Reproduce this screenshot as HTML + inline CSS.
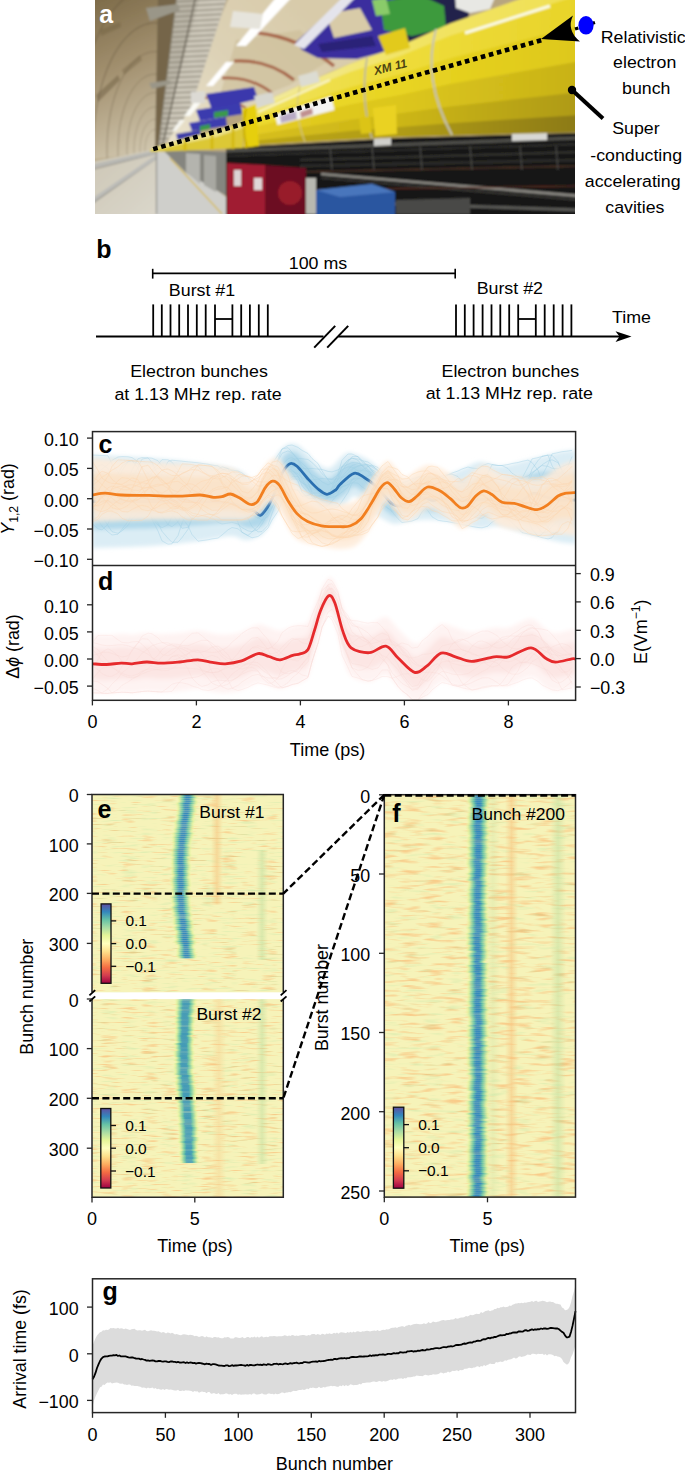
<!DOCTYPE html>
<html><head><meta charset="utf-8"><title>Figure</title>
<style>
html,body{margin:0;padding:0;background:#fff;width:685px;height:1471px;overflow:hidden;}
svg{display:block;}
text{font-family:"Liberation Sans",sans-serif;}
</style></head><body>
<svg width="685" height="1471" viewBox="0 0 685 1471">
<rect width="685" height="1471" fill="#fff"/>
<defs><clipPath id="clipa"><rect x="95" y="0" width="480" height="214"/></clipPath><filter id="blur1" x="-5%" y="-5%" width="110%" height="110%"><feGaussianBlur stdDeviation="0.8"/></filter><filter id="blur3" x="-10%" y="-10%" width="120%" height="120%"><feGaussianBlur stdDeviation="3"/></filter><linearGradient id="wallG" x1="95" y1="0" x2="160" y2="150" gradientUnits="userSpaceOnUse"><stop offset="0" stop-color="#7e6c4a"/><stop offset="0.45" stop-color="#a39170"/><stop offset="1" stop-color="#d2c8b0"/></linearGradient><linearGradient id="ceilG" x1="300" y1="0" x2="170" y2="140" gradientUnits="userSpaceOnUse"><stop offset="0" stop-color="#d8cbaa"/><stop offset="0.5" stop-color="#ddd2b6"/><stop offset="1" stop-color="#e9e2cc"/></linearGradient><linearGradient id="lowWallG" x1="95" y1="150" x2="153" y2="214" gradientUnits="userSpaceOnUse"><stop offset="0" stop-color="#cdc7b6"/><stop offset="1" stop-color="#dad6ca"/></linearGradient><linearGradient id="darkG" x1="0" y1="135" x2="0" y2="214" gradientUnits="userSpaceOnUse"><stop offset="0" stop-color="#4a4a46"/><stop offset="0.25" stop-color="#1d1d1d"/><stop offset="1" stop-color="#2a2a2a"/></linearGradient><linearGradient id="yb0" x1="256" y1="0" x2="580" y2="0" gradientUnits="userSpaceOnUse"><stop offset="0" stop-color="#f2eaa0"/><stop offset="0.45" stop-color="#f2e466"/><stop offset="1" stop-color="#f0e054"/></linearGradient><linearGradient id="yb1" x1="256" y1="0" x2="580" y2="0" gradientUnits="userSpaceOnUse"><stop offset="0" stop-color="#f0e25a"/><stop offset="0.45" stop-color="#eedc3a"/><stop offset="1" stop-color="#e8d42a"/></linearGradient><linearGradient id="yb2" x1="256" y1="0" x2="580" y2="0" gradientUnits="userSpaceOnUse"><stop offset="0" stop-color="#ecda30"/><stop offset="0.45" stop-color="#e8d422"/><stop offset="1" stop-color="#dec81a"/></linearGradient><linearGradient id="yb3" x1="256" y1="0" x2="580" y2="0" gradientUnits="userSpaceOnUse"><stop offset="0" stop-color="#e4cc22"/><stop offset="0.45" stop-color="#dcc61c"/><stop offset="1" stop-color="#c8b218"/></linearGradient><linearGradient id="yb4" x1="256" y1="0" x2="580" y2="0" gradientUnits="userSpaceOnUse"><stop offset="0" stop-color="#d6be1c"/><stop offset="0.45" stop-color="#ccb618"/><stop offset="1" stop-color="#ae9a18"/></linearGradient><linearGradient id="yb5" x1="256" y1="0" x2="580" y2="0" gradientUnits="userSpaceOnUse"><stop offset="0" stop-color="#bca618"/><stop offset="0.45" stop-color="#b09c18"/><stop offset="1" stop-color="#8c7a16"/></linearGradient></defs>
<g clip-path="url(#clipa)">
<g filter="url(#blur1)">
<rect x="90" y="-5" width="490" height="225" fill="#b7a580"/>
<polygon points="90,-5 182,-5 162,150 90,160" fill="url(#wallG)"/>
<path d="M145.6,157.0 145.4,156.0 145.3,155.0 145.2,153.9 145.1,152.9 145.0,151.8 145.0,150.7 145.0,149.6 145.0,148.6 145.1,147.5 145.2,146.4 145.3,145.4 145.4,144.3 145.5,143.3 145.7,142.3 145.9,141.3 146.2,140.4 146.4,139.4 146.7,138.5 147.0,137.7 147.3,136.8 147.7,136.0 148.1,135.3 148.4,134.5 148.8,133.8 149.3,133.2 149.7,132.6 150.2,132.1 150.6,131.6 151.1,131.1 151.6,130.7 152.1,130.4 152.6,130.1 153.1,129.9 153.6,129.7 154.1,129.6 154.7,129.5 155.2,129.5 155.7,129.5" fill="none" stroke="#5e503a" stroke-width="0.8" opacity="0.3"/>
<path d="M140.9,160.5 140.7,159.0 140.4,157.4 140.3,155.9 140.1,154.3 140.1,152.7 140.0,151.1 140.0,149.5 140.0,147.9 140.1,146.3 140.2,144.7 140.4,143.1 140.6,141.5 140.8,140.0 141.1,138.5 141.4,137.0 141.8,135.6 142.1,134.2 142.6,132.8 143.0,131.5 143.5,130.2 144.0,129.0 144.6,127.9 145.2,126.8 145.8,125.8 146.4,124.8 147.1,123.9 147.7,123.1 148.4,122.4 149.1,121.7 149.9,121.1 150.6,120.6 151.4,120.2 152.1,119.8 152.9,119.5 153.7,119.4 154.5,119.3 155.3,119.3 156.0,119.3" fill="none" stroke="#5e503a" stroke-width="0.8" opacity="0.3"/>
<path d="M135.3,164.7 134.9,162.6 134.6,160.4 134.4,158.2 134.2,156.0 134.1,153.8 134.0,151.5 134.0,149.2 134.1,147.0 134.2,144.8 134.3,142.5 134.5,140.3 134.8,138.1 135.1,136.0 135.5,133.9 136.0,131.8 136.5,129.8 137.0,127.8 137.6,125.9 138.2,124.1 138.9,122.3 139.6,120.6 140.4,119.0 141.2,117.5 142.1,116.1 143.0,114.7 143.9,113.5 144.8,112.3 145.8,111.3 146.8,110.4 147.8,109.5 148.9,108.8 149.9,108.2 151.0,107.7 152.1,107.4 153.2,107.1 154.3,107.0 155.4,107.0 156.5,107.1" fill="none" stroke="#5e503a" stroke-width="0.8" opacity="0.35"/>
<path d="M128.7,169.6 128.2,166.8 127.8,163.9 127.5,161.0 127.3,158.0 127.1,155.0 127.0,152.0 127.0,149.0 127.1,146.0 127.2,143.0 127.4,140.0 127.7,137.1 128.1,134.2 128.5,131.3 129.0,128.5 129.6,125.7 130.3,123.1 131.0,120.4 131.8,117.9 132.6,115.5 133.6,113.1 134.5,110.9 135.5,108.7 136.6,106.7 137.8,104.8 138.9,103.0 140.2,101.3 141.4,99.8 142.7,98.4 144.1,97.2 145.4,96.1 146.8,95.1 148.2,94.3 149.7,93.7 151.1,93.2 152.6,92.8 154.0,92.6 155.5,92.6 157.0,92.7" fill="none" stroke="#5e503a" stroke-width="0.9" opacity="0.35"/>
<path d="M120.2,175.9 119.6,172.2 119.1,168.3 118.7,164.5 118.4,160.6 118.1,156.6 118.0,152.6 118.0,148.7 118.1,144.7 118.3,140.8 118.6,136.8 118.9,132.9 119.4,129.1 120.0,125.3 120.7,121.6 121.5,117.9 122.3,114.4 123.3,110.9 124.3,107.6 125.5,104.4 126.7,101.2 127.9,98.3 129.3,95.4 130.7,92.8 132.2,90.2 133.8,87.9 135.4,85.7 137.1,83.7 138.8,81.8 140.5,80.2 142.3,78.7 144.2,77.5 146.0,76.4 147.9,75.5 149.9,74.9 151.8,74.4 153.7,74.2 155.6,74.2 157.6,74.3" fill="none" stroke="#5e503a" stroke-width="0.9" opacity="0.4"/>
<path d="M109.9,183.7 109.1,178.8 108.4,173.8 107.9,168.8 107.5,163.7 107.2,158.6 107.0,153.4 107.0,148.3 107.1,143.1 107.4,138.0 107.7,132.9 108.2,127.9 108.9,122.9 109.6,118.0 110.5,113.1 111.5,108.4 112.6,103.8 113.9,99.3 115.2,95.0 116.7,90.8 118.2,86.7 119.9,82.9 121.7,79.2 123.5,75.7 125.4,72.5 127.5,69.4 129.6,66.6 131.7,63.9 134.0,61.6 136.2,59.4 138.6,57.5 141.0,55.9 143.4,54.5 145.8,53.4 148.3,52.6 150.8,52.0 153.3,51.7 155.8,51.6 158.3,51.8" fill="none" stroke="#5e503a" stroke-width="1" opacity="0.4"/>
<path d="M96.7,193.5 95.7,187.2 94.8,180.7 94.1,174.3 93.6,167.7 93.2,161.1 93.0,154.4 93.0,147.8 93.2,141.1 93.5,134.5 93.9,127.9 94.6,121.4 95.4,115.0 96.4,108.6 97.5,102.4 98.8,96.3 100.3,90.3 101.9,84.5 103.6,78.9 105.5,73.5 107.5,68.3 109.7,63.3 111.9,58.6 114.3,54.1 116.8,49.8 119.4,45.9 122.1,42.2 124.9,38.8 127.8,35.8 130.8,33.0 133.8,30.6 136.9,28.5 140.0,26.7 143.2,25.2 146.4,24.1 149.6,23.4 152.8,23.0 156.1,22.9 159.3,23.2" fill="none" stroke="#5e503a" stroke-width="1.1" opacity="0.45"/>
<path d="M79.8,206.1 78.5,197.9 77.4,189.7 76.5,181.3 75.8,172.8 75.3,164.3 75.0,155.7 75.0,147.1 75.2,138.6 75.6,130.0 76.2,121.5 77.1,113.1 78.1,104.8 79.4,96.6 80.8,88.6 82.5,80.7 84.4,73.0 86.4,65.5 88.7,58.3 91.1,51.3 93.7,44.6 96.5,38.2 99.4,32.0 102.5,26.2 105.7,20.8 109.1,15.7 112.6,10.9 116.2,6.6 119.9,2.6 123.7,-1.0 127.6,-4.1 131.6,-6.8 135.6,-9.1 139.7,-11.0 143.9,-12.4 148.0,-13.4 152.2,-13.9 156.4,-14.0 160.6,-13.6" fill="none" stroke="#5e503a" stroke-width="1.2" opacity="0.45"/>
<path d="M58.2,222.2 56.5,211.7 55.1,201.1 53.9,190.3 53.0,179.4 52.4,168.4 52.1,157.4 52.0,146.3 52.3,135.3 52.8,124.3 53.6,113.3 54.6,102.5 56.0,91.8 57.6,81.3 59.5,70.9 61.7,60.8 64.1,50.9 66.7,41.2 69.6,31.9 72.7,22.9 76.1,14.3 79.7,6.0 83.5,-1.9 87.4,-9.4 91.6,-16.4 95.9,-23.0 100.4,-29.1 105.1,-34.7 109.8,-39.8 114.8,-44.4 119.8,-48.4 124.9,-51.9 130.1,-54.9 135.3,-57.3 140.7,-59.1 146.0,-60.3 151.4,-61.0 156.8,-61.1 162.2,-60.6" fill="none" stroke="#5e503a" stroke-width="1.3" opacity="0.45"/>
<path d="M31.0,242.6 28.8,229.1 26.9,215.5 25.4,201.6 24.3,187.7 23.5,173.6 23.1,159.4 23.0,145.3 23.3,131.1 24.0,117.0 25.0,103.0 26.4,89.1 28.1,75.4 30.2,61.9 32.6,48.6 35.4,35.6 38.5,23.0 41.9,10.6 45.6,-1.3 49.6,-12.9 53.9,-23.9 58.5,-34.5 63.3,-44.7 68.4,-54.2 73.7,-63.2 79.3,-71.7 85.1,-79.5 91.0,-86.7 97.1,-93.2 103.4,-99.1 109.9,-104.3 116.4,-108.8 123.1,-112.6 129.8,-115.6 136.6,-118.0 143.5,-119.6 150.4,-120.4 157.3,-120.6 164.2,-119.9" fill="none" stroke="#5e503a" stroke-width="1.4" opacity="0.45"/>
<polygon points="96,95 118,75 120,80 98,102" fill="#6e5e42" opacity="0.5"/>
<polygon points="122,70 140,55 142,60 124,75" fill="#6e5e42" opacity="0.4"/>
<polygon points="100,30 120,22 121,27 101,36" fill="#6e5e42" opacity="0.4"/>
<polygon points="158,-5 178,-5 160,149 155,150" fill="#74654a"/>
<polygon points="230,-5 425,-5 425,46 400,46 380,52.8 357,61 333,70.4 310,81 287,91 256,105 242,110 200,128 166,146" fill="url(#ceilG)"/>
<polygon points="236,40 300,30 330,60 290,85 250,100 220,95" fill="#cbbb96" opacity="0.55"/>
<path d="M258,33 Q298,37 334,66" stroke="#a0553a" stroke-width="3.4" fill="none" opacity="0.85"/>
<path d="M234,61 Q268,59 294,80" stroke="#a0553a" stroke-width="3.2" fill="none" opacity="0.85"/>
<path d="M222,78 Q250,76 272,93" stroke="#a0553a" stroke-width="2.8" fill="none" opacity="0.85"/>
<path d="M205,98 Q228,96 246,108" stroke="#a0553a" stroke-width="2.2" fill="none" opacity="0.85"/>
<polygon points="177,-5 228,-5 190,110 161,149 158,149" fill="#b9b4a6"/>
<polygon points="200,-5 228,-5 190,110 161,149" fill="#cdc8ba"/>
<line x1="177" y1="-3.5" x2="228" y2="-6.5" stroke="#7e786a" stroke-width="1.0"/>
<line x1="176.4" y1="1.6" x2="226.3" y2="-1.3" stroke="#7e786a" stroke-width="1.0"/>
<line x1="175.7" y1="6.7" x2="224.6" y2="3.9" stroke="#7e786a" stroke-width="1.0"/>
<line x1="175.1" y1="11.8" x2="222.9" y2="9.1" stroke="#7e786a" stroke-width="1.0"/>
<line x1="174.5" y1="16.8" x2="221.2" y2="14.2" stroke="#7e786a" stroke-width="1.0"/>
<line x1="173.8" y1="21.9" x2="219.5" y2="19.4" stroke="#7e786a" stroke-width="1.0"/>
<line x1="173.2" y1="27" x2="217.8" y2="24.6" stroke="#7e786a" stroke-width="1.0"/>
<line x1="172.6" y1="32.1" x2="216.1" y2="29.8" stroke="#7e786a" stroke-width="1.0"/>
<line x1="171.9" y1="37.2" x2="214.4" y2="35" stroke="#7e786a" stroke-width="1.0"/>
<line x1="171.3" y1="42.2" x2="212.7" y2="40.1" stroke="#7e786a" stroke-width="1.0"/>
<line x1="170.7" y1="47.3" x2="211" y2="45.3" stroke="#7e786a" stroke-width="1.0"/>
<line x1="170" y1="52.4" x2="209.3" y2="50.5" stroke="#7e786a" stroke-width="1.0"/>
<line x1="169.4" y1="57.5" x2="207.6" y2="55.7" stroke="#7e786a" stroke-width="1.0"/>
<line x1="168.8" y1="62.6" x2="205.9" y2="60.9" stroke="#7e786a" stroke-width="1.0"/>
<line x1="168.1" y1="67.7" x2="204.3" y2="66.1" stroke="#7e786a" stroke-width="1.0"/>
<line x1="167.5" y1="72.8" x2="202.6" y2="71.2" stroke="#7e786a" stroke-width="1.0"/>
<line x1="166.9" y1="77.8" x2="200.9" y2="76.4" stroke="#7e786a" stroke-width="1.0"/>
<line x1="166.2" y1="82.9" x2="199.2" y2="81.6" stroke="#7e786a" stroke-width="1.0"/>
<line x1="165.6" y1="88" x2="197.5" y2="86.8" stroke="#7e786a" stroke-width="1.0"/>
<line x1="165" y1="93.1" x2="195.8" y2="92" stroke="#7e786a" stroke-width="1.0"/>
<line x1="164.3" y1="98.2" x2="194.1" y2="97.2" stroke="#7e786a" stroke-width="1.0"/>
<line x1="163.7" y1="103.2" x2="192.4" y2="102.3" stroke="#7e786a" stroke-width="1.0"/>
<line x1="163.1" y1="108.3" x2="190.7" y2="107.5" stroke="#7e786a" stroke-width="1.0"/>
<line x1="162.4" y1="113.4" x2="187.7" y2="112.7" stroke="#7e786a" stroke-width="1.0"/>
<line x1="161.8" y1="118.5" x2="183.9" y2="117.9" stroke="#7e786a" stroke-width="1.0"/>
<line x1="161.2" y1="123.6" x2="180.1" y2="123.1" stroke="#7e786a" stroke-width="1.0"/>
<line x1="160.5" y1="128.7" x2="176.3" y2="128.3" stroke="#7e786a" stroke-width="1.0"/>
<line x1="159.9" y1="133.8" x2="172.5" y2="133.4" stroke="#7e786a" stroke-width="1.0"/>
<line x1="159.3" y1="138.8" x2="168.6" y2="138.6" stroke="#7e786a" stroke-width="1.0"/>
<line x1="158.6" y1="143.9" x2="164.8" y2="143.8" stroke="#7e786a" stroke-width="1.0"/>
<line x1="196" y1="-5" x2="162" y2="149" stroke="#5e584c" stroke-width="1.2"/>
<line x1="177" y1="-5" x2="158" y2="149" stroke="#8a8474" stroke-width="1.0"/>
<polygon points="146,8 178,4 180,10 150,21" fill="#9a9688"/>
<polygon points="149,83 170,80 171,84 152,89" fill="#9a9688"/>
<polygon points="278,-5 294,-5 246,46 236,46" fill="#ffffff"/>
<polygon points="226,62 234,62 213,86 206,86" fill="#ffffff"/>
<polygon points="196,100 203,100 190,116 184,116" fill="#fbfbf6"/>
<polygon points="180,120 185,120 176,131 172,131" fill="#f6f6f0"/>
<polygon points="233,11 263,14 260,29 230,27" fill="#e6e4dc"/>
<polygon points="191,92 205,91 205,103 191,103" fill="#dcdad4"/>
<polygon points="296,42 348,-5 400,-5 400,46 380,53 357,59 318,58 302,50" fill="#3a2f9e"/>
<polygon points="326,14 360,8 372,30 334,38" fill="#d8cba8"/>
<polygon points="318,44 372,36 376,46 322,52" fill="#2c2478"/>
<polygon points="294,45 345,-5 358,-5 304,49" fill="#e4e4ec"/>
<polygon points="395,-5 472,-5 468,20 440,30 404,44 396,40" fill="#24244c"/>
<polygon points="380,2 420,-5 444,6 446,28 412,36 384,30" fill="#3e9a3e"/>
<polygon points="372,0 386,-2 390,14 376,16" fill="#8acb6a"/>
<polygon points="455,-5 496,-5 490,9 470,13 456,8" fill="#e8e8e4"/>
<polygon points="206,94 254,87 258,99 212,110" fill="#3b39ac"/>
<polygon points="196,110 240,103 243,114 200,121" fill="#3a3aae"/>
<polygon points="189,123 226,117 227,126 192,131" fill="#3d3cae"/>
<polygon points="176,134 200,130 201,137 178,141" fill="#3c3ca8"/>
<polygon points="214,112 228,110 228,116 214,118" fill="#3a9a4c"/>
<polygon points="200,126 210,124 210,129 200,131" fill="#3a9a4c"/>
<polygon points="90,162 157,149 157,220 90,220" fill="url(#lowWallG)"/>
<line x1="90" y1="170" x2="156" y2="153.5" stroke="#8c8a84" stroke-width="1.2"/>
<line x1="90" y1="167" x2="156" y2="152" stroke="#b8b8b4" stroke-width="3.4"/>
<line x1="90" y1="205" x2="156" y2="158.5" stroke="#8c8a84" stroke-width="1.2"/>
<line x1="90" y1="202" x2="156" y2="157" stroke="#bcbcb8" stroke-width="3.4"/>
<polygon points="156,150 156,220 243,220 230,200 166,152" fill="#cfcfcb"/>
<line x1="170" y1="158" x2="222" y2="214" stroke="#d8bc50" stroke-width="1.2"/>
<line x1="156.5" y1="150" x2="156.5" y2="214" stroke="#8a8a86" stroke-width="1.2"/>
<polygon points="162,149 230,152 230,198 185,172 166,153" fill="#85857f"/>
<polygon points="186,153 200,154 200,184 186,172" fill="#b4b4ae"/>
<polygon points="204,155 216,156 216,192 204,185" fill="#a8a8a2"/>
<polygon points="226,149 256,146 400,138 580,133 580,220 226,220" fill="#161616"/>
<line x1="226" y1="151" x2="580" y2="138" stroke="#4e4d48" stroke-width="3.5"/>
<line x1="226" y1="156" x2="580" y2="144" stroke="#3a3a36" stroke-width="1.2"/>
<line x1="300" y1="160" x2="580" y2="152" stroke="#3c3c38" stroke-width="1.5"/>
<line x1="300" y1="166" x2="580" y2="160" stroke="#2e2e2c" stroke-width="2.5"/>
<line x1="300" y1="172" x2="580" y2="166" stroke="#5a3a2c" stroke-width="1"/>
<line x1="321" y1="174" x2="580" y2="196" stroke="#8c8a84" stroke-width="2.6"/>
<line x1="321" y1="178" x2="580" y2="200" stroke="#4a4844" stroke-width="1.2"/>
<line x1="300" y1="190" x2="580" y2="186" stroke="#6a3626" stroke-width="0.9"/>
<line x1="395" y1="204" x2="580" y2="210" stroke="#5a5a56" stroke-width="3"/>
<line x1="330" y1="146" x2="332" y2="170" stroke="#4a4a46" stroke-width="1.2"/>
<line x1="372" y1="146" x2="374" y2="170" stroke="#4a4a46" stroke-width="1.2"/>
<line x1="420" y1="146" x2="422" y2="170" stroke="#4a4a46" stroke-width="1.2"/>
<line x1="470" y1="146" x2="472" y2="170" stroke="#4a4a46" stroke-width="1.2"/>
<line x1="520" y1="146" x2="522" y2="170" stroke="#4a4a46" stroke-width="1.2"/>
<line x1="556" y1="146" x2="558" y2="170" stroke="#4a4a46" stroke-width="1.2"/>
<polygon points="512,128 547,127 547,140 512,141" fill="#d8d8d4"/>
<polygon points="374,139 391,138 391,145 374,146" fill="#d0d0cc"/>
<polygon points="396,200 470,198 470,214 396,214" fill="#4a4a46"/>
<polygon points="227,163 265,165 265,220 227,220" fill="#a01a30"/>
<polygon points="265,165 306,168 306,220 265,220" fill="#6c1020"/>
<circle cx="290" cy="193" r="12" fill="#981a2a"/>
<polygon points="234,170 241,170 241,186 234,186" fill="#dcd4d4"/>
<polygon points="254,178 262,178 262,190 254,190" fill="#e0d8d8"/>
<polygon points="316,190 372,184 395,192 395,220 316,220" fill="#2a56a0"/>
<polygon points="316,190 372,184 395,192 340,197" fill="#4a76bc"/>
<polygon points="306,178 316,178 316,214 306,214" fill="#b8b8b0"/>
<polygon points="151,149 160,146 186,138 216,131 238,124 243,121 243,148 200,150 150,152" fill="#dcc834"/>
<polygon points="151,149 160,146 186,138 216,131 238,124 243,121 243,128 216,137 186,143 160,149 151,150" fill="#ece286"/>
<line x1="185" y1="139" x2="185" y2="151" stroke="#d2b800" stroke-width="2.4"/>
<line x1="212" y1="132" x2="212" y2="150" stroke="#d2b800" stroke-width="2.4"/>
<line x1="233" y1="125" x2="233" y2="149" stroke="#d2b800" stroke-width="2.4"/>
<polygon points="256,105 300,85.3 350,63.7 400,46 450,23.5 500,6 540,-8.1 585,-24 585,-5.3 540,8.9 500,21.4 450,37 400,56.9 350,72.8 300,92.2 256,109.8" fill="url(#yb0)"/>
<polygon points="256,109.4 300,91.6 350,72.1 400,56 450,35.8 500,20.1 540,7.5 585,-6.8 585,25.9 540,37.1 500,47 450,59.4 400,75.1 350,87.9 300,103.6 256,117.8" fill="url(#yb1)"/>
<polygon points="256,117.4 300,103 350,87.2 400,74.2 450,58.3 500,45.7 540,35.7 585,24.4 585,61.8 540,69.6 500,76.5 450,85.2 400,96.1 350,105.3 300,116.6 256,127" fill="url(#yb2)"/>
<polygon points="256,126.6 300,116.1 350,104.6 400,95.1 450,84 500,75.2 540,68.2 585,60.2 585,93 540,97.9 500,102.2 450,107.6 400,114.2 350,120.5 300,128 256,135" fill="url(#yb3)"/>
<polygon points="256,134.6 300,127.4 350,119.7 400,113.3 450,106.5 500,100.9 540,96.5 585,91.4 585,116.4 540,119.1 500,121.4 450,124.4 400,127.9 350,131.8 300,136.5 256,141" fill="url(#yb4)"/>
<polygon points="256,140.6 300,136 350,131.1 400,127 450,123.3 500,120.1 540,117.6 585,114.8 585,132 540,133.2 500,134.2 450,135.6 400,137 350,139.4 300,142.2 256,145" fill="url(#yb5)"/>
<polygon points="242,109 256,104 259,146 244,148" fill="#e6cf10"/>
<path d="M246,109 Q241,128 247,148" stroke="#c8ae00" stroke-width="2" fill="none"/>
<path d="M367,58 Q360,98 372,139" stroke="#b6b4a4" stroke-width="1.6" fill="none"/>
<path d="M436,29 Q422,80 452,135" stroke="#c4c2b0" stroke-width="2" fill="none"/>
<path d="M300,86 Q293,112 305,142" stroke="#d2c480" stroke-width="1.2" fill="none"/>
<polygon points="254,96 272,92 275,103 257,108" fill="#d8d8d0"/>
<polygon points="298,76 317,71 320,82 301,87" fill="#dcdcd2"/>
<polygon points="378,36 405,28 410,48 386,55" fill="#e2ca1c"/>
<polygon points="373,108 396,105 397,134 375,136" fill="#ead222"/>
<polygon points="359,118 370,116 372,133 361,134" fill="#dcc414"/>
<polygon points="275,114.7 331,96 334.6,110 277.4,125" fill="#f4f4f2"/>
<polygon points="280,116 296,111 297,119 281,123" fill="#b8aac4"/>
<polygon points="300,112 312,108 313,114 301,118" fill="#c09090"/>
<line x1="465" y1="33" x2="550" y2="6" stroke="#fbfbe8" stroke-width="3"/>
<line x1="258" y1="112" x2="330" y2="80" stroke="#fbf8e0" stroke-width="2" opacity="0.8"/>
</g>
<text transform="translate(375,75) rotate(-14)" font-size="12" font-weight="bold" font-style="italic" fill="#4c4412">XM 11</text>
<line x1="153.2" y1="149.1" x2="543" y2="39.8" stroke="#000" stroke-width="4.6" stroke-dasharray="4.6,3.7"/>
</g>
<path d="M541,39 L573,15.5 Q566,30 580,41.5 Z" fill="#000"/>
<line x1="575" y1="29" x2="598" y2="21.5" stroke="#000" stroke-width="3.2" stroke-dasharray="3.5,14"/>
<ellipse cx="586" cy="25.3" rx="7.6" ry="9.3" fill="#0000ff"/>
<circle cx="572" cy="90" r="4.2" fill="#000"/>
<line x1="572" y1="90" x2="603" y2="118.5" stroke="#000" stroke-width="4"/>
<text x="99.2" y="22.9" font-size="25" font-weight="bold" fill="#fff">a</text>
<text transform="translate(643.20,42.80) scale(1.045,1)" font-size="17" text-anchor="middle">Relativistic</text>
<text transform="translate(644.70,68.20) scale(1.045,1)" font-size="17" text-anchor="middle">electron</text>
<text transform="translate(646.20,94.20) scale(1.045,1)" font-size="17" text-anchor="middle">bunch</text>
<text transform="translate(635.90,134.20) scale(1.045,1)" font-size="17" text-anchor="middle">Super</text>
<text transform="translate(636.10,161.40) scale(1.045,1)" font-size="17" text-anchor="middle">-conducting</text>
<text transform="translate(632.70,187.20) scale(1.045,1)" font-size="17" text-anchor="middle">accelerating</text>
<text transform="translate(634.90,213.40) scale(1.045,1)" font-size="17" text-anchor="middle">cavities</text>
<text x="96.3" y="258.3" font-size="25" font-weight="bold">b</text>
<line x1="152.7" y1="273.4" x2="455.2" y2="273.4" stroke="#000" stroke-width="1.8"/>
<line x1="152.7" y1="268.8" x2="152.7" y2="278.6" stroke="#000" stroke-width="1.6"/>
<line x1="455.2" y1="268.8" x2="455.2" y2="278.6" stroke="#000" stroke-width="1.6"/>
<text transform="translate(318.00,269.20) scale(1.03,1)" font-size="17.3" text-anchor="middle">100 ms</text>
<text transform="translate(202.00,295.60) scale(1.03,1)" font-size="17.3" text-anchor="middle">Burst #1</text>
<text transform="translate(509.80,294.00) scale(1.03,1)" font-size="17.3" text-anchor="middle">Burst #2</text>
<line x1="153.2" y1="304.4" x2="153.2" y2="336.6" stroke="#000" stroke-width="1.8"/>
<line x1="161.8" y1="304.4" x2="161.8" y2="336.6" stroke="#000" stroke-width="1.8"/>
<line x1="170.5" y1="304.4" x2="170.5" y2="336.6" stroke="#000" stroke-width="1.8"/>
<line x1="179.2" y1="304.4" x2="179.2" y2="336.6" stroke="#000" stroke-width="1.8"/>
<line x1="188" y1="304.4" x2="188" y2="336.6" stroke="#000" stroke-width="1.8"/>
<line x1="196.8" y1="304.4" x2="196.8" y2="336.6" stroke="#000" stroke-width="1.8"/>
<line x1="205.7" y1="304.4" x2="205.7" y2="336.6" stroke="#000" stroke-width="1.8"/>
<line x1="215" y1="304.4" x2="215" y2="336.6" stroke="#000" stroke-width="1.8"/>
<line x1="232.4" y1="304.4" x2="232.4" y2="336.6" stroke="#000" stroke-width="1.8"/>
<line x1="241.2" y1="304.4" x2="241.2" y2="336.6" stroke="#000" stroke-width="1.8"/>
<line x1="249.9" y1="304.4" x2="249.9" y2="336.6" stroke="#000" stroke-width="1.8"/>
<line x1="258.8" y1="304.4" x2="258.8" y2="336.6" stroke="#000" stroke-width="1.8"/>
<line x1="267.8" y1="304.4" x2="267.8" y2="336.6" stroke="#000" stroke-width="1.8"/>
<line x1="215" y1="319" x2="232.4" y2="319" stroke="#000" stroke-width="1.8"/>
<line x1="456" y1="304.4" x2="456" y2="336.6" stroke="#000" stroke-width="1.8"/>
<line x1="464.8" y1="304.4" x2="464.8" y2="336.6" stroke="#000" stroke-width="1.8"/>
<line x1="473.6" y1="304.4" x2="473.6" y2="336.6" stroke="#000" stroke-width="1.8"/>
<line x1="482.6" y1="304.4" x2="482.6" y2="336.6" stroke="#000" stroke-width="1.8"/>
<line x1="491.5" y1="304.4" x2="491.5" y2="336.6" stroke="#000" stroke-width="1.8"/>
<line x1="500.3" y1="304.4" x2="500.3" y2="336.6" stroke="#000" stroke-width="1.8"/>
<line x1="509.2" y1="304.4" x2="509.2" y2="336.6" stroke="#000" stroke-width="1.8"/>
<line x1="518.2" y1="304.4" x2="518.2" y2="336.6" stroke="#000" stroke-width="1.8"/>
<line x1="535.8" y1="304.4" x2="535.8" y2="336.6" stroke="#000" stroke-width="1.8"/>
<line x1="544.7" y1="304.4" x2="544.7" y2="336.6" stroke="#000" stroke-width="1.8"/>
<line x1="553.7" y1="304.4" x2="553.7" y2="336.6" stroke="#000" stroke-width="1.8"/>
<line x1="562.6" y1="304.4" x2="562.6" y2="336.6" stroke="#000" stroke-width="1.8"/>
<line x1="571.4" y1="304.4" x2="571.4" y2="336.6" stroke="#000" stroke-width="1.8"/>
<line x1="518.2" y1="319" x2="535.8" y2="319" stroke="#000" stroke-width="1.8"/>
<line x1="96" y1="336.6" x2="323.5" y2="336.6" stroke="#000" stroke-width="2.0"/>
<line x1="338.2" y1="336.6" x2="620" y2="336.6" stroke="#000" stroke-width="2.0"/>
<path d="M631.5,336.6 L615.5,331.2 L619.5,336.6 L615.5,342 Z" fill="#000"/>
<line x1="314.2" y1="347.6" x2="335.2" y2="325.9" stroke="#000" stroke-width="2.0"/>
<line x1="327.2" y1="347.6" x2="348.2" y2="325.9" stroke="#000" stroke-width="2.0"/>
<text transform="translate(612.00,322.80) scale(1.03,1)" font-size="17.3">Time</text>
<text transform="translate(199.00,377.00) scale(1.03,1)" font-size="17.3" text-anchor="middle">Electron bunches</text>
<text transform="translate(198.00,399.60) scale(1.03,1)" font-size="17.3" text-anchor="middle">at 1.13 MHz rep. rate</text>
<text transform="translate(510.30,377.00) scale(1.03,1)" font-size="17.3" text-anchor="middle">Electron bunches</text>
<text transform="translate(509.30,399.20) scale(1.03,1)" font-size="17.3" text-anchor="middle">at 1.13 MHz rep. rate</text>
<defs><clipPath id="clipc"><rect x="92.5" y="431.6" width="483.1" height="134"/></clipPath><clipPath id="clipd"><rect x="92.5" y="565.6" width="483.1" height="134.7"/></clipPath></defs>
<defs><filter id="bblur" x="-5%" y="-20%" width="110%" height="140%"><feGaussianBlur stdDeviation="2.2"/></filter></defs>
<g clip-path="url(#clipc)">
<g filter="url(#bblur)">
<path d="M92,455C101.7,455.5 132,456.7 150,458C168,459.3 186.7,461.3 200,463C213.3,464.7 222.5,466.2 230,468C237.5,469.8 240.8,470.7 245,474C249.2,477.3 251.7,486.7 255,488C258.3,489.3 261.7,487 265,482C268.3,477 271.7,464 275,458C278.3,452 281.7,448.3 285,446C288.3,443.7 291.7,443.2 295,444C298.3,444.8 301.2,447.7 305,451C308.8,454.3 313.8,461.2 318,464C322.2,466.8 325.5,469.7 330,468C334.5,466.3 340.8,456.3 345,454C349.2,451.7 350.8,452.8 355,454C359.2,455.2 365,457.7 370,461C375,464.3 380.8,470.7 385,474C389.2,477.3 391.7,479.7 395,481C398.3,482.3 400.8,482.8 405,482C409.2,481.2 415,476.7 420,476C425,475.3 430,478.3 435,478C440,477.7 445,475.7 450,474C455,472.3 460,470 465,468C470,466 474.2,462.3 480,462C485.8,461.7 493.3,466 500,466C506.7,466 513.3,463.5 520,462C526.7,460.5 533.3,458.7 540,457C546.7,455.3 554.1,453.2 560,452C565.9,450.8 573,450.3 575.6,450L575.6,544C573,543.7 565.9,543.2 560,542C554.1,540.8 546.7,538.7 540,537C533.3,535.3 526.7,533.8 520,532C513.3,530.2 506.7,526.7 500,526C493.3,525.3 485.8,528.2 480,528C474.2,527.8 470,526 465,525C460,524 455,522.8 450,522C445,521.2 440,520.3 435,520C430,519.7 425,519.7 420,520C415,520.3 409.2,521.3 405,522C400.8,522.7 398.3,524.3 395,524C391.7,523.7 389.2,522.3 385,520C380.8,517.7 375,514 370,510C365,506 359.2,497 355,496C350.8,495 349.2,501.7 345,504C340.8,506.3 334.5,509.3 330,510C325.5,510.7 322.2,509.7 318,508C313.8,506.3 308.8,503.5 305,500C301.2,496.5 298.3,487.5 295,487C291.7,486.5 288.3,492.2 285,497C281.7,501.8 278.3,510.2 275,516C271.7,521.8 268.3,528.3 265,532C261.7,535.7 258.3,536.7 255,538C251.7,539.3 249.2,540.3 245,540C240.8,539.7 237.5,535.8 230,536C222.5,536.2 213.3,539.3 200,541C186.7,542.7 168,544.8 150,546C132,547.2 101.7,547.7 92,548Z" fill="#dbedf5"/>
<path d="M92,473.7C101.7,474 132,474.6 150,475.4C168,476.2 186.7,477.3 200,478.4C213.3,479.5 222.5,480.5 230,482C237.5,483.5 240.8,485 245,487.6C249.2,490.2 251.7,496.5 255,497.5C258.3,498.5 261.7,497.8 265,493.5C268.3,489.2 271.7,478.1 275,471.7C278.3,465.3 281.7,458.2 285,455C288.3,451.8 291.7,451.3 295,452.3C298.3,453.3 301.2,457.2 305,460.8C308.8,464.4 313.8,471.1 318,474C322.2,476.9 325.5,479.9 330,478.3C334.5,476.6 340.8,467 345,464.3C349.2,461.5 350.8,460.8 355,461.7C359.2,462.5 365,465.6 370,469.1C375,472.7 380.8,479.3 385,482.9C389.2,486.5 391.7,489.4 395,490.7C398.3,492.1 400.8,492.1 405,491.2C409.2,490.2 415,485.7 420,484.9C425,484.2 430,487 435,486.9C440,486.7 445,485 450,484C455,483 460,481.9 465,480.8C470,479.6 474.2,477.2 480,477C485.8,476.8 493.3,479.2 500,479.3C506.7,479.4 513.3,478.9 520,477.7C526.7,476.5 533.3,473.2 540,472.1C546.7,471 554.1,471.5 560,471.2C565.9,470.9 573,470.2 575.6,470L575.6,526.4C573,526.2 565.9,526.3 560,525.2C554.1,524.1 546.7,521 540,520.1C533.3,519.2 526.7,520.5 520,519.7C513.3,518.9 506.7,515.8 500,515.3C493.3,514.8 485.8,516.7 480,516.6C474.2,516.5 470,515.6 465,515C460,514.3 455,513.3 450,512.8C445,512.3 440,512.3 435,512.1C430,511.8 425,510.8 420,511.3C415,511.9 409.2,514.3 405,515.2C400.8,516 398.3,517.3 395,516.5C391.7,515.8 389.2,513.5 385,510.5C380.8,507.5 375,502.5 370,498.5C365,494.6 359.2,487.6 355,486.9C350.8,486.1 349.2,491.5 345,494.3C340.8,497 334.5,502.4 330,503.5C325.5,504.5 322.2,502.6 318,500.4C313.8,498.2 308.8,493.9 305,490.2C301.2,486.5 298.3,478.9 295,478.1C291.7,477.3 288.3,480.9 285,485.6C281.7,490.3 278.3,500.2 275,506.5C271.7,512.8 268.3,520 265,523.5C261.7,527 258.3,526.9 255,527.5C251.7,528.1 249.2,528 245,527.2C240.8,526.4 237.5,523.1 230,522.8C222.5,522.5 213.3,524.3 200,525.2C186.7,526.1 168,527.5 150,528.2C132,528.9 101.7,529.3 92,529.5Z" fill="#b0d8ea"/>
</g>
<path d="M92,515.5 98,520.0 102,526.2 108,531.9 112,535.0 118,534.2 122,529.3 128,521.5 132,512.9 138,505.3 142,500.3 148,498.2 152,498.4 158,500.0 162,502.0 168,504.4 172,507.3 178,511.6 182,517.8 188,525.7 192,534.5 198,541.2 202,540.6 208,539.8 212,538.9 218,538.1 222,535.0 228,529.8 232,527.5 238,528.8 242,532.2 248,535.7 252,537.8 258,536.5 262,533.5 268,528.0 272,520.0 278,511.2 282,501.8 288,494.5 292,489.5 298,490.2 302,496.4 308,495.4 312,493.4 318,492.8 322,493.3 328,493.7 332,492.3 338,489.5 342,486.8 348,484.8 352,482.7 358,483.2 362,486.9 368,490.8 372,495.1 378,499.7 382,504.6 388,508.3 392,510.6 398,510.3 402,507.8 408,504.8 412,502.5 418,501.9 422,504.9 428,510.8 432,516.8 438,520.3 442,521.0 448,521.7 452,522.5 458,523.5 462,524.5 468,525.5 472,526.5 478,527.5 482,527.8 488,526.1 492,522.1 498,518.7 502,517.5 508,518.9 512,522.7 518,528.3 522,532.6 528,533.9 532,535.1 538,536.4 542,534.4 548,527.2 552,519.9 558,513.7 562,508.7 568,504.9 572,501.7" fill="none" stroke="#9fcfe4" stroke-width="0.7" stroke-opacity="0.6"/>
<path d="M92,493.0 98,504.8 102,516.3 108,525.7 112,531.7 118,533.3 122,530.9 128,525.4 132,518.8 138,513.1 142,510.1 148,511.0 152,515.7 158,523.0 162,531.3 168,538.3 172,542.3 178,542.2 182,537.6 188,529.3 192,518.9 198,507.9 202,498.0 208,490.6 212,485.8 218,483.7 222,483.7 228,485.3 232,488.3 238,492.3 242,496.6 248,501.2 252,505.4 258,509.8 262,509.6 268,502.3 272,491.4 278,478.0 282,465.2 288,458.7 292,457.5 298,462.0 302,471.1 308,482.8 312,493.6 318,502.8 322,508.3 328,509.6 332,509.0 338,507.0 342,501.4 348,492.4 352,483.1 358,478.6 362,479.2 368,482.2 372,487.7 378,494.9 382,502.4 388,508.2 392,511.8 398,512.0 402,509.0 408,504.2 412,497.3 418,490.6 422,486.0 428,484.2 432,483.8 438,483.0 442,482.7 448,483.9 452,486.3 458,490.1 462,495.4 468,501.3 472,505.9 478,509.6 482,511.4 488,511.1 492,509.3 498,506.7 502,504.5 508,503.5 512,504.5 518,508.3 522,513.6 528,520.1 532,529.0 538,536.4 542,537.6 548,538.9 552,537.8 558,529.2 562,517.9 568,505.8 572,494.3" fill="none" stroke="#9fcfe4" stroke-width="0.7" stroke-opacity="0.6"/>
<path d="M92,491.1 98,490.4 102,489.4 108,486.5 112,481.0 118,473.7 122,466.5 128,461.5 132,460.4 138,463.8 142,470.4 148,478.3 152,485.3 158,489.5 162,490.6 168,489.5 172,488.1 178,487.8 182,489.7 188,493.3 192,497.4 198,500.4 202,500.9 208,498.6 212,494.6 218,490.5 222,488.1 228,488.7 232,492.8 238,499.5 242,506.9 248,512.4 252,515.3 258,517.7 262,515.8 268,507.8 272,497.9 278,486.0 282,474.0 288,468.1 292,465.8 298,466.7 302,468.4 308,468.7 312,468.4 318,469.1 322,469.4 328,471.4 332,471.9 338,469.9 342,466.9 348,464.3 352,462.6 358,462.8 362,465.5 368,469.5 372,475.7 378,483.7 382,492.6 388,500.5 392,505.6 398,506.5 402,503.5 408,498.9 412,494.8 418,492.1 422,492.2 428,494.8 432,498.6 438,498.6 442,497.8 448,496.8 452,495.4 458,494.7 462,495.9 468,499.1 472,502.7 478,505.6 482,506.7 488,504.9 492,500.9 498,495.0 502,488.6 508,483.1 512,479.8 518,478.8 522,478.1 528,475.9 532,472.5 538,468.9 542,464.8 548,461.0 552,459.8 558,462.7 562,470.1 568,480.0 572,489.6" fill="none" stroke="#9fcfe4" stroke-width="0.7" stroke-opacity="0.6"/>
<path d="M92,478.4 98,485.6 102,491.8 108,494.5 112,493.6 118,491.2 122,490.3 128,492.6 132,497.4 138,502.0 142,503.6 148,501.2 152,496.1 158,491.4 162,489.7 168,491.7 172,496.0 178,499.8 182,501.2 188,500.0 192,498.4 198,499.0 202,503.1 208,510.1 212,517.4 218,522.4 222,524.0 228,523.0 232,522.3 238,524.0 242,527.6 248,530.9 252,531.6 258,529.5 262,524.1 268,513.3 272,499.9 278,484.4 282,469.8 288,462.3 292,459.0 298,458.4 302,458.7 308,459.5 312,462.6 318,468.4 322,473.8 328,478.9 332,479.1 338,475.0 342,469.6 348,466.8 352,467.2 358,470.9 362,477.9 368,485.1 372,490.1 378,493.4 382,497.0 388,501.8 392,507.2 398,510.6 402,511.3 408,509.7 412,506.2 418,501.4 422,498.1 428,498.7 432,502.2 438,503.7 442,505.3 448,506.0 452,505.3 458,504.6 462,505.3 468,507.9 472,511.7 478,515.0 482,515.6 488,513.0 492,508.7 498,504.9 502,502.9 508,502.7 512,502.9 518,501.9 522,495.3 528,484.0 532,473.8 538,467.7 542,465.5 548,466.4 552,468.3 558,468.8 562,466.8 568,464.1 572,463.8" fill="none" stroke="#9fcfe4" stroke-width="0.7" stroke-opacity="0.6"/>
<path d="M92,519.8 98,511.0 102,501.9 108,495.9 112,493.6 118,492.5 122,489.2 128,481.4 132,470.0 138,458.8 142,457.6 148,457.9 152,462.5 158,475.1 162,485.7 168,490.7 172,489.1 178,483.7 182,478.7 188,477.2 192,480.1 198,485.4 202,490.0 208,491.6 212,490.6 218,489.4 222,491.3 228,498.2 232,509.5 238,522.4 242,532.4 248,535.5 252,531.9 258,526.3 262,520.1 268,510.8 272,501.5 278,491.3 282,480.2 288,472.3 292,466.8 298,466.4 302,469.9 308,476.3 312,484.5 318,491.9 322,496.2 328,496.0 332,487.8 338,473.6 342,460.3 348,454.0 352,454.0 358,456.8 362,461.9 368,466.1 372,469.6 378,473.4 382,478.3 388,485.1 392,494.0 398,501.5 402,504.6 408,502.8 412,497.3 418,490.3 422,486.3 428,487.3 432,492.9 438,498.7 442,504.7 448,509.6 452,511.7 458,511.9 462,511.6 468,512.7 472,515.3 478,518.1 482,518.3 488,514.1 492,506.7 498,498.4 502,490.9 508,488.4 512,492.1 518,500.0 522,504.8 528,503.8 532,497.1 538,489.3 542,482.2 548,476.5 552,474.0 558,473.6 562,472.0 568,466.3 572,456.6" fill="none" stroke="#9fcfe4" stroke-width="0.7" stroke-opacity="0.6"/>
<path d="M92,511.3 98,516.1 102,518.0 108,517.4 112,515.0 118,511.4 122,507.4 128,503.3 132,499.5 138,496.0 142,492.8 148,490.0 152,487.6 158,485.8 162,484.8 168,484.7 172,485.6 178,487.3 182,489.2 188,490.7 192,491.3 198,490.3 202,487.6 208,483.5 212,478.5 218,473.6 222,470.0 228,468.5 232,470.5 238,476.2 242,484.8 248,496.3 252,507.2 258,517.1 262,520.4 268,516.4 272,507.9 278,495.0 282,478.3 288,465.5 292,460.0 298,459.8 302,463.2 308,468.8 312,476.3 318,484.6 322,492.4 328,496.2 332,495.7 338,491.8 342,485.2 348,477.1 352,469.9 358,466.2 362,465.2 368,464.8 372,466.2 378,469.7 382,474.3 388,479.5 392,485.1 398,489.5 402,492.1 408,493.2 412,493.4 418,493.1 422,494.0 428,496.4 432,499.6 438,499.4 442,498.9 448,498.6 452,497.5 458,495.7 462,493.7 468,492.0 472,491.4 478,492.5 482,495.7 488,500.1 492,504.1 498,507.6 502,509.9 508,510.5 512,508.5 518,504.0 522,494.2 528,480.7 532,469.1 538,460.6 542,456.4 548,455.1 552,455.2 558,461.7 562,471.2 568,481.1 572,489.3" fill="none" stroke="#9fcfe4" stroke-width="0.7" stroke-opacity="0.6"/>
<path d="M92,455.0 98,455.3 102,455.5 108,455.8 112,464.0 118,472.0 122,478.4 128,483.2 132,487.4 138,492.5 142,499.7 148,508.8 152,518.1 158,525.1 162,527.7 168,524.7 172,516.7 178,505.7 182,494.7 188,486.3 192,481.5 198,480.4 202,481.6 208,483.2 212,483.7 218,482.7 222,480.8 228,479.3 232,480.1 238,483.8 242,489.6 248,496.7 252,502.7 258,506.3 262,502.9 268,491.2 272,475.0 278,461.3 282,453.3 288,450.9 292,453.0 298,459.7 302,469.2 308,478.7 312,485.7 318,491.1 322,495.2 328,497.6 332,497.2 338,495.2 342,492.1 348,487.2 352,479.9 358,473.4 362,470.2 368,466.7 372,465.1 378,467.5 382,471.8 388,475.8 392,481.9 398,486.3 402,488.0 408,487.7 412,486.3 418,485.5 422,487.3 428,491.7 432,497.5 438,499.9 442,500.9 448,500.5 452,497.9 458,493.5 462,489.1 468,486.5 472,487.0 478,490.4 482,495.7 488,500.2 492,502.2 498,502.4 502,501.1 508,499.3 512,497.7 518,497.7 522,497.1 528,493.7 532,488.7 538,483.5 542,475.7 548,464.3 552,453.9 558,452.6 562,451.7 568,451.0 572,450.4" fill="none" stroke="#9fcfe4" stroke-width="0.7" stroke-opacity="0.6"/>
<path d="M92,502.0 98,500.1 102,501.7 108,506.2 112,511.6 118,515.4 122,515.9 128,513.0 132,508.3 138,504.6 142,504.6 148,509.8 152,519.4 158,531.0 162,540.9 168,544.2 172,543.8 178,535.6 182,523.1 188,509.7 192,498.9 198,492.7 202,490.9 208,492.4 212,495.0 218,497.0 222,497.7 228,497.8 232,498.8 238,502.7 242,509.7 248,518.4 252,526.5 258,531.9 262,531.6 268,525.3 272,513.6 278,497.7 282,479.1 288,467.4 292,464.5 298,469.6 302,479.2 308,488.5 312,494.8 318,498.4 322,499.0 328,497.8 332,493.3 338,486.5 342,480.1 348,476.4 352,474.3 358,474.8 362,477.2 368,478.8 372,480.9 378,484.8 382,491.8 388,501.6 392,511.7 398,518.8 402,522.5 408,521.7 412,521.0 418,518.6 422,511.9 428,505.7 432,502.1 438,498.2 442,496.7 448,497.5 452,498.6 458,499.0 462,498.0 468,495.9 472,494.0 478,494.3 482,498.0 488,503.4 492,509.3 498,514.0 502,516.5 508,516.2 512,512.9 518,508.3 522,503.0 528,497.9 532,498.1 538,506.3 542,517.8 548,527.5 552,532.9 558,532.8 562,527.4 568,518.8 572,509.8" fill="none" stroke="#9fcfe4" stroke-width="0.7" stroke-opacity="0.6"/>
<path d="M92,472.4 98,466.3 102,464.4 108,468.6 112,477.4 118,486.4 122,491.6 128,491.8 132,489.0 138,486.7 142,486.7 148,488.2 152,488.0 158,483.1 162,473.3 168,461.5 172,460.2 178,460.8 182,461.2 188,461.8 192,462.2 198,462.8 202,463.4 208,464.2 212,465.1 218,465.9 222,469.0 228,471.6 232,470.2 238,471.0 242,473.0 248,477.5 252,484.5 258,486.5 262,483.5 268,476.0 272,464.0 278,455.0 282,449.0 288,447.7 292,452.2 298,459.1 302,466.4 308,471.4 312,474.8 318,478.3 322,481.9 328,484.8 332,483.1 338,476.3 342,467.0 348,460.1 352,458.0 358,460.2 362,465.9 368,471.9 372,477.1 378,481.0 382,484.3 388,487.3 392,491.1 398,493.6 402,493.0 408,488.7 412,481.0 418,477.0 422,476.3 428,477.0 432,477.7 438,477.3 442,476.0 448,474.7 452,473.0 458,471.0 462,469.0 468,467.0 472,468.1 478,468.7 482,465.7 488,463.5 492,464.5 498,465.5 502,465.5 508,464.5 512,463.5 518,462.5 522,461.4 528,460.1 532,462.5 538,470.3 542,481.2 548,490.7 552,494.8 558,493.2 562,488.4 568,484.6 572,483.8" fill="none" stroke="#9fcfe4" stroke-width="0.7" stroke-opacity="0.6"/>
<path d="M92,483.1 98,484.7 102,482.1 108,478.4 112,476.7 118,478.6 122,482.5 128,485.7 132,486.0 138,483.7 142,481.5 148,483.0 152,490.4 158,502.5 162,515.6 168,524.6 172,526.7 178,521.8 182,513.0 188,504.1 192,497.5 198,493.2 202,489.1 208,483.6 212,476.5 218,469.8 222,466.8 228,468.5 232,476.3 238,487.1 242,496.9 248,502.9 252,504.9 258,505.5 262,501.7 268,494.3 272,486.6 278,479.2 282,469.5 288,463.5 292,461.4 298,464.5 302,471.8 308,482.0 312,491.3 318,498.2 322,500.5 328,498.8 332,491.8 338,478.5 342,466.7 348,460.2 352,458.4 358,458.9 362,460.6 368,462.0 372,465.0 378,471.0 382,480.0 388,491.1 392,502.0 398,507.4 402,506.9 408,502.9 412,497.3 418,493.0 422,492.6 428,495.8 432,500.6 438,501.2 442,500.8 448,500.2 452,500.0 458,501.2 462,503.6 468,505.3 472,503.9 478,497.4 482,484.9 488,472.8 492,464.7 498,465.5 502,465.5 508,468.5 512,473.2 518,476.8 522,478.8 528,480.2 532,483.6 538,491.5 542,502.6 548,509.8 552,510.6 558,505.6 562,497.2 568,489.5 572,487.5" fill="none" stroke="#9fcfe4" stroke-width="0.7" stroke-opacity="0.6"/>
<path d="M92,485.5 98,485.1 102,488.0 108,493.2 112,498.2 118,500.3 122,497.5 128,489.7 132,478.7 138,467.5 142,459.1 148,457.9 152,458.2 158,460.8 162,465.9 168,469.7 172,471.3 178,471.5 182,471.8 188,473.8 192,478.2 198,484.4 202,490.5 208,494.5 212,494.9 218,491.7 222,486.5 228,481.5 232,479.6 238,482.1 242,488.6 248,498.1 252,507.1 258,515.0 262,516.4 268,510.2 272,500.8 278,489.0 282,477.1 288,472.0 292,471.1 298,473.9 302,478.0 308,479.9 312,479.8 318,479.2 322,478.4 328,479.1 332,479.4 338,478.7 342,477.3 348,475.1 352,472.0 358,470.3 362,470.6 368,471.0 372,473.0 378,476.8 382,481.6 388,485.8 392,488.0 398,486.7 402,482.9 408,481.0 412,479.0 418,477.0 422,477.4 428,483.2 432,489.6 438,492.7 442,493.5 448,492.8 452,490.5 458,487.7 462,485.9 468,486.0 472,487.6 478,489.3 482,490.2 488,489.5 492,487.7 498,486.4 502,486.8 508,490.2 512,497.3 518,505.8 522,512.1 528,514.9 532,513.9 538,509.6 542,503.5 548,497.0 552,491.6 558,488.9 562,488.4 568,488.7 572,487.8" fill="none" stroke="#9fcfe4" stroke-width="0.7" stroke-opacity="0.6"/>
<path d="M92,469.5 98,474.2 102,482.0 108,488.5 112,488.8 118,481.7 122,470.6 128,461.8 132,460.6 138,468.1 142,480.9 148,493.3 152,500.9 158,503.3 162,503.7 168,506.5 172,513.4 178,522.2 182,528.3 188,527.3 192,518.6 198,505.8 202,494.8 208,490.0 212,491.9 218,497.3 222,502.0 228,503.1 232,501.2 238,499.8 242,501.6 248,507.2 252,513.7 258,518.9 262,516.5 268,502.8 272,480.4 278,459.6 282,449.0 288,445.5 292,445.0 298,447.4 302,450.4 308,453.5 312,458.5 318,463.5 322,470.7 328,480.1 332,484.1 338,480.6 342,471.5 348,462.0 352,456.7 358,456.5 362,460.4 368,465.6 372,471.1 378,475.7 382,479.6 388,484.3 392,492.2 398,502.0 402,509.2 408,512.7 412,513.2 418,509.6 422,504.2 428,500.8 432,501.2 438,500.9 442,501.6 448,501.3 452,498.4 458,493.6 462,490.0 468,491.2 472,498.1 478,505.9 482,511.2 488,511.1 492,506.2 498,499.1 502,491.7 508,487.5 512,486.1 518,484.6 522,478.3 528,467.1 532,458.9 538,457.6 542,456.4 548,455.1 552,465.6 558,475.6 562,478.7 568,474.4 572,467.0" fill="none" stroke="#9fcfe4" stroke-width="0.7" stroke-opacity="0.6"/>
<path d="M92,476.8 98,473.2 102,469.0 108,464.5 112,460.3 118,457.0 122,456.6 128,456.8 132,457.6 138,461.7 142,467.1 148,472.9 152,478.6 158,483.2 162,486.4 168,488.0 172,488.2 178,487.6 182,486.9 188,486.4 192,486.7 198,487.9 202,489.8 208,492.1 212,494.3 218,496.1 222,497.3 228,498.0 232,498.7 238,500.0 242,502.0 248,504.9 252,508.6 258,514.6 262,516.7 268,512.9 272,507.0 278,499.0 282,489.7 288,483.3 292,478.9 298,479.1 302,482.9 308,485.9 312,488.3 318,490.9 322,493.2 328,493.7 332,490.1 338,483.9 342,476.4 348,470.0 352,465.4 358,463.6 362,464.1 368,464.8 372,467.1 378,471.1 382,476.2 388,481.9 392,487.8 398,492.1 402,494.1 408,494.0 412,492.2 418,489.5 422,487.4 428,486.8 432,486.7 438,485.1 442,483.6 448,482.9 452,482.6 458,482.6 462,482.8 468,482.8 472,482.5 478,481.6 482,481.2 488,481.8 492,483.2 498,485.7 502,489.1 508,493.7 512,499.7 518,505.8 522,510.4 528,513.3 532,516.0 538,518.6 542,520.2 548,519.9 552,518.5 558,516.6 562,514.3 568,512.1 572,510.3" fill="none" stroke="#9fcfe4" stroke-width="0.7" stroke-opacity="0.6"/>
<path d="M92,499.0 98,504.3 102,509.6 108,511.2 112,507.2 118,498.2 122,487.4 128,478.4 132,473.6 138,472.9 142,473.8 148,473.4 152,470.1 158,464.6 162,459.7 168,459.8 172,462.1 178,470.1 182,479.5 188,486.9 192,490.2 198,489.7 202,487.7 208,486.9 212,488.9 218,493.3 222,497.9 228,500.3 232,499.6 238,496.8 242,493.8 248,494.0 252,499.1 258,506.2 262,511.1 268,508.6 272,501.4 278,489.8 282,476.4 288,469.8 292,469.9 298,476.1 302,485.7 308,492.7 312,495.4 318,495.9 322,495.0 328,493.1 332,488.2 338,483.1 342,478.0 348,473.2 352,468.5 358,465.7 362,465.4 368,466.5 372,470.6 378,477.8 382,486.4 388,494.1 392,498.9 398,498.8 402,495.3 408,491.5 412,488.6 418,487.2 422,487.5 428,488.2 432,487.6 438,483.4 442,478.4 448,475.0 452,474.2 458,476.6 462,481.5 468,486.7 472,489.7 478,490.2 482,490.1 488,491.8 492,496.4 498,502.3 502,507.9 508,512.0 512,512.7 518,510.2 522,504.5 528,496.5 532,491.7 538,493.2 542,498.6 548,502.3 552,502.5 558,499.6 562,494.9 568,492.6 572,495.3" fill="none" stroke="#9fcfe4" stroke-width="0.7" stroke-opacity="0.6"/>
<path d="M92,523.4 98,528.8 102,529.9 108,524.0 112,512.8 118,501.1 122,493.6 128,492.0 132,493.8 138,494.1 142,489.8 148,481.2 152,472.2 158,467.7 162,469.9 168,477.1 172,484.8 178,488.9 182,488.1 188,485.1 192,483.9 198,487.4 202,495.2 208,503.5 212,508.2 218,507.4 222,503.0 228,498.9 232,498.6 238,503.3 242,510.2 248,514.9 252,515.6 258,515.6 262,511.9 268,503.9 272,498.1 278,491.3 282,484.9 288,480.8 292,476.7 298,476.7 302,481.7 308,488.9 312,496.7 318,503.6 322,506.2 328,505.7 332,501.1 338,493.8 342,486.5 348,481.9 352,479.2 358,478.5 362,478.0 368,475.9 372,474.5 378,476.2 382,481.4 388,488.8 392,495.9 398,498.7 402,496.6 408,492.4 412,489.2 418,488.7 422,491.8 428,496.7 432,500.6 438,498.5 442,494.7 448,491.7 452,491.0 458,493.4 462,497.6 468,500.2 472,498.7 478,493.1 482,487.6 488,486.7 492,491.2 498,498.8 502,504.5 508,507.7 512,507.9 518,507.3 522,507.2 528,509.8 532,517.5 538,527.4 542,532.8 548,531.6 552,526.2 558,521.2 562,519.7 568,522.0 572,525.1" fill="none" stroke="#9fcfe4" stroke-width="0.7" stroke-opacity="0.6"/>
<path d="M92,518.9 98,520.5 102,517.3 108,508.1 112,495.2 118,483.3 122,477.2 128,479.2 132,487.7 138,497.9 142,504.6 148,504.4 152,497.7 158,488.3 162,480.5 168,477.3 172,478.5 178,481.5 182,482.8 188,480.2 192,474.7 198,469.5 202,468.4 208,473.7 212,484.1 218,496.0 222,505.2 228,508.6 232,506.6 238,502.1 242,498.3 248,498.7 252,503.9 258,511.5 262,515.1 268,510.1 272,500.6 278,487.3 282,473.7 288,469.6 292,472.9 298,481.4 302,492.4 308,498.3 312,498.7 318,497.1 322,495.2 328,494.0 332,491.4 338,489.2 342,487.0 348,484.5 352,480.0 358,476.9 362,476.7 368,478.8 372,483.7 378,491.5 382,499.0 388,503.1 392,503.5 398,497.9 402,490.1 408,484.3 412,481.7 418,482.7 422,486.5 428,490.9 432,493.7 438,491.7 442,488.4 448,486.4 452,486.5 458,489.2 462,492.9 468,494.5 472,491.7 478,484.5 482,477.0 488,474.2 492,477.6 498,486.8 502,498.4 508,507.4 512,513.0 518,514.3 522,511.1 528,505.2 532,501.7 538,504.8 542,511.4 548,516.2 552,516.4 558,511.8 562,504.9 568,500.0 572,500.9" fill="none" stroke="#9fcfe4" stroke-width="0.7" stroke-opacity="0.6"/>
<path d="M92,501.7C101.7,501.7 132,501.5 150,501.5C168,501.5 186.7,501.2 200,501.5C213.3,501.8 222.5,501.9 230,503C237.5,504.1 241,506.7 245,508C249,509.3 251.4,509.8 254,511C256.6,512.2 258.1,515.9 260.3,515.3C262.5,514.7 265.1,510.6 267.3,507.4C269.5,504.2 271.3,500.5 273.4,496C275.4,491.5 278,484.4 279.6,480.3C281.2,476.2 281.3,474.3 283,471.5C284.7,468.7 287.7,464.6 290,463.7C292.3,462.8 294.1,463.8 297,466.3C299.9,468.8 304.1,474.7 307.6,478.5C311.1,482.3 314.8,486.4 318,489C321.2,491.6 324,494.1 326.9,494.3C329.8,494.5 333.4,491.6 335.6,490C337.8,488.4 336.9,487.3 340,484.5C343.1,481.7 349.9,474.4 354,473.3C358.1,472.2 361,475.7 364.5,477.7C368,479.7 371.6,482.4 375,485.5C378.4,488.6 381.8,492.9 384.7,496C387.6,499.1 390.1,502.3 392.6,504C395.1,505.7 396.7,506.4 399.6,506.2C402.5,506 406.9,504.2 410,503C413.1,501.8 415.5,499.9 418,499C420.5,498.1 422.5,497.6 425,497.8C427.5,498 430.4,500.2 432.9,500.4C435.4,500.5 437,498.9 439.9,498.7C442.8,498.5 445,498.8 450,499C455,499.2 463.3,500 470,500C476.7,500 483.3,499 490,499C496.7,499 504.8,499.7 510,500C515.2,500.3 517.1,502.1 521,501C524.9,499.9 529.5,494.1 533.6,493.4C537.7,492.7 541.4,495.9 545.8,497C550.2,498.1 555,499.5 560,500C565,500.5 573,500 575.6,500" fill="none" stroke="#2a6fb0" stroke-width="2.8"/>
<g filter="url(#bblur)">
<path d="M92,458C101.7,458.7 132,460.8 150,462C168,463.2 186.7,464 200,465C213.3,466 222.5,466.2 230,468C237.5,469.8 240.8,474.3 245,476C249.2,477.7 252.2,479 255,478C257.8,477 259.8,472.7 262,470C264.2,467.3 265.8,464 268,462C270.2,460 272.7,458 275,458C277.3,458 279.5,459.3 282,462C284.5,464.7 287,469.5 290,474C293,478.5 295,484.8 300,489C305,493.2 313.3,496.5 320,499C326.7,501.5 334.2,503.7 340,504C345.8,504.3 350.8,503.3 355,501C359.2,498.7 361.7,494.5 365,490C368.3,485.5 371.3,478.8 375,474C378.7,469.2 383.7,462.2 387,461C390.3,459.8 392,464.3 395,467C398,469.7 401.3,476.5 405,477C408.7,477.5 413.2,472 417,470C420.8,468 424.2,465.3 428,465C431.8,464.7 436,466.3 440,468C444,469.7 448.3,473 452,475C455.7,477 458.2,480.8 462,480C465.8,479.2 471.2,472.5 475,470C478.8,467.5 480.8,464.3 485,465C489.2,465.7 494.2,472 500,474C505.8,476 513.3,476.3 520,477C526.7,477.7 533.3,479.8 540,478C546.7,476.2 554.1,469 560,466C565.9,463 573,461 575.6,460L575.6,536C573,535.7 565.9,534 560,534C554.1,534 546.7,536.5 540,536C533.3,535.5 526.7,532.7 520,531C513.3,529.3 505.8,528.5 500,526C494.2,523.5 489.2,516.8 485,516C480.8,515.2 478.8,518.8 475,521C471.2,523.2 465.8,529 462,529C458.2,529 455.7,523.7 452,521C448.3,518.3 444,515 440,513C436,511 431.8,508.5 428,509C424.2,509.5 420.8,514 417,516C413.2,518 408.7,521.8 405,521C401.3,520.2 398,514.2 395,511C392,507.8 390.3,500.3 387,502C383.7,503.7 378.7,515.3 375,521C371.3,526.7 368.3,531.8 365,536C361.7,540.2 359.2,543.8 355,546C350.8,548.2 345.8,549 340,549C334.2,549 326.7,547.3 320,546C313.3,544.7 305,543.5 300,541C295,538.5 293,535.3 290,531C287,526.7 284.5,519.3 282,515C279.5,510.7 277.3,507 275,505C272.7,503 270.2,502.2 268,503C265.8,503.8 264.2,507.8 262,510C259.8,512.2 257.8,514.3 255,516C252.2,517.7 249.2,519.3 245,520C240.8,520.7 237.5,520 230,520C222.5,520 213.3,520 200,520C186.7,520 168,519.7 150,520C132,520.3 101.7,521.7 92,522Z" fill="#feecd9" fill-opacity="0.88"/>
<path d="M92,472.8C101.7,473.2 132,474.7 150,475.4C168,476.1 186.7,476.5 200,477C213.3,477.5 222.5,476.9 230,478.4C237.5,479.9 240.8,484.6 245,486.2C249.2,487.9 252.2,489.4 255,488.3C257.8,487.1 259.8,482.4 262,479.5C264.2,476.6 265.8,472.9 268,470.9C270.2,468.9 272.7,467.1 275,467.4C277.3,467.8 279.5,469.8 282,472.9C284.5,476 287,481.5 290,486C293,490.5 295,496 300,500C305,503.9 313.3,507.4 320,509.6C326.7,511.8 334.2,513 340,513.1C345.8,513.2 350.8,512.4 355,510.1C359.2,507.8 361.7,503.9 365,499.4C368.3,494.9 371.3,488.1 375,483.2C378.7,478.2 383.7,470.8 387,469.6C390.3,468.5 392,473.3 395,476.1C398,478.9 401.3,485.7 405,486.4C408.7,487.1 413.2,482.5 417,480.4C420.8,478.3 424.2,474.3 428,473.8C431.8,473.2 436,475.3 440,477.1C444,479 448.3,482.7 452,485.1C455.7,487.4 458.2,491.9 462,491.2C465.8,490.5 471.2,483.4 475,480.7C478.8,478.1 480.8,474.7 485,475.3C489.2,476 494.2,482.7 500,484.8C505.8,487 513.3,487.3 520,488.2C526.7,489.1 533.3,492.2 540,490.4C546.7,488.6 554.1,480.5 560,477.6C565.9,474.7 573,473.8 575.6,473L575.6,518.6C573,518.6 565.9,517.3 560,518.4C554.1,519.5 546.7,524.8 540,525.2C533.3,525.6 526.7,522.1 520,520.6C513.3,519.1 505.8,518.5 500,516C494.2,513.6 489.2,506.7 485,505.9C480.8,505.2 478.8,508.9 475,511.3C471.2,513.8 465.8,520.4 462,520.6C458.2,520.8 455.7,515.4 452,512.7C448.3,509.9 444,506.2 440,504.1C436,502.1 431.8,499.5 428,500.2C424.2,500.8 420.8,505.9 417,508C413.2,510.1 408.7,513.7 405,512.8C401.3,511.9 398,505.6 395,502.5C392,499.4 390.3,492.8 387,494.2C383.7,495.7 378.7,505.9 375,511.4C371.3,516.8 368.3,522.7 365,527C361.7,531.3 359.2,534.9 355,537.1C350.8,539.3 345.8,540 340,540.1C334.2,540.2 326.7,539.3 320,537.8C313.3,536.3 305,534.1 300,531.2C295,528.2 293,524.6 290,520.2C287,515.8 284.5,508.8 282,504.7C279.5,500.6 277.3,497.2 275,495.6C272.7,494.1 270.2,494.2 268,495.5C265.8,496.8 264.2,500.9 262,503.5C259.8,506.1 257.8,509.5 255,511.1C252.2,512.6 249.2,512.9 245,512.6C240.8,512.4 237.5,510 230,509.6C222.5,509.2 213.3,509.9 200,510C186.7,510.1 168,510 150,510.2C132,510.4 101.7,511 92,511.2Z" fill="#fde2c6" fill-opacity="0.82"/>
</g>
<path d="M92,508.2 98,501.6 102,493.9 108,487.8 112,486.1 118,487.6 122,489.6 128,489.8 132,487.7 138,484.5 142,482.7 148,483.8 152,487.6 158,491.7 162,493.2 168,489.8 172,481.7 178,471.6 182,463.9 188,464.2 192,464.6 198,466.1 202,471.4 208,475.1 212,475.9 218,474.6 222,473.4 228,473.7 232,476.7 238,481.3 242,484.4 248,484.4 252,481.0 258,475.1 262,469.3 268,462.8 272,465.0 278,473.1 282,485.8 288,499.2 292,506.9 298,510.4 302,512.2 308,514.3 312,518.0 318,521.8 322,524.1 328,524.1 332,522.7 338,521.7 342,522.8 348,526.5 352,530.2 358,532.2 362,529.7 368,521.5 372,508.8 378,493.8 382,482.3 388,477.0 392,481.6 398,489.3 402,496.1 408,498.4 412,494.7 418,488.7 422,484.0 428,482.1 432,484.5 438,487.6 442,488.6 448,487.1 452,483.1 458,478.5 462,479.6 468,475.8 472,472.6 478,474.3 482,475.2 488,476.4 492,478.0 498,479.1 502,480.0 508,481.4 512,483.6 518,485.3 522,484.7 528,481.4 532,477.6 538,477.9 542,476.5 548,479.7 552,485.9 558,490.6 562,493.1 568,492.4 572,488.8" fill="none" stroke="#fcd6b0" stroke-width="0.7" stroke-opacity="0.6"/>
<path d="M92,460.5 98,470.4 102,478.1 108,482.2 112,483.4 118,483.7 122,484.9 128,487.4 132,490.0 138,490.6 142,489.1 148,487.2 152,487.7 158,492.4 162,499.4 168,505.6 172,509.1 178,508.2 182,503.3 188,496.3 192,488.6 198,483.6 202,481.2 208,479.8 212,477.5 218,474.6 222,473.1 228,474.3 232,479.1 238,486.0 242,491.4 248,493.1 252,489.7 258,481.8 262,472.5 268,466.5 272,467.0 278,473.3 282,484.5 288,498.1 292,508.9 298,517.9 302,525.2 308,530.5 312,533.1 318,532.4 322,528.6 328,522.7 332,518.0 338,517.2 342,519.3 348,522.2 352,522.8 358,519.2 362,511.2 368,500.3 372,489.5 378,480.2 382,472.9 388,466.7 392,467.3 398,469.5 402,474.5 408,477.0 412,482.0 418,487.5 422,489.7 428,488.9 432,488.9 438,489.1 442,490.4 448,494.4 452,499.9 458,505.9 462,508.1 468,504.9 472,498.3 478,494.5 482,494.9 488,499.4 492,503.8 498,504.5 502,500.3 508,491.3 512,483.8 518,480.4 522,480.6 528,482.6 532,484.5 538,485.4 542,484.5 548,483.7 552,484.7 558,485.9 562,486.8 568,485.4 572,480.7" fill="none" stroke="#fcd6b0" stroke-width="0.7" stroke-opacity="0.6"/>
<path d="M92,507.4 98,510.6 102,511.6 108,509.4 112,505.1 118,500.8 122,497.9 128,496.5 132,495.8 138,493.6 142,488.7 148,482.4 152,477.4 158,476.0 162,479.3 168,485.9 172,493.0 178,497.5 182,499.2 188,500.0 192,501.5 198,504.8 202,509.5 208,513.6 212,515.0 218,513.5 222,509.7 228,505.3 232,503.6 238,506.1 242,509.7 248,512.1 252,511.7 258,508.1 262,501.0 268,495.0 272,496.9 278,505.0 282,515.9 288,526.0 292,531.1 298,531.8 302,531.1 308,530.6 312,530.9 318,530.9 322,529.2 328,525.4 332,520.0 338,516.4 342,515.4 348,516.8 352,519.2 358,519.6 362,516.4 368,509.1 372,500.9 378,493.1 382,488.8 388,488.3 392,495.0 398,500.8 402,503.9 408,503.5 412,500.0 418,495.5 422,492.6 428,492.1 432,495.0 438,498.0 442,500.9 448,505.6 452,512.4 458,521.1 462,528.7 468,525.6 472,522.5 478,519.8 482,515.2 488,512.1 492,513.5 498,516.1 502,517.1 508,514.6 512,509.6 518,504.9 522,502.5 528,503.4 532,507.9 538,511.9 542,512.8 548,510.1 552,504.5 558,498.5 562,496.5 568,498.5 572,501.5" fill="none" stroke="#fcd6b0" stroke-width="0.7" stroke-opacity="0.6"/>
<path d="M92,484.4 98,474.9 102,471.1 108,473.5 112,479.4 118,484.1 122,484.3 128,480.9 132,477.8 138,479.6 142,487.8 148,498.7 152,507.2 158,512.2 162,513.0 168,511.5 172,510.8 178,512.8 182,516.8 188,520.0 192,519.8 198,514.2 202,505.3 208,497.3 212,491.4 218,489.1 222,488.8 228,486.4 232,482.7 238,478.9 242,476.0 248,476.5 252,480.9 258,486.1 262,485.9 268,482.4 272,479.6 278,480.9 282,488.5 288,502.9 292,518.0 298,530.4 302,536.9 308,537.1 312,534.4 318,531.6 322,530.9 328,532.8 332,535.7 338,537.1 342,534.8 348,529.5 352,522.9 358,517.3 362,513.9 368,510.7 372,506.1 378,497.8 382,487.3 388,479.7 392,480.6 398,486.3 402,494.7 408,500.5 412,499.3 418,491.2 422,481.1 428,473.8 432,473.8 438,478.7 442,486.6 448,494.9 452,500.8 458,504.8 462,506.0 468,506.4 472,505.9 478,509.6 482,514.3 488,517.7 492,519.0 498,517.9 502,516.7 508,516.7 512,518.6 518,520.4 522,518.8 528,512.7 532,503.0 538,492.1 542,484.5 548,481.3 552,480.9 558,479.3 562,475.7 568,470.5 572,466.2" fill="none" stroke="#fcd6b0" stroke-width="0.7" stroke-opacity="0.6"/>
<path d="M92,494.6 98,491.4 102,484.9 108,476.3 112,466.4 118,459.8 122,460.1 128,460.4 132,460.8 138,461.1 142,468.0 148,480.2 152,491.2 158,498.2 162,500.9 168,500.3 172,497.3 178,492.0 182,486.8 188,483.8 192,484.0 198,487.1 202,492.3 208,497.9 212,501.2 218,501.2 222,497.3 228,488.7 232,480.6 238,474.6 242,474.7 248,476.5 252,477.5 258,475.1 262,469.3 268,468.9 272,471.9 278,478.6 282,488.8 288,499.9 292,506.9 298,511.1 302,513.4 308,515.1 312,517.5 318,520.8 322,524.1 328,526.8 332,528.2 338,528.2 342,526.6 348,523.0 352,517.0 358,508.8 362,498.5 368,487.5 372,478.0 378,471.3 382,465.9 388,461.4 392,467.3 398,475.6 402,485.2 408,491.8 412,494.5 418,494.2 422,491.5 428,489.0 432,489.3 438,490.4 442,491.5 448,493.4 452,496.0 458,499.7 462,501.9 468,500.3 472,495.1 478,489.6 482,484.8 488,481.9 492,480.0 498,477.2 502,474.4 508,475.1 512,475.9 518,476.6 522,477.1 528,484.3 532,495.6 538,506.3 542,511.9 548,513.2 552,510.0 558,502.4 562,493.4 568,486.8 572,481.9" fill="none" stroke="#fcd6b0" stroke-width="0.7" stroke-opacity="0.6"/>
<path d="M92,500.6 98,497.0 102,493.7 108,494.0 112,498.3 118,503.0 122,504.2 128,499.8 132,489.3 138,475.8 142,466.7 148,465.2 152,470.3 158,477.7 162,482.8 168,483.7 172,482.0 178,481.3 182,483.8 188,488.9 192,493.3 198,493.5 202,489.0 208,482.1 212,476.6 218,476.9 222,483.7 228,492.6 232,501.3 238,507.5 242,509.4 248,509.5 252,509.0 258,506.4 262,500.9 268,494.8 272,491.2 278,488.2 282,488.4 288,493.8 292,503.8 298,516.9 302,527.7 308,533.5 312,534.0 318,530.8 322,526.1 328,521.6 332,520.2 338,520.4 342,519.2 348,515.1 352,508.7 358,501.6 362,496.3 368,494.4 372,493.9 378,491.4 382,486.4 388,480.6 392,479.4 398,480.0 402,483.7 408,487.8 412,489.8 418,488.8 422,484.8 428,481.0 432,482.3 438,488.6 442,498.6 448,509.5 452,516.9 458,519.9 462,517.7 468,509.3 472,499.1 478,493.5 482,493.7 488,498.4 492,503.3 498,505.9 502,506.6 508,506.7 512,509.1 518,514.0 522,517.6 528,516.4 532,510.3 538,498.1 542,485.9 548,478.7 552,478.1 558,480.8 562,483.7 568,484.1 572,481.5" fill="none" stroke="#fcd6b0" stroke-width="0.7" stroke-opacity="0.6"/>
<path d="M92,486.1 98,491.7 102,497.5 108,503.2 112,507.6 118,509.4 122,508.5 128,505.5 132,501.3 138,497.0 142,492.7 148,489.3 152,487.2 158,486.0 162,484.8 168,483.0 172,480.2 178,476.7 182,473.3 188,470.7 192,469.6 198,470.2 202,472.4 208,475.5 212,478.1 218,479.0 222,477.7 228,474.4 232,471.9 238,472.0 242,474.7 248,476.5 252,478.0 258,481.7 262,482.1 268,481.7 272,484.1 278,490.7 282,499.1 288,507.2 292,511.3 298,513.0 302,513.4 308,514.5 312,517.7 318,522.7 322,527.9 328,532.4 332,535.8 338,537.6 342,536.9 348,533.9 352,528.9 358,521.8 362,512.6 368,502.1 372,492.0 378,482.8 382,475.8 388,471.0 392,473.4 398,476.3 402,479.1 408,478.4 412,474.5 418,472.0 422,471.1 428,470.8 432,473.7 438,476.8 442,479.3 448,481.1 452,481.7 458,481.4 462,480.7 468,476.6 472,475.4 478,477.1 482,481.4 488,489.9 492,500.6 498,509.7 502,514.5 508,514.5 512,511.5 518,507.7 522,504.5 528,502.4 532,503.0 538,505.6 542,508.2 548,510.2 552,511.4 558,511.1 562,509.1 568,504.4 572,497.0" fill="none" stroke="#fcd6b0" stroke-width="0.7" stroke-opacity="0.6"/>
<path d="M92,522.0 98,519.3 102,514.2 108,511.1 112,511.1 118,513.9 122,518.3 128,520.8 132,520.6 138,520.4 142,520.3 148,516.2 152,509.2 158,502.8 162,498.6 168,497.3 172,498.9 178,502.4 182,506.6 188,510.3 192,513.0 198,514.6 202,515.6 208,516.9 212,519.0 218,520.0 222,520.0 228,520.0 232,520.0 238,520.0 242,520.0 248,519.0 252,514.8 258,509.6 262,502.5 268,496.9 272,499.7 278,508.6 282,516.0 288,526.0 292,533.5 298,538.5 302,537.1 308,533.3 312,530.7 318,529.7 322,530.3 328,532.0 332,534.2 338,536.3 342,537.4 348,537.3 352,536.5 358,534.6 362,532.2 368,529.7 372,524.8 378,517.0 382,509.1 388,502.6 392,508.2 398,513.5 402,518.2 408,515.6 412,511.3 418,508.0 422,506.4 428,507.0 432,510.5 438,512.2 442,514.7 448,518.0 452,520.8 458,520.9 462,520.2 468,515.3 472,509.4 478,504.9 482,502.4 488,503.0 492,505.4 498,507.8 502,509.6 508,510.6 512,513.5 518,519.7 522,528.1 528,532.9 532,534.1 538,535.4 542,535.8 548,535.2 552,534.8 558,531.8 562,524.4 568,521.5 572,523.4" fill="none" stroke="#fcd6b0" stroke-width="0.7" stroke-opacity="0.6"/>
<path d="M92,508.2 98,501.9 102,496.4 108,493.6 112,494.0 118,496.5 122,499.3 128,501.4 132,501.8 138,500.0 142,496.0 148,488.9 152,481.1 158,474.3 162,470.0 168,468.9 172,470.8 178,475.1 182,480.4 188,485.5 192,489.6 198,492.6 202,494.9 208,497.2 212,499.2 218,500.6 222,501.8 228,502.5 232,504.5 238,507.3 242,509.3 248,510.3 252,509.5 258,505.7 262,497.3 268,489.1 272,485.8 278,487.5 282,493.4 288,501.0 292,505.1 298,506.4 302,505.2 308,502.6 312,501.1 318,502.0 322,505.1 328,510.0 332,516.0 338,521.9 342,526.5 348,528.8 352,528.0 358,524.1 362,517.2 368,507.7 372,498.9 378,491.5 382,488.0 388,489.1 392,498.8 398,508.4 402,515.5 408,516.6 412,511.8 418,503.8 422,492.9 428,483.1 432,479.0 438,478.3 442,480.4 448,485.4 452,491.6 458,498.2 462,501.6 468,498.5 472,490.6 478,483.0 482,477.5 488,476.7 492,480.4 498,486.7 502,493.9 508,500.2 512,505.6 518,511.0 522,515.7 528,518.9 532,521.2 538,522.2 542,521.4 548,519.4 552,516.5 558,512.8 562,509.1 568,504.8 572,499.3" fill="none" stroke="#fcd6b0" stroke-width="0.7" stroke-opacity="0.6"/>
<path d="M92,503.9 98,501.5 102,497.6 108,493.3 112,489.2 118,486.7 122,486.2 128,488.0 132,491.4 138,495.3 142,497.7 148,499.1 152,499.3 158,498.9 162,498.4 168,498.8 172,500.6 178,504.1 182,508.8 188,514.1 192,518.9 198,520.0 202,520.0 208,520.0 212,516.3 218,511.1 222,505.2 228,498.7 232,494.7 238,494.7 242,496.0 248,497.8 252,497.2 258,492.0 262,481.9 268,472.7 272,468.6 278,470.7 282,480.1 288,496.5 292,513.0 298,527.1 302,537.7 308,542.9 312,544.1 318,545.4 322,546.4 328,545.2 332,542.9 338,540.8 342,538.7 348,536.6 352,533.7 358,528.6 362,520.5 368,509.0 372,496.0 378,483.7 382,474.9 388,470.4 392,475.9 398,485.0 402,495.8 408,503.5 412,505.4 418,504.1 422,500.8 428,497.0 432,496.6 438,497.7 442,500.3 448,505.0 452,510.9 458,517.6 462,522.3 468,520.3 472,515.7 478,509.6 482,503.1 488,500.0 492,500.3 498,503.0 502,506.1 508,508.1 512,509.8 518,511.5 522,512.1 528,510.9 532,508.3 538,503.0 542,496.4 548,490.5 552,486.9 558,486.1 562,488.9 568,494.9 572,503.9" fill="none" stroke="#fcd6b0" stroke-width="0.7" stroke-opacity="0.6"/>
<path d="M92,493.1 98,493.9 102,495.2 108,496.2 112,495.6 118,492.6 122,488.1 128,485.0 132,484.7 138,486.2 142,487.7 148,487.6 152,485.9 158,484.2 162,484.7 168,488.3 172,494.1 178,498.8 182,501.5 188,502.3 192,502.2 198,502.7 202,504.7 208,508.0 212,510.3 218,510.1 222,507.2 228,501.6 232,497.0 238,496.3 242,497.6 248,499.4 252,497.9 258,490.8 262,478.9 268,468.8 272,464.8 278,467.0 282,475.0 288,487.0 292,496.9 298,505.0 302,511.6 308,518.7 312,526.0 318,532.1 322,536.5 328,538.7 332,538.8 338,538.2 342,537.6 348,537.2 352,536.2 358,532.3 362,524.3 368,512.5 372,499.2 378,487.1 382,479.1 388,475.4 392,479.2 398,483.6 402,486.8 408,486.8 412,484.5 418,483.5 422,483.6 428,484.0 432,486.5 438,489.4 442,492.2 448,496.8 452,502.9 458,510.2 462,514.8 468,512.7 472,505.9 478,497.9 482,492.1 488,492.1 492,496.0 498,501.1 502,503.9 508,502.8 512,500.1 518,499.4 522,501.6 528,505.9 532,510.7 538,512.9 542,511.1 548,506.5 552,500.8 558,496.6 562,496.5 568,498.2 572,498.1" fill="none" stroke="#fcd6b0" stroke-width="0.7" stroke-opacity="0.6"/>
<path d="M92,507.7 98,504.7 102,501.2 108,500.5 112,503.5 118,508.2 122,511.5 128,511.9 132,509.5 138,506.5 142,505.2 148,506.7 152,509.8 158,512.2 162,512.2 168,509.8 172,507.1 178,506.2 182,508.2 188,512.0 192,515.5 198,516.7 202,515.6 208,514.2 212,514.6 218,517.2 222,520.0 228,520.0 232,520.0 238,520.0 242,519.7 248,517.4 252,515.8 258,513.4 262,509.2 268,501.6 272,497.1 278,494.7 282,497.8 288,506.5 292,515.3 298,522.0 302,524.8 308,524.5 312,523.6 318,523.8 322,526.8 328,531.1 332,535.1 338,537.3 342,537.1 348,535.7 352,535.1 358,535.1 362,534.6 368,532.0 372,524.8 378,516.6 382,506.2 388,499.0 392,505.3 398,513.0 402,518.5 408,520.0 412,516.0 418,510.3 422,504.5 428,501.7 432,505.0 438,508.9 442,511.4 448,512.7 452,513.6 458,516.7 462,520.7 468,520.4 472,518.8 478,515.4 482,509.6 488,506.0 492,506.5 498,510.3 502,514.8 508,517.1 512,516.6 518,513.9 522,510.8 528,509.7 532,511.9 538,515.5 542,517.6 548,516.7 552,512.3 558,506.8 562,505.6 568,510.9 572,520.6" fill="none" stroke="#fcd6b0" stroke-width="0.7" stroke-opacity="0.6"/>
<path d="M92,504.8 98,505.9 102,504.2 108,500.4 112,496.5 118,493.8 122,493.3 128,496.3 132,500.8 138,505.8 142,509.5 148,510.7 152,509.5 158,506.8 162,504.1 168,502.9 172,503.5 178,505.7 182,507.8 188,508.4 192,506.3 198,501.1 202,494.1 208,486.1 212,479.7 218,476.2 222,475.9 228,477.0 232,479.4 238,482.1 242,483.2 248,482.6 252,480.9 258,477.9 262,474.1 268,472.2 272,475.4 278,484.2 282,497.5 288,510.7 292,519.1 298,524.1 302,527.3 308,530.4 312,534.4 318,538.9 322,542.8 328,544.7 332,544.2 338,541.0 342,535.7 348,530.4 352,525.6 358,521.7 362,517.9 368,512.6 372,506.2 378,497.5 382,488.1 388,481.8 392,482.8 398,486.9 402,493.0 408,498.4 412,500.6 418,498.8 422,494.7 428,489.3 432,485.6 438,483.0 442,481.7 448,483.1 452,487.1 458,493.2 462,497.9 468,496.4 472,489.7 478,482.0 482,475.9 488,474.7 492,478.9 498,487.0 502,497.1 508,505.8 512,512.6 518,517.7 522,520.5 528,521.6 532,522.5 538,524.2 542,526.7 548,530.2 552,534.3 558,534.2 562,534.3 568,528.4 572,517.4" fill="none" stroke="#fcd6b0" stroke-width="0.7" stroke-opacity="0.6"/>
<path d="M92,485.7 98,481.2 102,477.1 108,473.6 112,470.2 118,466.7 122,463.0 128,460.4 132,460.8 138,461.1 142,461.5 148,461.8 152,462.1 158,465.8 162,470.1 168,473.5 172,475.5 178,475.6 182,473.9 188,471.0 192,467.7 198,465.0 202,465.2 208,465.8 212,466.5 218,470.5 222,475.4 228,479.7 232,484.6 238,490.4 242,495.7 248,500.4 252,502.2 258,499.0 262,489.7 268,480.9 272,475.9 278,475.1 282,477.4 288,481.3 292,483.2 298,485.2 302,490.2 308,492.8 312,495.2 318,497.8 322,499.6 328,500.9 332,502.1 338,503.4 342,508.6 348,512.7 352,515.1 358,514.2 362,509.9 368,502.4 372,493.3 378,484.0 382,476.8 388,472.5 392,476.2 398,481.3 402,486.4 408,487.8 412,484.7 418,480.3 422,476.1 428,472.9 432,473.5 438,475.6 442,478.9 448,483.3 452,487.6 458,491.2 462,491.8 468,485.4 472,476.4 478,468.8 482,466.2 488,466.5 492,469.5 498,472.5 502,474.4 508,475.1 512,475.9 518,479.9 522,486.9 528,493.6 532,499.8 538,504.1 542,505.0 548,503.5 552,500.0 558,495.7 562,492.6 568,490.0 572,486.7" fill="none" stroke="#fcd6b0" stroke-width="0.7" stroke-opacity="0.6"/>
<path d="M92,476.7 98,480.7 102,484.9 108,489.5 112,494.3 118,497.8 122,499.9 128,500.8 132,500.5 138,499.4 142,497.8 148,496.3 152,495.6 158,496.1 162,497.9 168,501.0 172,504.6 178,507.9 182,510.0 188,510.1 192,508.0 198,503.9 202,498.8 208,494.0 212,489.6 218,486.9 222,486.7 228,487.9 232,491.6 238,497.3 242,501.7 248,504.5 252,503.5 258,495.3 262,481.5 268,469.2 272,462.2 278,460.7 282,464.9 288,475.9 292,488.1 298,499.7 302,507.5 308,511.5 312,513.0 318,512.6 322,511.1 328,509.5 332,509.0 338,509.9 342,511.3 348,513.2 352,515.3 358,515.7 362,514.0 368,509.4 372,503.2 378,495.7 382,489.2 388,485.6 392,489.5 398,494.9 402,499.8 408,502.2 412,500.8 418,497.5 422,494.6 428,493.8 432,497.2 438,501.4 442,505.0 448,507.8 452,509.4 458,510.6 462,509.0 468,502.0 472,492.4 478,486.3 482,484.2 488,487.5 492,494.0 498,500.9 502,504.9 508,504.2 512,500.1 518,494.9 522,489.0 528,483.4 532,479.8 538,479.1 542,480.1 548,481.7 552,483.7 558,484.5 562,484.6 568,483.5 572,480.4" fill="none" stroke="#fcd6b0" stroke-width="0.7" stroke-opacity="0.6"/>
<path d="M92,520.2 98,516.8 102,508.6 108,498.2 112,488.3 118,480.7 122,477.6 128,478.4 132,480.8 138,482.4 142,482.1 148,480.1 152,478.0 158,477.7 162,480.2 168,484.8 172,489.7 178,492.0 182,489.8 188,482.9 192,473.5 198,464.9 202,465.2 208,465.8 212,466.2 218,472.9 222,482.3 228,488.4 232,492.3 238,495.7 242,498.2 248,501.2 252,503.6 258,502.2 262,495.3 268,488.8 272,485.3 278,484.4 282,487.0 288,493.0 292,501.1 298,512.6 302,524.3 308,534.7 312,542.6 318,545.4 322,546.4 328,545.3 332,540.8 338,536.4 342,533.2 348,531.7 352,530.3 358,527.4 362,521.5 368,511.9 372,500.8 378,490.1 382,483.5 388,482.9 392,491.2 398,500.9 402,507.7 408,508.2 412,501.8 418,488.6 422,475.6 428,466.9 432,466.1 438,467.4 442,472.7 448,479.7 452,485.9 458,490.4 462,492.0 468,488.5 472,484.5 478,482.8 482,483.2 488,486.6 492,490.3 498,491.6 502,488.5 508,482.6 512,478.6 518,478.9 522,484.3 528,494.5 532,507.5 538,516.9 542,521.7 548,521.9 552,518.2 558,512.3 562,508.3 568,507.8 572,509.9" fill="none" stroke="#fcd6b0" stroke-width="0.7" stroke-opacity="0.6"/>
<path d="M92,495C94.2,494.7 100.5,493.1 105.3,493.1C110,493.1 113.2,494.6 120.5,495C127.8,495.4 139.5,495.2 149,495.4C158.5,495.6 168.9,496.3 177.4,496.2C185.9,496.1 194.2,494.8 200.2,495C206.2,495.2 209.9,497 213.5,497.3C217.1,497.6 219.2,497.2 222,496.6C224.8,496.1 227.6,493.8 230.5,494C233.4,494.2 235.9,496.1 239.3,497.8C242.7,499.6 247.6,503.9 250.7,504.5C253.8,505.1 255.2,504.2 257.7,501.3C260.2,498.4 263,490.7 265.5,487.3C268,483.9 270.2,481.5 272.6,481.2C275,480.9 277,482.1 279.6,485.5C282.2,488.9 285.4,496.6 288.3,501.3C291.2,506 293.8,510.2 297,513.6C300.2,517 303.5,519.5 307.6,521.5C311.7,523.5 316.2,524.9 321.6,525.8C327,526.7 335.2,526.7 340,526.7C344.8,526.7 347,527.1 350.5,525.8C354,524.5 357.5,522.6 361,518.8C364.5,515 368.3,508.1 371.5,503C374.7,497.9 377.7,491.6 380.3,488.2C382.9,484.8 385,482.5 387.3,482.6C389.6,482.7 392,486.5 394.3,489C396.6,491.5 398.8,495.7 401.3,497.8C403.8,499.9 406.6,502 409.2,501.7C411.8,501.4 414,498.4 417.1,496C420.2,493.6 423.8,487.9 427.6,487C431.4,486.1 436.1,488.9 439.9,490.8C443.7,492.8 447,495.9 450.4,498.7C453.8,501.5 457.2,506.1 460,507.4C462.8,508.7 464.4,508.5 467,506.6C469.6,504.7 473,498.6 475.8,496C478.6,493.4 481.1,491.1 483.7,490.8C486.3,490.5 488.4,492.4 491.5,494.3C494.6,496.2 498.2,500.7 502,502.2C505.8,503.7 510.5,502.7 514.3,503.4C518.1,504.1 521,505.6 524.8,506.6C528.6,507.7 533.3,510 537.1,509.7C540.9,509.4 544.1,507.1 547.6,504.8C551.1,502.5 555.1,497.9 558,496C560.9,494.1 562.1,494 565,493.4C567.9,492.8 573.8,492.7 575.6,492.6" fill="none" stroke="#f27f1f" stroke-width="2.8"/>
</g>
<g clip-path="url(#clipd)">
<g filter="url(#bblur)">
<path d="M92.5,634.8C94.8,634.9 101.8,635.6 106.6,635.5C111.4,635.4 117,634.2 121.2,634.1C125.5,634 127.8,635 132.1,634.8C136.3,634.6 141.8,633.1 146.7,633C151.6,632.9 155.8,634.1 161.3,634.1C166.8,634.1 173.5,633.5 179.6,633C185.7,632.5 192.3,630.7 197.8,630.8C203.3,630.9 207.8,632.7 212.4,633.4C217,634.1 220.3,635 225.2,634.8C230.1,634.5 236.1,633.6 241.6,631.9C247.1,630.2 253.4,625.3 258,624.6C262.6,623.9 265.3,626.5 269,627.5C272.7,628.5 276.1,631 280,630.8C283.9,630.6 289.4,627.4 292.7,626.4C296,625.5 297.4,625.8 300,625.1C302.6,624.4 305.6,625.2 308,621.9C310.4,618.6 312.5,610.7 314.6,605.4C316.7,600.1 318.1,594.8 320.4,590.2C322.7,585.6 326.2,579.1 328.6,577.8C331,576.5 332.4,577.8 334.8,582.5C337.2,587.2 340.2,599.8 342.9,605.9C345.6,612.1 346.7,616.6 351.1,619.5C355.5,622.5 363.7,624.1 369.5,623.7C375.3,623.3 381.1,616.2 385.9,617.1C390.7,618 393.3,624.6 398.1,629C402.9,633.4 409.7,641.9 414.5,643.3C419.3,644.7 422.3,640.4 426.7,637.2C431.1,634 436.2,625.7 441,624.1C445.8,622.5 450.3,626.4 455.4,627.8C460.5,629.2 465.2,632.3 471.7,632.3C478.2,632.3 488.1,628.5 494.2,627.8C500.3,627 502.4,629.3 508.5,627.8C514.6,626.3 524.9,618.6 531,618.8C537.1,619 541.2,626.6 545.3,629C549.4,631.4 551.1,633 555.5,633.1C559.9,633.2 568.5,630.3 571.9,629.8C575.2,629.3 575,630 575.6,630L575.6,688C575,688 575.2,687.3 571.9,687.8C568.5,688.3 559.9,691.2 555.5,691.1C551.1,691 549.4,689.4 545.3,687C541.2,684.6 537.1,677 531,676.8C524.9,676.6 514.6,684.3 508.5,685.8C502.4,687.3 500.3,685 494.2,685.8C488.1,686.5 478.2,690.3 471.7,690.3C465.2,690.3 460.5,687.2 455.4,685.8C450.3,684.4 445.8,680.5 441,682.1C436.2,683.7 431.1,692 426.7,695.2C422.3,698.4 419.3,702.7 414.5,701.3C409.7,699.9 402.9,691.4 398.1,687C393.3,682.6 390.7,676 385.9,675.1C381.1,674.2 375.3,681.5 369.5,681.7C363.7,681.9 355.5,680.2 351.1,676.1C346.7,671.9 345.6,665.7 342.9,656.9C340.2,648 337.2,630.3 334.8,623.1C332.4,615.9 331,612.4 328.6,613.8C326.2,615.3 322.7,625 320.4,631.8C318.1,638.6 316.7,647.1 314.6,654.6C312.5,662.1 310.4,672.4 308,677.1C305.6,681.8 302.6,681.5 300,682.7C297.4,683.9 296,683.4 292.7,684.4C289.4,685.4 283.9,688.6 280,688.8C276.1,689 272.7,686.5 269,685.5C265.3,684.5 262.6,681.9 258,682.6C253.4,683.3 247.1,688.2 241.6,689.9C236.1,691.6 230.1,692.5 225.2,692.8C220.3,693 217,692.1 212.4,691.4C207.8,690.7 203.3,688.9 197.8,688.8C192.3,688.7 185.7,690.5 179.6,691C173.5,691.5 166.8,692.1 161.3,692.1C155.8,692.1 151.6,690.9 146.7,691C141.8,691.1 136.3,692.6 132.1,692.8C127.8,693 125.5,692 121.2,692.1C117,692.2 111.4,693.4 106.6,693.5C101.8,693.6 94.8,692.9 92.5,692.8Z" fill="#fef3f2"/>
<path d="M92.5,647.8C94.8,648 101.8,648.7 106.6,648.5C111.4,648.4 117,647.3 121.2,647.1C125.5,647 127.8,648 132.1,647.8C136.3,647.7 141.8,646.2 146.7,646C151.6,645.9 155.8,647.1 161.3,647.1C166.8,647.1 173.5,646.6 179.6,646C185.7,645.5 192.3,643.8 197.8,643.8C203.3,643.9 207.8,645.8 212.4,646.4C217,647.1 220.3,648.1 225.2,647.8C230.1,647.6 236.1,646.6 241.6,644.9C247.1,643.3 253.4,638.4 258,637.7C262.6,636.9 265.3,639.5 269,640.6C272.7,641.6 276.1,644 280,643.9C283.9,643.7 289.4,640.4 292.7,639.5C296,638.5 297.4,638.9 300,638.1C302.6,637.2 305.6,637.9 308,634.3C310.4,630.7 312.5,622.3 314.6,616.5C316.7,610.7 318.1,604.7 320.4,599.6C322.7,594.5 326.2,587.2 328.6,585.9C331,584.6 332.4,586.4 334.8,591.6C337.2,596.9 340.2,610.6 342.9,617.4C345.6,624.2 346.7,629 351.1,632.2C355.5,635.5 363.7,637.1 369.5,636.8C375.3,636.4 381.1,629.3 385.9,630.2C390.7,631 393.3,637.7 398.1,642.1C402.9,646.4 409.7,655 414.5,656.3C419.3,657.7 422.3,653.5 426.7,650.2C431.1,647 436.2,638.7 441,637.1C445.8,635.6 450.3,639.5 455.4,640.8C460.5,642.2 465.2,645.3 471.7,645.3C478.2,645.3 488.1,641.6 494.2,640.8C500.3,640.1 502.4,642.3 508.5,640.8C514.6,639.3 524.9,631.6 531,631.8C537.1,632 541.2,639.7 545.3,642C549.4,644.4 551.1,646 555.5,646.1C559.9,646.3 568.5,643.4 571.9,642.8C575.2,642.3 575,643 575.6,643L575.6,675C575,674.9 575.2,674.2 571.9,674.8C568.5,675.3 559.9,678.2 555.5,678.1C551.1,677.9 549.4,676.3 545.3,674C541.2,671.6 537.1,664 531,663.8C524.9,663.5 514.6,671.2 508.5,672.8C502.4,674.2 500.3,672 494.2,672.8C488.1,673.5 478.2,677.2 471.7,677.2C465.2,677.2 460.5,674.1 455.4,672.8C450.3,671.4 445.8,667.5 441,669.1C436.2,670.6 431.1,679 426.7,682.2C422.3,685.4 419.3,689.6 414.5,688.2C409.7,686.9 402.9,678.3 398.1,673.9C393.3,669.6 390.7,662.9 385.9,662C381.1,661.2 375.3,668.4 369.5,668.6C363.7,668.9 355.5,667.2 351.1,663.4C346.7,659.5 345.6,653.6 342.9,645.4C340.2,637.2 337.2,620.6 334.8,614C332.4,607.4 331,604.3 328.6,605.7C326.2,607.1 322.7,616.1 320.4,622.4C318.1,628.7 316.7,636.5 314.6,643.5C312.5,650.6 310.4,660.3 308,664.7C305.6,669 302.6,668.6 300,669.7C297.4,670.9 296,670.3 292.7,671.3C289.4,672.3 283.9,675.6 280,675.7C276.1,675.9 272.7,673.5 269,672.4C265.3,671.4 262.6,668.8 258,669.5C253.4,670.3 247.1,675.1 241.6,676.9C236.1,678.6 230.1,679.5 225.2,679.8C220.3,680 217,679 212.4,678.4C207.8,677.7 203.3,675.8 197.8,675.8C192.3,675.7 185.7,677.4 179.6,678C173.5,678.5 166.8,679.1 161.3,679.1C155.8,679.1 151.6,677.8 146.7,678C141.8,678.1 136.3,679.6 132.1,679.8C127.8,679.9 125.5,678.9 121.2,679.1C117,679.2 111.4,680.3 106.6,680.5C101.8,680.6 94.8,679.9 92.5,679.8Z" fill="#fce6e4"/>
</g>
<path d="M92,646.1 98,649.7 102,655.2 108,661.4 112,667.0 118,671.6 122,675.0 128,677.3 132,677.8 138,676.3 142,673.9 148,671.6 152,670.2 158,669.4 162,668.8 168,668.3 172,668.0 178,667.9 182,668.0 188,668.1 192,668.5 198,669.1 202,670.7 208,672.2 212,672.7 218,672.0 222,669.7 228,665.5 232,659.8 238,653.4 242,647.3 248,641.7 252,638.1 258,637.5 262,642.0 268,649.6 272,658.4 278,666.9 282,672.3 288,673.9 292,672.8 298,669.9 302,664.3 308,656.5 312,638.6 318,618.8 322,604.1 328,595.7 332,599.4 338,616.9 342,640.7 348,657.2 352,667.9 358,670.3 362,670.0 368,667.0 372,660.8 378,651.7 382,643.2 388,638.8 392,640.5 398,644.5 402,649.4 408,655.9 412,662.4 418,666.0 422,666.2 428,665.2 432,662.6 438,659.6 442,658.7 448,660.8 452,663.3 458,664.7 462,665.7 468,665.9 472,665.0 478,663.0 482,661.2 488,660.3 492,660.9 498,663.6 502,667.9 508,672.1 512,674.1 518,674.1 522,671.9 528,667.2 532,661.7 538,658.0 542,654.7 548,650.6 552,647.0 558,644.6 562,643.5 568,645.2 572,649.2" fill="none" stroke="#f8d6d3" stroke-width="0.6" stroke-opacity="0.5"/>
<path d="M92,688.0 98,690.6 102,693.3 108,693.4 112,692.9 118,692.5 122,692.2 128,692.5 132,692.8 138,692.1 142,691.5 148,691.1 152,691.4 158,691.8 162,692.0 168,691.7 172,691.4 178,683.9 182,679.6 188,678.0 192,677.7 198,676.7 202,674.7 208,671.4 212,668.6 218,668.5 222,672.4 228,679.6 232,688.2 238,690.6 242,689.5 248,687.3 252,685.0 258,682.8 262,683.8 268,685.1 272,686.5 278,688.0 282,687.9 288,686.2 292,684.5 298,683.3 302,680.9 308,677.4 312,661.7 318,643.2 322,627.2 328,616.2 332,616.4 338,626.7 342,644.0 348,656.8 352,668.1 358,674.9 362,679.6 368,681.1 372,680.5 378,675.4 382,670.1 388,669.9 392,677.7 398,686.4 402,690.8 408,695.2 412,699.6 418,699.8 422,697.3 428,694.5 432,689.9 438,685.3 442,682.5 448,683.8 452,685.1 458,686.4 462,687.8 468,689.1 472,690.1 478,689.1 482,688.1 488,687.1 492,686.1 498,685.8 502,682.4 508,673.9 512,667.0 518,663.2 522,662.3 528,662.7 532,663.6 538,666.0 542,668.1 548,670.3 552,674.7 558,681.6 562,689.7 568,688.7 572,687.8" fill="none" stroke="#f8d6d3" stroke-width="0.6" stroke-opacity="0.5"/>
<path d="M92,692.8 98,693.0 102,693.3 108,693.4 112,692.9 118,689.5 122,685.2 128,682.0 132,679.2 138,675.8 142,672.2 148,668.5 152,664.9 158,660.9 162,656.5 168,652.2 172,649.0 178,647.7 182,648.7 188,651.8 192,656.8 198,663.4 202,671.0 208,678.0 212,683.2 218,685.8 222,686.2 228,684.2 232,680.7 238,677.1 242,674.1 248,671.5 252,670.5 258,671.2 262,675.6 268,680.5 272,684.5 278,687.2 282,686.5 288,682.7 292,677.8 298,673.2 302,667.9 308,661.9 312,645.7 318,626.8 322,611.0 328,600.2 332,600.0 338,610.9 342,625.9 348,633.5 352,636.1 358,635.8 362,637.1 368,640.7 372,645.3 378,650.0 382,656.4 388,665.5 392,678.2 398,686.4 402,690.8 408,695.2 412,699.6 418,699.8 422,694.1 428,687.8 432,680.7 438,674.5 442,671.4 448,672.6 452,674.1 458,674.8 462,674.7 468,673.5 472,671.0 478,667.0 482,663.1 488,660.1 492,658.4 498,658.7 502,660.4 508,661.8 512,661.0 518,658.2 522,654.0 528,649.3 532,645.9 538,646.4 542,649.1 548,652.6 552,657.7 558,663.4 562,669.6 568,676.5 572,683.7" fill="none" stroke="#f8d6d3" stroke-width="0.6" stroke-opacity="0.5"/>
<path d="M92,655.4 98,654.0 102,652.5 108,652.2 112,653.5 118,655.7 122,657.0 128,655.9 132,651.0 138,643.1 142,636.1 148,633.1 152,633.8 158,637.9 162,642.4 168,645.0 172,645.9 178,646.1 182,646.9 188,648.9 192,651.3 198,652.6 202,652.2 208,649.9 212,647.0 218,646.1 222,649.0 228,654.7 232,661.1 238,665.5 242,666.2 248,662.8 252,657.4 258,653.2 262,652.4 268,653.6 272,653.7 278,652.0 282,647.2 288,641.4 292,638.3 298,639.7 302,642.8 308,644.0 312,632.0 318,613.6 322,596.7 328,584.7 332,583.7 338,593.1 342,608.8 348,619.2 352,625.7 358,626.9 362,628.8 368,632.8 372,637.4 378,640.8 382,642.3 388,643.0 392,644.7 398,645.6 402,646.9 408,651.6 412,659.0 418,664.7 422,666.4 428,665.0 432,660.4 438,655.4 442,653.9 448,656.6 452,659.8 458,660.2 462,657.4 468,652.0 472,646.1 478,641.5 482,640.9 488,643.2 492,646.3 498,648.2 502,647.7 508,644.7 512,639.6 518,635.2 522,632.2 528,629.8 532,628.1 538,628.7 542,629.1 548,630.5 552,634.7 558,641.4 562,648.0 568,653.2 572,655.1" fill="none" stroke="#f8d6d3" stroke-width="0.6" stroke-opacity="0.5"/>
<path d="M92,679.5 98,672.5 102,668.2 108,666.8 112,667.8 118,670.3 122,673.3 128,675.6 132,676.0 138,673.9 142,671.1 148,669.0 152,668.7 158,669.7 162,670.7 168,670.5 172,668.6 178,664.6 182,659.2 188,653.8 192,650.3 198,650.2 202,654.7 208,662.7 212,672.1 218,680.6 222,686.8 228,689.3 232,688.2 238,685.4 242,681.9 248,678.2 252,675.6 258,674.4 262,676.2 268,677.9 272,678.2 278,677.5 282,674.9 288,671.6 292,670.4 298,672.3 302,675.0 308,676.4 312,661.7 318,643.2 322,627.2 328,612.2 332,609.3 338,617.3 342,631.3 348,640.6 352,646.0 358,649.4 362,652.0 368,653.1 372,652.2 378,648.6 382,645.8 388,647.1 392,654.8 398,664.7 402,673.9 408,681.7 412,686.6 418,685.1 422,678.1 428,669.3 432,659.9 438,653.2 442,652.4 448,658.4 452,667.3 458,675.9 462,683.0 468,687.7 472,689.9 478,688.6 482,687.1 488,686.0 492,685.6 498,685.8 502,685.8 508,684.2 512,678.7 518,670.8 522,662.2 528,655.1 532,652.6 538,656.9 542,665.0 548,673.3 552,680.1 558,683.3 562,681.8 568,677.2 572,670.9" fill="none" stroke="#f8d6d3" stroke-width="0.6" stroke-opacity="0.5"/>
<path d="M92,643.1 98,635.5 102,635.3 108,635.4 112,635.4 118,639.8 122,642.4 128,642.9 132,641.9 138,641.5 142,644.2 148,650.3 152,657.7 158,662.8 162,663.5 168,660.5 172,656.5 178,654.7 182,656.1 188,659.3 192,662.0 198,662.0 202,659.7 208,656.7 212,655.3 218,657.3 222,662.3 228,667.1 232,669.0 238,666.5 242,660.6 248,653.1 252,647.6 258,645.6 262,647.3 268,648.8 272,646.7 278,641.0 282,632.7 288,628.2 292,626.5 298,625.6 302,625.8 308,626.5 312,615.1 318,601.1 322,590.5 328,585.5 332,592.1 338,612.0 342,638.5 348,655.2 352,663.6 358,664.6 362,665.4 368,667.6 372,669.4 378,668.0 382,662.6 388,654.9 392,649.1 398,645.0 402,642.9 408,644.6 412,648.1 418,647.1 422,640.9 428,636.5 432,631.9 438,627.3 442,624.5 448,629.7 452,639.1 458,646.1 462,649.9 468,651.5 472,652.9 478,655.7 482,660.5 488,665.1 492,667.1 498,665.5 502,661.1 508,655.8 512,651.2 518,649.1 522,649.2 528,649.5 532,648.7 538,648.3 542,647.8 548,647.8 552,650.4 558,654.5 562,657.6 568,657.7 572,654.2" fill="none" stroke="#f8d6d3" stroke-width="0.6" stroke-opacity="0.5"/>
<path d="M92,692.8 98,693.0 102,692.7 108,689.1 112,683.9 118,678.3 122,672.8 128,668.2 132,663.6 138,658.3 142,653.2 148,648.7 152,645.7 158,643.6 162,642.6 168,642.8 172,644.7 178,648.1 182,652.6 188,657.4 192,662.0 198,666.2 202,669.8 208,672.1 212,672.7 218,671.8 222,670.1 228,667.7 232,665.6 238,664.3 242,664.0 248,663.9 252,664.5 258,666.0 262,669.9 268,674.0 272,677.1 278,679.2 282,678.6 288,675.5 292,671.9 298,668.7 302,664.3 308,658.1 312,640.8 318,619.9 322,602.4 328,590.1 332,588.0 338,595.6 342,608.1 348,615.8 352,623.0 358,627.8 362,634.8 368,642.8 372,650.0 378,654.9 382,659.2 388,664.6 392,672.7 398,679.1 402,683.4 408,686.8 412,689.3 418,687.9 422,683.6 428,678.8 432,672.5 438,666.2 442,662.0 448,661.2 452,661.3 458,661.2 462,661.7 468,662.6 472,663.2 478,663.2 482,663.0 488,662.5 492,661.5 498,660.1 502,658.0 508,654.2 512,647.8 518,640.4 522,633.7 528,628.6 532,627.1 538,631.5 542,638.6 548,646.9 552,655.7 558,663.4 562,669.3 568,674.2 572,678.3" fill="none" stroke="#f8d6d3" stroke-width="0.6" stroke-opacity="0.5"/>
<path d="M92,648.8 98,655.7 102,661.4 108,664.4 112,664.3 118,662.6 122,661.4 128,662.2 132,664.2 138,665.8 142,666.0 148,664.2 152,660.5 158,655.3 162,649.7 168,645.5 172,643.9 178,644.4 182,645.5 188,645.7 192,644.2 198,641.6 202,640.2 208,640.5 212,643.3 218,648.2 222,654.1 228,658.5 232,660.1 238,658.9 242,655.6 248,651.2 252,648.1 258,647.4 262,650.2 268,654.1 272,656.1 278,655.6 282,651.3 288,645.0 292,640.1 298,638.7 302,639.1 308,639.2 312,628.5 318,613.1 322,598.9 328,588.7 332,589.0 338,600.5 342,619.1 348,633.5 352,643.0 358,646.6 362,646.5 368,643.8 372,639.6 378,635.1 382,633.1 388,635.4 392,642.8 398,650.0 402,654.4 408,656.9 412,658.0 418,656.7 422,654.5 428,654.0 432,653.1 438,651.5 442,650.6 448,650.7 452,650.2 458,649.2 462,649.6 468,651.7 472,654.4 478,655.6 482,654.6 488,651.1 492,645.8 498,640.6 502,637.3 508,636.1 512,635.9 518,636.4 522,636.6 528,635.6 532,634.7 538,636.7 542,640.1 548,644.6 552,650.8 558,656.8 562,661.1 568,662.9 572,662.4" fill="none" stroke="#f8d6d3" stroke-width="0.6" stroke-opacity="0.5"/>
<path d="M92,642.4 98,643.8 102,645.1 108,645.8 112,645.5 118,644.9 122,644.7 128,645.7 132,647.3 138,649.0 142,651.3 148,654.2 152,657.7 158,660.6 162,662.2 168,662.1 172,660.8 178,658.6 182,656.1 188,653.6 192,651.7 198,650.7 202,651.1 208,652.1 212,652.6 218,652.0 222,650.2 228,646.8 232,642.1 238,637.4 242,633.3 248,629.6 252,627.8 258,627.9 262,632.9 268,639.7 272,647.0 278,654.2 282,658.6 288,659.8 292,659.5 298,658.9 302,657.0 308,652.7 312,637.9 318,619.4 322,604.0 328,593.3 332,592.6 338,601.7 342,614.2 348,619.1 352,620.5 358,621.0 362,622.1 368,623.2 372,622.5 378,622.8 382,626.9 388,634.0 392,645.6 398,657.2 402,666.3 408,673.5 412,677.8 418,677.4 422,672.6 428,666.2 432,658.4 438,650.8 442,645.9 448,644.4 452,643.5 458,641.9 462,640.0 468,638.0 472,635.8 478,632.8 482,631.1 488,631.0 492,632.7 498,636.3 502,641.2 508,645.9 512,648.4 518,648.7 522,647.5 528,645.6 532,644.5 538,646.4 542,649.6 548,652.1 552,654.4 558,655.6 562,655.7 568,655.2 572,654.3" fill="none" stroke="#f8d6d3" stroke-width="0.6" stroke-opacity="0.5"/>
<path d="M92,669.0 98,659.7 102,651.9 108,648.8 112,650.7 118,655.9 122,661.4 128,664.9 132,665.2 138,663.5 142,662.5 148,663.8 152,666.5 158,667.8 162,665.7 168,660.9 172,656.5 178,655.9 182,660.5 188,669.0 192,678.1 198,684.2 202,686.5 208,684.8 212,681.9 218,680.1 222,680.4 228,681.1 232,680.1 238,676.9 242,672.3 248,668.1 252,667.2 258,670.6 262,677.9 268,683.1 272,683.1 278,678.0 282,668.6 288,658.6 292,652.2 298,650.9 302,651.1 308,649.0 312,635.0 318,617.2 322,603.4 328,595.8 332,600.2 338,616.7 342,635.9 348,644.3 352,643.2 358,638.4 362,636.9 368,640.7 372,647.1 378,652.1 382,655.3 388,658.0 392,663.3 398,669.6 402,676.7 408,684.5 412,690.2 418,689.1 422,682.0 428,673.4 432,666.0 438,663.6 442,668.3 448,678.1 452,685.1 458,686.4 462,685.4 468,681.2 472,677.3 478,673.9 482,671.6 488,668.6 492,663.8 498,658.5 502,655.0 508,654.6 512,656.9 518,660.5 522,662.9 528,661.2 532,655.8 538,650.6 542,647.5 548,646.6 552,648.9 558,652.4 562,654.3 568,654.4 572,653.8" fill="none" stroke="#f8d6d3" stroke-width="0.6" stroke-opacity="0.5"/>
<path d="M92,665.7 98,669.7 102,673.7 108,676.4 112,676.3 118,672.9 122,666.4 128,658.4 132,649.9 138,642.5 142,638.7 148,639.2 152,643.7 158,649.7 162,654.3 168,655.8 172,653.7 178,648.7 182,642.5 188,636.9 192,633.4 198,632.8 202,635.9 208,640.8 212,646.3 218,651.7 222,656.8 228,661.1 232,664.9 238,667.7 242,669.0 248,667.3 252,662.7 258,656.4 262,651.4 268,648.4 272,647.5 278,650.0 282,653.7 288,657.3 292,660.0 298,661.0 302,657.5 308,648.7 312,627.7 318,605.4 322,588.9 328,579.4 332,580.7 338,591.1 342,609.1 348,622.5 352,632.2 358,636.7 362,640.0 368,642.6 372,643.5 378,642.1 382,639.8 388,639.1 392,642.3 398,646.2 402,650.9 408,658.3 412,667.7 418,675.6 422,679.7 428,681.2 432,677.5 438,669.0 442,658.9 448,650.6 452,644.2 458,639.9 462,639.1 468,641.6 472,645.4 478,647.8 482,648.7 488,647.6 492,645.0 498,642.2 502,639.9 508,637.7 512,634.4 518,630.9 522,627.6 528,625.0 532,625.2 538,631.1 542,639.9 548,650.3 552,660.9 558,668.7 562,672.3 568,671.6 572,667.3" fill="none" stroke="#f8d6d3" stroke-width="0.6" stroke-opacity="0.5"/>
<path d="M92,680.9 98,681.8 102,684.4 108,688.7 112,692.9 118,692.5 122,692.2 128,692.5 132,692.8 138,692.1 142,691.5 148,691.1 152,691.4 158,691.8 162,692.0 168,687.7 172,684.2 178,682.6 182,682.8 188,684.1 192,686.0 198,687.7 202,689.6 208,690.5 212,689.8 218,687.2 222,683.6 228,679.0 232,674.1 238,669.9 242,666.5 248,663.7 252,662.1 258,662.6 262,666.6 268,672.3 272,678.1 278,683.9 282,687.8 288,686.2 292,684.5 298,683.3 302,680.9 308,677.4 312,661.7 318,643.2 322,627.2 328,616.2 332,619.7 338,634.4 342,655.2 348,667.6 352,676.5 358,678.0 362,679.6 368,681.1 372,680.5 378,678.5 382,676.5 388,676.7 392,678.3 398,676.2 402,674.1 408,673.7 412,674.2 418,673.9 422,672.5 428,672.4 432,672.4 438,673.2 442,675.6 448,680.6 452,683.9 458,685.3 462,685.2 468,684.2 472,682.5 478,679.6 482,677.9 488,677.7 492,679.3 498,683.1 502,685.8 508,685.8 512,684.2 518,682.2 522,680.2 528,678.2 532,677.9 538,681.4 542,685.0 548,687.9 552,689.9 558,690.7 562,689.0 568,684.7 572,681.0" fill="none" stroke="#f8d6d3" stroke-width="0.6" stroke-opacity="0.5"/>
<path d="M92.5,663.8C94.8,663.9 101.8,664.6 106.6,664.5C111.4,664.4 117,663.2 121.2,663.1C125.5,663 127.8,664 132.1,663.8C136.3,663.6 141.8,662.1 146.7,662C151.6,661.9 155.8,663.1 161.3,663.1C166.8,663.1 173.5,662.5 179.6,662C185.7,661.5 192.3,659.7 197.8,659.8C203.3,659.9 207.8,661.7 212.4,662.4C217,663.1 220.3,664 225.2,663.8C230.1,663.5 236.1,662.6 241.6,660.9C247.1,659.2 253.4,654.3 258,653.6C262.6,652.9 265.3,655.5 269,656.5C272.7,657.5 276.1,660 280,659.8C283.9,659.6 289.4,656.4 292.7,655.4C296,654.4 297.4,654.9 300,653.9C302.6,652.9 305.6,653.5 308,649.5C310.4,645.5 312.5,636.4 314.6,630C316.7,623.6 318.1,616.7 320.4,611C322.7,605.3 326.2,597.2 328.6,595.8C331,594.4 332.4,596.9 334.8,602.8C337.2,608.7 340.2,623.9 342.9,631.4C345.6,638.9 346.7,644.2 351.1,647.8C355.5,651.3 363.7,653 369.5,652.7C375.3,652.4 381.1,645.2 385.9,646.1C390.7,647 393.3,653.6 398.1,658C402.9,662.4 409.7,670.9 414.5,672.3C419.3,673.7 422.3,669.4 426.7,666.2C431.1,663 436.2,654.7 441,653.1C445.8,651.5 450.3,655.4 455.4,656.8C460.5,658.2 465.2,661.3 471.7,661.3C478.2,661.3 488.1,657.5 494.2,656.8C500.3,656 502.4,658.3 508.5,656.8C514.6,655.3 524.9,647.6 531,647.8C537.1,648 541.2,655.6 545.3,658C549.4,660.4 551.1,662 555.5,662.1C559.9,662.2 568.5,659.3 571.9,658.8C575.2,658.3 575,659 575.6,659" fill="none" stroke="#e62a2c" stroke-width="2.8"/>
</g>
<rect x="92.5" y="431.6" width="483.1" height="268.7" fill="none" stroke="#262626" stroke-width="1.5"/>
<line x1="92.5" y1="565.6" x2="575.6" y2="565.6" stroke="#262626" stroke-width="1.5"/>
<line x1="87" y1="438.1" x2="92.5" y2="438.1" stroke="#262626" stroke-width="1.3"/>
<text transform="translate(78.60,445.90) scale(1.02,1)" font-size="17.5" text-anchor="end">0.10</text>
<line x1="87" y1="468.4" x2="92.5" y2="468.4" stroke="#262626" stroke-width="1.3"/>
<text transform="translate(78.60,476.20) scale(1.02,1)" font-size="17.5" text-anchor="end">0.05</text>
<line x1="87" y1="498.7" x2="92.5" y2="498.7" stroke="#262626" stroke-width="1.3"/>
<text transform="translate(78.60,506.50) scale(1.02,1)" font-size="17.5" text-anchor="end">0.00</text>
<line x1="87" y1="529" x2="92.5" y2="529" stroke="#262626" stroke-width="1.3"/>
<text transform="translate(78.60,536.80) scale(1.02,1)" font-size="17.5" text-anchor="end">−0.05</text>
<line x1="87" y1="559.3" x2="92.5" y2="559.3" stroke="#262626" stroke-width="1.3"/>
<text transform="translate(78.60,567.10) scale(1.02,1)" font-size="17.5" text-anchor="end">−0.10</text>
<line x1="87" y1="604.8" x2="92.5" y2="604.8" stroke="#262626" stroke-width="1.3"/>
<text transform="translate(78.60,612.60) scale(1.02,1)" font-size="17.5" text-anchor="end">0.10</text>
<line x1="87" y1="631.9" x2="92.5" y2="631.9" stroke="#262626" stroke-width="1.3"/>
<text transform="translate(78.60,639.70) scale(1.02,1)" font-size="17.5" text-anchor="end">0.05</text>
<line x1="87" y1="659" x2="92.5" y2="659" stroke="#262626" stroke-width="1.3"/>
<text transform="translate(78.60,666.80) scale(1.02,1)" font-size="17.5" text-anchor="end">0.00</text>
<line x1="87" y1="686.1" x2="92.5" y2="686.1" stroke="#262626" stroke-width="1.3"/>
<text transform="translate(78.60,693.90) scale(1.02,1)" font-size="17.5" text-anchor="end">−0.05</text>
<line x1="575.6" y1="573.6" x2="580.8" y2="573.6" stroke="#262626" stroke-width="1.3"/>
<text transform="translate(589.90,580.80) scale(1.02,1)" font-size="17.5">0.9</text>
<line x1="575.6" y1="601.9" x2="580.8" y2="601.9" stroke="#262626" stroke-width="1.3"/>
<text transform="translate(589.90,609.10) scale(1.02,1)" font-size="17.5">0.6</text>
<line x1="575.6" y1="630.3" x2="580.8" y2="630.3" stroke="#262626" stroke-width="1.3"/>
<text transform="translate(589.90,637.50) scale(1.02,1)" font-size="17.5">0.3</text>
<line x1="575.6" y1="658.6" x2="580.8" y2="658.6" stroke="#262626" stroke-width="1.3"/>
<text transform="translate(589.90,665.80) scale(1.02,1)" font-size="17.5">0.0</text>
<line x1="575.6" y1="687" x2="580.8" y2="687" stroke="#262626" stroke-width="1.3"/>
<text transform="translate(589.90,694.20) scale(1.02,1)" font-size="17.5">−0.3</text>
<line x1="92.4" y1="700.3" x2="92.4" y2="705.4" stroke="#262626" stroke-width="1.3"/>
<text transform="translate(92.40,727.80) scale(1.03,1)" font-size="17.5" text-anchor="middle">0</text>
<line x1="196.4" y1="700.3" x2="196.4" y2="705.4" stroke="#262626" stroke-width="1.3"/>
<text transform="translate(196.40,727.80) scale(1.03,1)" font-size="17.5" text-anchor="middle">2</text>
<line x1="300.4" y1="700.3" x2="300.4" y2="705.4" stroke="#262626" stroke-width="1.3"/>
<text transform="translate(300.40,727.80) scale(1.03,1)" font-size="17.5" text-anchor="middle">4</text>
<line x1="404.4" y1="700.3" x2="404.4" y2="705.4" stroke="#262626" stroke-width="1.3"/>
<text transform="translate(404.40,727.80) scale(1.03,1)" font-size="17.5" text-anchor="middle">6</text>
<line x1="508.4" y1="700.3" x2="508.4" y2="705.4" stroke="#262626" stroke-width="1.3"/>
<text transform="translate(508.40,727.80) scale(1.03,1)" font-size="17.5" text-anchor="middle">8</text>
<text transform="translate(327.50,756.30) scale(1.03,1)" font-size="17.5" text-anchor="middle">Time (ps)</text>
<text x="98.5" y="453.2" font-size="25" font-weight="bold">c</text>
<text x="98" y="590" font-size="25" font-weight="bold">d</text>
<text transform="translate(13.6,499) rotate(-90) scale(1.02,1)" font-size="17.5" text-anchor="middle"><tspan font-style="italic">Y</tspan><tspan font-size="12" dy="4">1,2</tspan><tspan dy="-4"> (rad)</tspan></text>
<text transform="translate(18.9,646.5) rotate(-90) scale(1.02,1)" font-size="17.5" text-anchor="middle">Δ<tspan font-style="italic">ϕ</tspan> (rad)</text>
<text transform="translate(646.6,631.7) rotate(-90) scale(1.02,1)" font-size="17.5" text-anchor="middle">E(Vm<tspan font-size="12" dy="-7">−1</tspan><tspan dy="7">)</tspan></text>
<defs><linearGradient id="spec" x1="0" y1="0" x2="0" y2="1"><stop offset="0.0" stop-color="#5e4fa2"/><stop offset="0.1" stop-color="#3387bc"/><stop offset="0.2" stop-color="#66c2a5"/><stop offset="0.3" stop-color="#aadca4"/><stop offset="0.4" stop-color="#e6f598"/><stop offset="0.5" stop-color="#ffffbe"/><stop offset="0.6" stop-color="#fee08b"/><stop offset="0.7" stop-color="#fdad60"/><stop offset="0.8" stop-color="#f46d43"/><stop offset="0.9" stop-color="#d43d4f"/><stop offset="1.0" stop-color="#9e0142"/></linearGradient></defs>
<defs><filter id="nz1" x="0" y="0" width="1" height="1" color-interpolation-filters="sRGB"><feTurbulence type="fractalNoise" baseFrequency="0.05 0.5" numOctaves="2" seed="3"/><feColorMatrix type="matrix" values="3.2 0 0 0 -1.792  0 2.6 0 0 -1.378  0 0 0 0 0  0 0 0 0 1"/><feColorMatrix type="matrix" values="0.010 -0.105 0 0 0.965  -0.153 -0.028 0 0 0.953  -0.185 -0.035 0 0 0.725  0 0 0 0 1"/></filter><filter id="nz2" x="0" y="0" width="1" height="1" color-interpolation-filters="sRGB"><feTurbulence type="fractalNoise" baseFrequency="0.05 0.5" numOctaves="2" seed="8"/><feColorMatrix type="matrix" values="3.2 0 0 0 -1.696  0 2.6 0 0 -1.430  0 0 0 0 0  0 0 0 0 1"/><feColorMatrix type="matrix" values="0.010 -0.105 0 0 0.965  -0.153 -0.028 0 0 0.953  -0.185 -0.035 0 0 0.725  0 0 0 0 1"/></filter><filter id="nz3" x="0" y="0" width="1" height="1" color-interpolation-filters="sRGB"><feTurbulence type="fractalNoise" baseFrequency="0.045 0.3" numOctaves="2" seed="21"/><feColorMatrix type="matrix" values="3.2 0 0 0 -1.600  0 2.6 0 0 -1.469  0 0 0 0 0  0 0 0 0 1"/><feColorMatrix type="matrix" values="0.010 -0.105 0 0 0.965  -0.153 -0.028 0 0 0.953  -0.185 -0.035 0 0 0.725  0 0 0 0 1"/></filter><linearGradient id="stg1" x1="0" y1="0" x2="1" y2="0"><stop offset="0.0" stop-color="#f3faac" stop-opacity="0.0"/><stop offset="0.12" stop-color="#daf09a" stop-opacity="0.8"/><stop offset="0.22" stop-color="#9cd7a4" stop-opacity="1"/><stop offset="0.3" stop-color="#66c2a5" stop-opacity="1"/><stop offset="0.37" stop-color="#459eb4" stop-opacity="1"/><stop offset="0.44" stop-color="#3387bc" stop-opacity="1"/><stop offset="0.56" stop-color="#3387bc" stop-opacity="1"/><stop offset="0.63" stop-color="#459eb4" stop-opacity="1"/><stop offset="0.7" stop-color="#66c2a5" stop-opacity="1"/><stop offset="0.78" stop-color="#9cd7a4" stop-opacity="1"/><stop offset="0.88" stop-color="#daf09a" stop-opacity="0.8"/><stop offset="1.0" stop-color="#f3faac" stop-opacity="0.0"/></linearGradient><linearGradient id="stg2" x1="0" y1="0" x2="1" y2="0"><stop offset="0.0" stop-color="#f3faac" stop-opacity="0.0"/><stop offset="0.12" stop-color="#daf09a" stop-opacity="0.8"/><stop offset="0.22" stop-color="#9cd7a4" stop-opacity="1"/><stop offset="0.3" stop-color="#66c2a5" stop-opacity="1"/><stop offset="0.37" stop-color="#459eb4" stop-opacity="1"/><stop offset="0.44" stop-color="#4199b6" stop-opacity="1"/><stop offset="0.56" stop-color="#4199b6" stop-opacity="1"/><stop offset="0.63" stop-color="#459eb4" stop-opacity="1"/><stop offset="0.7" stop-color="#66c2a5" stop-opacity="1"/><stop offset="0.78" stop-color="#9cd7a4" stop-opacity="1"/><stop offset="0.88" stop-color="#daf09a" stop-opacity="0.8"/><stop offset="1.0" stop-color="#f3faac" stop-opacity="0.0"/></linearGradient><linearGradient id="stg3" x1="0" y1="0" x2="1" y2="0"><stop offset="0.0" stop-color="#f3faac" stop-opacity="0.0"/><stop offset="0.12" stop-color="#daf09a" stop-opacity="0.8"/><stop offset="0.22" stop-color="#9cd7a4" stop-opacity="1"/><stop offset="0.3" stop-color="#66c2a5" stop-opacity="1"/><stop offset="0.37" stop-color="#459eb4" stop-opacity="1"/><stop offset="0.44" stop-color="#3387bc" stop-opacity="1"/><stop offset="0.56" stop-color="#3387bc" stop-opacity="1"/><stop offset="0.63" stop-color="#459eb4" stop-opacity="1"/><stop offset="0.7" stop-color="#66c2a5" stop-opacity="1"/><stop offset="0.78" stop-color="#9cd7a4" stop-opacity="1"/><stop offset="0.88" stop-color="#daf09a" stop-opacity="0.8"/><stop offset="1.0" stop-color="#f3faac" stop-opacity="0.0"/></linearGradient><linearGradient id="cor" x1="0" y1="0" x2="1" y2="0"><stop offset="0" stop-color="#f7b870" stop-opacity="0"/><stop offset="0.5" stop-color="#f7b870" stop-opacity="0.45"/><stop offset="1" stop-color="#f7b870" stop-opacity="0"/></linearGradient><linearGradient id="cgr" x1="0" y1="0" x2="1" y2="0"><stop offset="0" stop-color="#b8dc9c" stop-opacity="0"/><stop offset="0.5" stop-color="#b8dc9c" stop-opacity="0.45"/><stop offset="1" stop-color="#b8dc9c" stop-opacity="0"/></linearGradient></defs>
<rect x="92" y="794.5" width="191.3" height="198" filter="url(#nz1)"/>
<rect x="211" y="794.5" width="12" height="110" fill="url(#cor)"/>
<rect x="256" y="850" width="12" height="110" fill="url(#cgr)"/>
<rect x="177.4" y="794.5" width="20.3" height="2.05" fill="url(#stg1)" opacity="0.98"/>
<rect x="176.0" y="796.5" width="23.5" height="2.05" fill="url(#stg1)" opacity="0.99"/>
<rect x="176.8" y="798.5" width="21.0" height="2.05" fill="url(#stg1)" opacity="0.93"/>
<rect x="176.7" y="800.5" width="22.4" height="2.05" fill="url(#stg1)" opacity="0.88"/>
<rect x="174.7" y="802.5" width="24.1" height="2.05" fill="url(#stg1)" opacity="0.98"/>
<rect x="175.4" y="804.5" width="21.9" height="2.05" fill="url(#stg1)" opacity="0.88"/>
<rect x="175.8" y="806.5" width="21.4" height="2.05" fill="url(#stg1)" opacity="0.93"/>
<rect x="175.8" y="808.5" width="21.9" height="2.05" fill="url(#stg1)" opacity="0.94"/>
<rect x="175.0" y="810.5" width="23.1" height="2.05" fill="url(#stg1)" opacity="0.84"/>
<rect x="175.7" y="812.5" width="20.7" height="2.05" fill="url(#stg1)" opacity="0.98"/>
<rect x="174.5" y="814.5" width="22.0" height="2.05" fill="url(#stg1)"/>
<rect x="175.2" y="816.5" width="20.6" height="2.05" fill="url(#stg1)" opacity="0.96"/>
<rect x="174.8" y="818.5" width="20.2" height="2.05" fill="url(#stg1)" opacity="0.98"/>
<rect x="172.8" y="820.5" width="23.5" height="2.05" fill="url(#stg1)" opacity="0.93"/>
<rect x="172.8" y="822.5" width="22.4" height="2.05" fill="url(#stg1)" opacity="0.89"/>
<rect x="173.3" y="824.5" width="22.1" height="2.05" fill="url(#stg1)" opacity="0.80"/>
<rect x="173.1" y="826.5" width="21.7" height="2.05" fill="url(#stg1)" opacity="0.90"/>
<rect x="171.8" y="828.5" width="23.0" height="2.05" fill="url(#stg1)" opacity="0.89"/>
<rect x="172.8" y="830.5" width="20.9" height="2.05" fill="url(#stg1)" opacity="0.86"/>
<rect x="170.7" y="832.5" width="25.2" height="2.05" fill="url(#stg1)" opacity="0.94"/>
<rect x="171.5" y="834.5" width="23.1" height="2.05" fill="url(#stg1)" opacity="0.94"/>
<rect x="170.5" y="836.5" width="23.8" height="2.05" fill="url(#stg1)" opacity="0.96"/>
<rect x="171.2" y="838.5" width="22.0" height="2.05" fill="url(#stg1)" opacity="0.94"/>
<rect x="171.0" y="840.5" width="21.8" height="2.05" fill="url(#stg1)" opacity="0.98"/>
<rect x="171.5" y="842.5" width="20.9" height="2.05" fill="url(#stg1)" opacity="0.91"/>
<rect x="171.1" y="844.5" width="20.4" height="2.05" fill="url(#stg1)" opacity="0.87"/>
<rect x="171.2" y="846.5" width="21.5" height="2.05" fill="url(#stg1)" opacity="0.90"/>
<rect x="169.8" y="848.5" width="22.6" height="2.05" fill="url(#stg1)" opacity="0.89"/>
<rect x="169.5" y="850.5" width="22.8" height="2.05" fill="url(#stg1)" opacity="0.88"/>
<rect x="170.1" y="852.5" width="22.0" height="2.05" fill="url(#stg1)" opacity="0.96"/>
<rect x="169.2" y="854.5" width="23.8" height="2.05" fill="url(#stg1)" opacity="0.95"/>
<rect x="170.8" y="856.5" width="19.6" height="2.05" fill="url(#stg1)" opacity="0.98"/>
<rect x="169.6" y="858.5" width="22.3" height="2.05" fill="url(#stg1)" opacity="0.95"/>
<rect x="170.0" y="860.5" width="21.0" height="2.05" fill="url(#stg1)" opacity="0.95"/>
<rect x="169.9" y="862.5" width="21.5" height="2.05" fill="url(#stg1)" opacity="0.99"/>
<rect x="169.9" y="864.5" width="22.6" height="2.05" fill="url(#stg1)" opacity="0.84"/>
<rect x="169.9" y="866.5" width="22.5" height="2.05" fill="url(#stg1)" opacity="0.91"/>
<rect x="169.9" y="868.5" width="22.0" height="2.05" fill="url(#stg1)" opacity="0.94"/>
<rect x="170.0" y="870.5" width="20.7" height="2.05" fill="url(#stg1)"/>
<rect x="170.1" y="872.5" width="21.6" height="2.05" fill="url(#stg1)" opacity="0.96"/>
<rect x="171.0" y="874.5" width="20.4" height="2.05" fill="url(#stg1)" opacity="0.97"/>
<rect x="170.1" y="876.5" width="20.6" height="2.05" fill="url(#stg1)" opacity="0.90"/>
<rect x="169.2" y="878.5" width="22.6" height="2.05" fill="url(#stg1)" opacity="0.95"/>
<rect x="169.0" y="880.5" width="23.0" height="2.05" fill="url(#stg1)" opacity="0.97"/>
<rect x="169.5" y="882.5" width="22.6" height="2.05" fill="url(#stg1)" opacity="0.95"/>
<rect x="169.7" y="884.5" width="22.8" height="2.05" fill="url(#stg1)" opacity="0.99"/>
<rect x="170.3" y="886.5" width="20.8" height="2.05" fill="url(#stg1)" opacity="0.97"/>
<rect x="169.3" y="888.5" width="22.8" height="2.05" fill="url(#stg1)" opacity="0.85"/>
<rect x="170.4" y="890.5" width="20.1" height="2.05" fill="url(#stg1)" opacity="0.81"/>
<rect x="170.5" y="892.5" width="20.6" height="2.05" fill="url(#stg1)" opacity="0.86"/>
<rect x="170.8" y="894.5" width="19.6" height="2.05" fill="url(#stg1)" opacity="0.96"/>
<rect x="168.5" y="896.5" width="24.1" height="2.05" fill="url(#stg1)" opacity="0.92"/>
<rect x="170.0" y="898.5" width="21.6" height="2.05" fill="url(#stg1)" opacity="0.96"/>
<rect x="169.6" y="900.5" width="22.3" height="2.05" fill="url(#stg1)" opacity="0.89"/>
<rect x="171.1" y="902.5" width="20.8" height="2.05" fill="url(#stg1)" opacity="0.89"/>
<rect x="170.9" y="904.5" width="21.1" height="2.05" fill="url(#stg1)" opacity="0.94"/>
<rect x="168.7" y="906.5" width="24.6" height="2.05" fill="url(#stg1)" opacity="0.91"/>
<rect x="169.8" y="908.5" width="23.2" height="2.05" fill="url(#stg1)" opacity="0.87"/>
<rect x="170.5" y="910.5" width="21.3" height="2.05" fill="url(#stg1)" opacity="0.96"/>
<rect x="171.4" y="912.5" width="21.8" height="2.05" fill="url(#stg1)" opacity="0.98"/>
<rect x="170.1" y="914.5" width="24.4" height="2.05" fill="url(#stg1)" opacity="0.78"/>
<rect x="172.0" y="916.5" width="20.8" height="2.05" fill="url(#stg1)" opacity="0.73"/>
<rect x="171.8" y="918.5" width="21.2" height="2.05" fill="url(#stg1)"/>
<rect x="171.5" y="920.5" width="23.4" height="2.05" fill="url(#stg1)" opacity="0.96"/>
<rect x="171.5" y="922.5" width="22.7" height="2.05" fill="url(#stg1)" opacity="0.98"/>
<rect x="173.1" y="924.5" width="22.0" height="2.05" fill="url(#stg1)" opacity="0.87"/>
<rect x="171.3" y="926.5" width="23.9" height="2.05" fill="url(#stg1)" opacity="0.95"/>
<rect x="172.5" y="928.5" width="21.2" height="2.05" fill="url(#stg1)"/>
<rect x="174.1" y="930.5" width="20.7" height="2.05" fill="url(#stg1)" opacity="0.93"/>
<rect x="174.0" y="932.5" width="21.1" height="2.05" fill="url(#stg1)" opacity="0.98"/>
<rect x="172.9" y="934.5" width="24.3" height="2.05" fill="url(#stg1)" opacity="0.91"/>
<rect x="173.0" y="936.5" width="23.5" height="2.05" fill="url(#stg1)" opacity="0.99"/>
<rect x="174.4" y="938.5" width="20.9" height="2.05" fill="url(#stg1)"/>
<rect x="172.2" y="940.5" width="25.7" height="2.05" fill="url(#stg1)" opacity="0.98"/>
<rect x="173.8" y="942.5" width="23.7" height="2.05" fill="url(#stg1)" opacity="0.98"/>
<rect x="176.3" y="944.5" width="19.1" height="2.05" fill="url(#stg1)" opacity="0.99"/>
<rect x="176.5" y="946.5" width="18.8" height="2.05" fill="url(#stg1)" opacity="0.88"/>
<rect x="175.4" y="948.5" width="21.7" height="2.05" fill="url(#stg1)" opacity="0.89"/>
<rect x="175.3" y="950.5" width="21.3" height="2.05" fill="url(#stg1)" opacity="0.93"/>
<rect x="175.6" y="952.5" width="21.6" height="2.05" fill="url(#stg1)" opacity="0.93"/>
<rect x="174.6" y="954.5" width="23.7" height="2.05" fill="url(#stg1)" opacity="0.97"/>
<rect x="176.0" y="956.5" width="21.8" height="1.85" fill="url(#stg1)" opacity="0.87"/>
<rect x="92" y="999" width="191.3" height="198.2" filter="url(#nz2)"/>
<rect x="212" y="999" width="14" height="198" fill="url(#cor)" opacity="0.6"/>
<rect x="256" y="999" width="12" height="165" fill="url(#cgr)"/>
<rect x="174.1" y="999.0" width="24.3" height="2.05" fill="url(#stg2)" opacity="0.74"/>
<rect x="174.1" y="1001.0" width="23.3" height="2.05" fill="url(#stg2)" opacity="0.86"/>
<rect x="174.0" y="1003.0" width="24.0" height="2.05" fill="url(#stg2)" opacity="0.97"/>
<rect x="174.7" y="1005.0" width="22.2" height="2.05" fill="url(#stg2)" opacity="0.89"/>
<rect x="174.0" y="1007.0" width="22.5" height="2.05" fill="url(#stg2)" opacity="0.94"/>
<rect x="174.1" y="1009.0" width="23.7" height="2.05" fill="url(#stg2)" opacity="0.82"/>
<rect x="173.5" y="1011.0" width="23.8" height="2.05" fill="url(#stg2)" opacity="0.91"/>
<rect x="173.9" y="1013.0" width="22.1" height="2.05" fill="url(#stg2)" opacity="0.97"/>
<rect x="174.8" y="1015.0" width="19.7" height="2.05" fill="url(#stg2)" opacity="0.96"/>
<rect x="173.0" y="1017.0" width="23.6" height="2.05" fill="url(#stg2)" opacity="0.96"/>
<rect x="174.0" y="1019.0" width="22.3" height="2.05" fill="url(#stg2)" opacity="0.91"/>
<rect x="173.1" y="1021.0" width="23.4" height="2.05" fill="url(#stg2)" opacity="0.95"/>
<rect x="174.2" y="1023.0" width="21.1" height="2.05" fill="url(#stg2)" opacity="0.94"/>
<rect x="174.3" y="1025.0" width="20.9" height="2.05" fill="url(#stg2)" opacity="0.80"/>
<rect x="173.6" y="1027.0" width="21.8" height="2.05" fill="url(#stg2)" opacity="0.96"/>
<rect x="174.2" y="1029.0" width="21.8" height="2.05" fill="url(#stg2)" opacity="0.93"/>
<rect x="174.4" y="1031.0" width="20.1" height="2.05" fill="url(#stg2)" opacity="0.92"/>
<rect x="173.8" y="1033.0" width="21.7" height="2.05" fill="url(#stg2)"/>
<rect x="173.7" y="1035.0" width="20.0" height="2.05" fill="url(#stg2)" opacity="0.96"/>
<rect x="173.7" y="1037.0" width="21.4" height="2.05" fill="url(#stg2)" opacity="0.97"/>
<rect x="173.5" y="1039.0" width="22.1" height="2.05" fill="url(#stg2)" opacity="0.94"/>
<rect x="174.5" y="1041.0" width="20.4" height="2.05" fill="url(#stg2)" opacity="0.93"/>
<rect x="172.2" y="1043.0" width="22.6" height="2.05" fill="url(#stg2)" opacity="0.98"/>
<rect x="173.7" y="1045.0" width="20.6" height="2.05" fill="url(#stg2)" opacity="0.99"/>
<rect x="172.9" y="1047.0" width="22.1" height="2.05" fill="url(#stg2)" opacity="0.91"/>
<rect x="174.0" y="1049.0" width="20.6" height="2.05" fill="url(#stg2)" opacity="0.97"/>
<rect x="172.1" y="1051.0" width="23.7" height="2.05" fill="url(#stg2)" opacity="0.85"/>
<rect x="172.2" y="1053.0" width="23.6" height="2.05" fill="url(#stg2)" opacity="0.93"/>
<rect x="172.4" y="1055.0" width="22.4" height="2.05" fill="url(#stg2)" opacity="0.97"/>
<rect x="173.9" y="1057.0" width="20.8" height="2.05" fill="url(#stg2)" opacity="0.98"/>
<rect x="172.6" y="1059.0" width="23.4" height="2.05" fill="url(#stg2)" opacity="0.89"/>
<rect x="174.1" y="1061.0" width="20.8" height="2.05" fill="url(#stg2)" opacity="0.85"/>
<rect x="172.6" y="1063.0" width="22.2" height="2.05" fill="url(#stg2)" opacity="0.97"/>
<rect x="172.9" y="1065.0" width="22.7" height="2.05" fill="url(#stg2)" opacity="0.97"/>
<rect x="172.0" y="1067.0" width="24.4" height="2.05" fill="url(#stg2)" opacity="0.78"/>
<rect x="173.1" y="1069.0" width="21.3" height="2.05" fill="url(#stg2)" opacity="0.87"/>
<rect x="173.2" y="1071.0" width="21.0" height="2.05" fill="url(#stg2)" opacity="0.93"/>
<rect x="172.2" y="1073.0" width="23.1" height="2.05" fill="url(#stg2)" opacity="0.87"/>
<rect x="174.6" y="1075.0" width="21.3" height="2.05" fill="url(#stg2)" opacity="0.99"/>
<rect x="173.4" y="1077.0" width="22.3" height="2.05" fill="url(#stg2)" opacity="0.93"/>
<rect x="174.5" y="1079.0" width="21.5" height="2.05" fill="url(#stg2)" opacity="0.90"/>
<rect x="173.7" y="1081.0" width="23.6" height="2.05" fill="url(#stg2)" opacity="0.84"/>
<rect x="173.5" y="1083.0" width="22.5" height="2.05" fill="url(#stg2)" opacity="0.94"/>
<rect x="174.5" y="1085.0" width="22.4" height="2.05" fill="url(#stg2)" opacity="0.98"/>
<rect x="174.6" y="1087.0" width="22.7" height="2.05" fill="url(#stg2)" opacity="0.95"/>
<rect x="173.4" y="1089.0" width="24.3" height="2.05" fill="url(#stg2)" opacity="0.99"/>
<rect x="175.1" y="1091.0" width="22.4" height="2.05" fill="url(#stg2)" opacity="0.87"/>
<rect x="175.0" y="1093.0" width="22.3" height="2.05" fill="url(#stg2)" opacity="0.99"/>
<rect x="175.4" y="1095.0" width="21.2" height="2.05" fill="url(#stg2)" opacity="0.99"/>
<rect x="176.0" y="1097.0" width="20.7" height="2.05" fill="url(#stg2)" opacity="0.76"/>
<rect x="175.4" y="1099.0" width="21.6" height="2.05" fill="url(#stg2)" opacity="0.76"/>
<rect x="174.9" y="1101.0" width="23.0" height="2.05" fill="url(#stg2)" opacity="0.93"/>
<rect x="176.6" y="1103.0" width="20.1" height="2.05" fill="url(#stg2)" opacity="0.84"/>
<rect x="175.6" y="1105.0" width="22.6" height="2.05" fill="url(#stg2)" opacity="0.78"/>
<rect x="176.5" y="1107.0" width="21.1" height="2.05" fill="url(#stg2)" opacity="0.91"/>
<rect x="176.7" y="1109.0" width="20.9" height="2.05" fill="url(#stg2)" opacity="0.96"/>
<rect x="175.4" y="1111.0" width="23.8" height="2.05" fill="url(#stg2)" opacity="0.69"/>
<rect x="176.4" y="1113.0" width="22.2" height="2.05" fill="url(#stg2)" opacity="0.93"/>
<rect x="176.0" y="1115.0" width="22.9" height="2.05" fill="url(#stg2)" opacity="0.95"/>
<rect x="177.1" y="1117.0" width="21.1" height="2.05" fill="url(#stg2)" opacity="0.98"/>
<rect x="177.0" y="1119.0" width="22.2" height="2.05" fill="url(#stg2)" opacity="0.84"/>
<rect x="177.3" y="1121.0" width="22.0" height="2.05" fill="url(#stg2)" opacity="0.82"/>
<rect x="175.8" y="1123.0" width="23.7" height="2.05" fill="url(#stg2)" opacity="0.80"/>
<rect x="177.1" y="1125.0" width="22.0" height="2.05" fill="url(#stg2)" opacity="0.90"/>
<rect x="177.4" y="1127.0" width="22.7" height="2.05" fill="url(#stg2)" opacity="0.96"/>
<rect x="177.4" y="1129.0" width="22.5" height="2.05" fill="url(#stg2)" opacity="0.89"/>
<rect x="177.2" y="1131.0" width="22.1" height="2.05" fill="url(#stg2)" opacity="0.86"/>
<rect x="178.0" y="1133.0" width="21.2" height="2.05" fill="url(#stg2)" opacity="0.91"/>
<rect x="177.5" y="1135.0" width="21.0" height="2.05" fill="url(#stg2)" opacity="0.87"/>
<rect x="177.1" y="1137.0" width="23.8" height="2.05" fill="url(#stg2)" opacity="0.84"/>
<rect x="177.4" y="1139.0" width="23.3" height="2.05" fill="url(#stg2)" opacity="0.90"/>
<rect x="176.8" y="1141.0" width="22.6" height="2.05" fill="url(#stg2)" opacity="0.96"/>
<rect x="178.3" y="1143.0" width="20.5" height="2.05" fill="url(#stg2)" opacity="0.86"/>
<rect x="178.7" y="1145.0" width="20.2" height="2.05" fill="url(#stg2)" opacity="0.94"/>
<rect x="178.4" y="1147.0" width="20.8" height="2.05" fill="url(#stg2)" opacity="0.98"/>
<rect x="179.1" y="1149.0" width="19.1" height="2.05" fill="url(#stg2)" opacity="0.85"/>
<rect x="177.8" y="1151.0" width="22.5" height="2.05" fill="url(#stg2)" opacity="0.97"/>
<rect x="177.9" y="1153.0" width="21.2" height="2.05" fill="url(#stg2)" opacity="0.99"/>
<rect x="178.8" y="1155.0" width="20.9" height="2.05" fill="url(#stg2)" opacity="0.89"/>
<rect x="178.4" y="1157.0" width="22.1" height="2.05" fill="url(#stg2)" opacity="0.96"/>
<rect x="178.3" y="1159.0" width="21.1" height="2.05" fill="url(#stg2)" opacity="0.84"/>
<rect x="178.8" y="1161.0" width="21.4" height="2.05" fill="url(#stg2)" opacity="0.87"/>
<rect x="384.3" y="794.8" width="191.2" height="402.3" filter="url(#nz3)"/>
<rect x="505" y="794.8" width="13" height="402" fill="url(#cor)"/>
<rect x="550" y="794.8" width="16" height="402" fill="url(#cgr)"/>
<rect x="486" y="794.8" width="14" height="402" fill="url(#cgr)" opacity="0.5"/>
<rect x="466.6" y="794.8" width="24.4" height="2.05" fill="url(#stg3)" opacity="0.97"/>
<rect x="466.6" y="796.8" width="23.3" height="2.05" fill="url(#stg3)" opacity="0.90"/>
<rect x="465.8" y="798.8" width="25.9" height="2.05" fill="url(#stg3)" opacity="0.95"/>
<rect x="466.0" y="800.8" width="24.7" height="2.05" fill="url(#stg3)" opacity="0.96"/>
<rect x="467.4" y="802.8" width="22.7" height="2.05" fill="url(#stg3)"/>
<rect x="468.0" y="804.8" width="22.1" height="2.05" fill="url(#stg3)" opacity="0.95"/>
<rect x="466.6" y="806.8" width="22.1" height="2.05" fill="url(#stg3)" opacity="0.82"/>
<rect x="467.4" y="808.8" width="22.2" height="2.05" fill="url(#stg3)" opacity="0.97"/>
<rect x="466.9" y="810.8" width="23.7" height="2.05" fill="url(#stg3)" opacity="0.75"/>
<rect x="466.4" y="812.8" width="23.9" height="2.05" fill="url(#stg3)" opacity="0.99"/>
<rect x="466.1" y="814.8" width="23.3" height="2.05" fill="url(#stg3)" opacity="0.90"/>
<rect x="465.4" y="816.8" width="25.5" height="2.05" fill="url(#stg3)" opacity="0.92"/>
<rect x="465.9" y="818.8" width="25.3" height="2.05" fill="url(#stg3)" opacity="0.94"/>
<rect x="466.4" y="820.8" width="24.2" height="2.05" fill="url(#stg3)" opacity="0.99"/>
<rect x="465.8" y="822.8" width="24.1" height="2.05" fill="url(#stg3)" opacity="0.86"/>
<rect x="465.0" y="824.8" width="25.2" height="2.05" fill="url(#stg3)" opacity="0.99"/>
<rect x="464.7" y="826.8" width="26.9" height="2.05" fill="url(#stg3)" opacity="0.92"/>
<rect x="465.8" y="828.8" width="24.1" height="2.05" fill="url(#stg3)" opacity="0.94"/>
<rect x="465.9" y="830.8" width="25.0" height="2.05" fill="url(#stg3)" opacity="0.99"/>
<rect x="465.8" y="832.8" width="26.1" height="2.05" fill="url(#stg3)" opacity="0.93"/>
<rect x="466.9" y="834.8" width="23.3" height="2.05" fill="url(#stg3)" opacity="0.99"/>
<rect x="466.2" y="836.8" width="23.2" height="2.05" fill="url(#stg3)" opacity="0.98"/>
<rect x="466.0" y="838.8" width="25.6" height="2.05" fill="url(#stg3)" opacity="0.87"/>
<rect x="465.5" y="840.8" width="24.9" height="2.05" fill="url(#stg3)" opacity="0.80"/>
<rect x="466.2" y="842.8" width="23.9" height="2.05" fill="url(#stg3)" opacity="0.87"/>
<rect x="466.9" y="844.8" width="23.5" height="2.05" fill="url(#stg3)" opacity="0.96"/>
<rect x="465.1" y="846.8" width="26.2" height="2.05" fill="url(#stg3)" opacity="0.96"/>
<rect x="465.9" y="848.8" width="24.5" height="2.05" fill="url(#stg3)" opacity="0.99"/>
<rect x="467.0" y="850.8" width="22.4" height="2.05" fill="url(#stg3)"/>
<rect x="465.2" y="852.8" width="25.7" height="2.05" fill="url(#stg3)" opacity="0.93"/>
<rect x="465.7" y="854.8" width="25.0" height="2.05" fill="url(#stg3)" opacity="0.97"/>
<rect x="466.8" y="856.8" width="24.0" height="2.05" fill="url(#stg3)" opacity="0.94"/>
<rect x="465.2" y="858.8" width="24.5" height="2.05" fill="url(#stg3)" opacity="0.83"/>
<rect x="465.3" y="860.8" width="23.6" height="2.05" fill="url(#stg3)" opacity="0.91"/>
<rect x="464.6" y="862.8" width="27.2" height="2.05" fill="url(#stg3)" opacity="0.92"/>
<rect x="465.6" y="864.8" width="24.3" height="2.05" fill="url(#stg3)" opacity="0.95"/>
<rect x="466.2" y="866.8" width="23.7" height="2.05" fill="url(#stg3)" opacity="0.93"/>
<rect x="467.1" y="868.8" width="22.5" height="2.05" fill="url(#stg3)" opacity="0.99"/>
<rect x="466.8" y="870.8" width="22.5" height="2.05" fill="url(#stg3)" opacity="0.97"/>
<rect x="464.9" y="872.8" width="25.4" height="2.05" fill="url(#stg3)" opacity="0.98"/>
<rect x="466.5" y="874.8" width="23.1" height="2.05" fill="url(#stg3)" opacity="0.99"/>
<rect x="465.7" y="876.8" width="22.4" height="2.05" fill="url(#stg3)" opacity="0.96"/>
<rect x="464.2" y="878.8" width="25.2" height="2.05" fill="url(#stg3)" opacity="0.83"/>
<rect x="467.0" y="880.8" width="22.8" height="2.05" fill="url(#stg3)" opacity="0.92"/>
<rect x="467.1" y="882.8" width="21.8" height="2.05" fill="url(#stg3)" opacity="0.88"/>
<rect x="466.8" y="884.8" width="23.9" height="2.05" fill="url(#stg3)" opacity="0.97"/>
<rect x="466.5" y="886.8" width="22.6" height="2.05" fill="url(#stg3)" opacity="0.89"/>
<rect x="465.6" y="888.8" width="23.9" height="2.05" fill="url(#stg3)" opacity="0.92"/>
<rect x="466.5" y="890.8" width="22.2" height="2.05" fill="url(#stg3)" opacity="0.87"/>
<rect x="465.1" y="892.8" width="25.4" height="2.05" fill="url(#stg3)"/>
<rect x="465.7" y="894.8" width="23.5" height="2.05" fill="url(#stg3)" opacity="0.94"/>
<rect x="466.1" y="896.8" width="23.5" height="2.05" fill="url(#stg3)" opacity="0.97"/>
<rect x="465.6" y="898.8" width="22.8" height="2.05" fill="url(#stg3)" opacity="0.83"/>
<rect x="466.2" y="900.8" width="22.5" height="2.05" fill="url(#stg3)" opacity="0.97"/>
<rect x="467.6" y="902.8" width="21.9" height="2.05" fill="url(#stg3)" opacity="0.98"/>
<rect x="466.7" y="904.8" width="21.5" height="2.05" fill="url(#stg3)" opacity="0.93"/>
<rect x="465.7" y="906.8" width="24.1" height="2.05" fill="url(#stg3)" opacity="0.92"/>
<rect x="466.4" y="908.8" width="23.2" height="2.05" fill="url(#stg3)" opacity="0.99"/>
<rect x="466.1" y="910.8" width="22.2" height="2.05" fill="url(#stg3)" opacity="0.87"/>
<rect x="465.3" y="912.8" width="24.4" height="2.05" fill="url(#stg3)"/>
<rect x="465.9" y="914.8" width="23.3" height="2.05" fill="url(#stg3)" opacity="0.94"/>
<rect x="465.7" y="916.8" width="23.8" height="2.05" fill="url(#stg3)"/>
<rect x="466.0" y="918.8" width="25.0" height="2.05" fill="url(#stg3)" opacity="0.96"/>
<rect x="466.5" y="920.8" width="22.0" height="2.05" fill="url(#stg3)" opacity="0.91"/>
<rect x="466.4" y="922.8" width="23.8" height="2.05" fill="url(#stg3)" opacity="0.95"/>
<rect x="465.6" y="924.8" width="25.2" height="2.05" fill="url(#stg3)" opacity="0.91"/>
<rect x="464.5" y="926.8" width="26.2" height="2.05" fill="url(#stg3)" opacity="0.88"/>
<rect x="465.9" y="928.8" width="24.7" height="2.05" fill="url(#stg3)" opacity="0.91"/>
<rect x="465.8" y="930.8" width="26.1" height="2.05" fill="url(#stg3)" opacity="0.89"/>
<rect x="464.3" y="932.8" width="25.2" height="2.05" fill="url(#stg3)" opacity="0.90"/>
<rect x="465.2" y="934.8" width="25.2" height="2.05" fill="url(#stg3)" opacity="0.84"/>
<rect x="464.5" y="936.8" width="24.4" height="2.05" fill="url(#stg3)"/>
<rect x="465.6" y="938.8" width="24.1" height="2.05" fill="url(#stg3)" opacity="0.91"/>
<rect x="465.1" y="940.8" width="23.8" height="2.05" fill="url(#stg3)" opacity="0.90"/>
<rect x="464.5" y="942.8" width="24.7" height="2.05" fill="url(#stg3)" opacity="0.99"/>
<rect x="466.7" y="944.8" width="22.6" height="2.05" fill="url(#stg3)" opacity="0.93"/>
<rect x="465.9" y="946.8" width="22.7" height="2.05" fill="url(#stg3)" opacity="0.98"/>
<rect x="465.1" y="948.8" width="24.5" height="2.05" fill="url(#stg3)" opacity="0.97"/>
<rect x="467.9" y="950.8" width="22.0" height="2.05" fill="url(#stg3)" opacity="0.91"/>
<rect x="465.8" y="952.8" width="24.0" height="2.05" fill="url(#stg3)" opacity="0.86"/>
<rect x="465.0" y="954.8" width="25.1" height="2.05" fill="url(#stg3)" opacity="0.99"/>
<rect x="466.1" y="956.8" width="23.6" height="2.05" fill="url(#stg3)" opacity="0.88"/>
<rect x="467.4" y="958.8" width="20.8" height="2.05" fill="url(#stg3)" opacity="0.93"/>
<rect x="467.1" y="960.8" width="19.3" height="2.05" fill="url(#stg3)" opacity="0.95"/>
<rect x="466.5" y="962.8" width="24.1" height="2.05" fill="url(#stg3)" opacity="0.88"/>
<rect x="464.5" y="964.8" width="25.6" height="2.05" fill="url(#stg3)" opacity="0.98"/>
<rect x="465.9" y="966.8" width="23.9" height="2.05" fill="url(#stg3)"/>
<rect x="465.8" y="968.8" width="24.8" height="2.05" fill="url(#stg3)" opacity="0.98"/>
<rect x="464.9" y="970.8" width="24.7" height="2.05" fill="url(#stg3)" opacity="0.93"/>
<rect x="467.3" y="972.8" width="22.2" height="2.05" fill="url(#stg3)" opacity="0.99"/>
<rect x="466.7" y="974.8" width="22.1" height="2.05" fill="url(#stg3)" opacity="0.83"/>
<rect x="466.9" y="976.8" width="23.3" height="2.05" fill="url(#stg3)" opacity="0.92"/>
<rect x="467.9" y="978.8" width="20.2" height="2.05" fill="url(#stg3)" opacity="0.97"/>
<rect x="465.7" y="980.8" width="24.1" height="2.05" fill="url(#stg3)" opacity="0.89"/>
<rect x="465.8" y="982.8" width="23.7" height="2.05" fill="url(#stg3)" opacity="0.88"/>
<rect x="466.0" y="984.8" width="24.0" height="2.05" fill="url(#stg3)" opacity="0.85"/>
<rect x="465.8" y="986.8" width="23.4" height="2.05" fill="url(#stg3)" opacity="0.82"/>
<rect x="466.0" y="988.8" width="25.4" height="2.05" fill="url(#stg3)" opacity="0.91"/>
<rect x="466.1" y="990.8" width="24.2" height="2.05" fill="url(#stg3)" opacity="0.98"/>
<rect x="465.8" y="992.8" width="23.7" height="2.05" fill="url(#stg3)" opacity="0.99"/>
<rect x="466.2" y="994.8" width="24.8" height="2.05" fill="url(#stg3)" opacity="0.99"/>
<rect x="465.9" y="996.8" width="23.1" height="2.05" fill="url(#stg3)" opacity="0.84"/>
<rect x="466.0" y="998.8" width="24.1" height="2.05" fill="url(#stg3)" opacity="0.97"/>
<rect x="465.2" y="1000.8" width="23.9" height="2.05" fill="url(#stg3)" opacity="0.91"/>
<rect x="465.8" y="1002.8" width="23.7" height="2.05" fill="url(#stg3)" opacity="0.98"/>
<rect x="467.0" y="1004.8" width="21.7" height="2.05" fill="url(#stg3)" opacity="0.98"/>
<rect x="464.7" y="1006.8" width="25.3" height="2.05" fill="url(#stg3)" opacity="0.92"/>
<rect x="465.1" y="1008.8" width="26.2" height="2.05" fill="url(#stg3)" opacity="0.97"/>
<rect x="465.4" y="1010.8" width="24.3" height="2.05" fill="url(#stg3)"/>
<rect x="465.0" y="1012.8" width="24.7" height="2.05" fill="url(#stg3)" opacity="0.80"/>
<rect x="465.9" y="1014.8" width="23.7" height="2.05" fill="url(#stg3)" opacity="0.90"/>
<rect x="466.9" y="1016.8" width="22.2" height="2.05" fill="url(#stg3)" opacity="0.89"/>
<rect x="467.2" y="1018.8" width="22.7" height="2.05" fill="url(#stg3)" opacity="0.89"/>
<rect x="466.5" y="1020.8" width="24.4" height="2.05" fill="url(#stg3)" opacity="0.94"/>
<rect x="467.1" y="1022.8" width="23.7" height="2.05" fill="url(#stg3)" opacity="0.94"/>
<rect x="465.1" y="1024.8" width="24.1" height="2.05" fill="url(#stg3)" opacity="0.85"/>
<rect x="467.1" y="1026.8" width="22.6" height="2.05" fill="url(#stg3)" opacity="0.91"/>
<rect x="465.4" y="1028.8" width="24.4" height="2.05" fill="url(#stg3)" opacity="0.98"/>
<rect x="465.8" y="1030.8" width="24.4" height="2.05" fill="url(#stg3)" opacity="0.97"/>
<rect x="465.8" y="1032.8" width="24.3" height="2.05" fill="url(#stg3)" opacity="0.99"/>
<rect x="464.9" y="1034.8" width="26.7" height="2.05" fill="url(#stg3)" opacity="0.94"/>
<rect x="467.2" y="1036.8" width="21.6" height="2.05" fill="url(#stg3)" opacity="0.96"/>
<rect x="465.9" y="1038.8" width="22.0" height="2.05" fill="url(#stg3)" opacity="0.91"/>
<rect x="466.5" y="1040.8" width="23.8" height="2.05" fill="url(#stg3)" opacity="0.83"/>
<rect x="466.3" y="1042.8" width="23.0" height="2.05" fill="url(#stg3)" opacity="0.94"/>
<rect x="467.1" y="1044.8" width="24.3" height="2.05" fill="url(#stg3)" opacity="0.92"/>
<rect x="465.4" y="1046.8" width="23.9" height="2.05" fill="url(#stg3)" opacity="0.98"/>
<rect x="465.3" y="1048.8" width="24.2" height="2.05" fill="url(#stg3)" opacity="0.88"/>
<rect x="465.9" y="1050.8" width="25.5" height="2.05" fill="url(#stg3)" opacity="0.89"/>
<rect x="465.4" y="1052.8" width="24.7" height="2.05" fill="url(#stg3)" opacity="0.99"/>
<rect x="466.1" y="1054.8" width="23.5" height="2.05" fill="url(#stg3)" opacity="0.87"/>
<rect x="464.7" y="1056.8" width="25.1" height="2.05" fill="url(#stg3)" opacity="0.98"/>
<rect x="465.4" y="1058.8" width="25.4" height="2.05" fill="url(#stg3)" opacity="0.83"/>
<rect x="465.5" y="1060.8" width="24.3" height="2.05" fill="url(#stg3)" opacity="0.96"/>
<rect x="465.1" y="1062.8" width="25.5" height="2.05" fill="url(#stg3)" opacity="0.98"/>
<rect x="466.1" y="1064.8" width="22.7" height="2.05" fill="url(#stg3)" opacity="0.92"/>
<rect x="467.7" y="1066.8" width="21.3" height="2.05" fill="url(#stg3)" opacity="0.87"/>
<rect x="465.4" y="1068.8" width="25.9" height="2.05" fill="url(#stg3)" opacity="0.96"/>
<rect x="466.7" y="1070.8" width="22.4" height="2.05" fill="url(#stg3)" opacity="0.75"/>
<rect x="464.9" y="1072.8" width="26.3" height="2.05" fill="url(#stg3)" opacity="0.94"/>
<rect x="467.4" y="1074.8" width="21.6" height="2.05" fill="url(#stg3)" opacity="0.96"/>
<rect x="467.6" y="1076.8" width="22.2" height="2.05" fill="url(#stg3)" opacity="0.89"/>
<rect x="467.1" y="1078.8" width="22.5" height="2.05" fill="url(#stg3)" opacity="0.95"/>
<rect x="465.9" y="1080.8" width="23.9" height="2.05" fill="url(#stg3)" opacity="0.95"/>
<rect x="465.9" y="1082.8" width="23.6" height="2.05" fill="url(#stg3)" opacity="0.90"/>
<rect x="465.5" y="1084.8" width="23.9" height="2.05" fill="url(#stg3)" opacity="0.91"/>
<rect x="465.3" y="1086.8" width="24.0" height="2.05" fill="url(#stg3)" opacity="0.94"/>
<rect x="465.0" y="1088.8" width="25.2" height="2.05" fill="url(#stg3)" opacity="0.95"/>
<rect x="467.6" y="1090.8" width="22.9" height="2.05" fill="url(#stg3)" opacity="0.96"/>
<rect x="466.6" y="1092.8" width="22.9" height="2.05" fill="url(#stg3)" opacity="0.94"/>
<rect x="465.7" y="1094.8" width="24.9" height="2.05" fill="url(#stg3)"/>
<rect x="465.7" y="1096.8" width="23.9" height="2.05" fill="url(#stg3)" opacity="0.99"/>
<rect x="467.4" y="1098.8" width="22.7" height="2.05" fill="url(#stg3)"/>
<rect x="464.8" y="1100.8" width="24.9" height="2.05" fill="url(#stg3)" opacity="0.89"/>
<rect x="465.2" y="1102.8" width="23.9" height="2.05" fill="url(#stg3)" opacity="0.89"/>
<rect x="466.1" y="1104.8" width="22.4" height="2.05" fill="url(#stg3)" opacity="0.93"/>
<rect x="465.3" y="1106.8" width="24.5" height="2.05" fill="url(#stg3)" opacity="0.92"/>
<rect x="465.3" y="1108.8" width="24.8" height="2.05" fill="url(#stg3)" opacity="0.92"/>
<rect x="467.1" y="1110.8" width="22.6" height="2.05" fill="url(#stg3)" opacity="0.88"/>
<rect x="463.8" y="1112.8" width="26.7" height="2.05" fill="url(#stg3)" opacity="0.97"/>
<rect x="466.3" y="1114.8" width="24.0" height="2.05" fill="url(#stg3)" opacity="0.98"/>
<rect x="464.8" y="1116.8" width="26.7" height="2.05" fill="url(#stg3)" opacity="0.90"/>
<rect x="466.0" y="1118.8" width="22.5" height="2.05" fill="url(#stg3)" opacity="0.87"/>
<rect x="465.9" y="1120.8" width="25.2" height="2.05" fill="url(#stg3)" opacity="0.90"/>
<rect x="465.6" y="1122.8" width="23.5" height="2.05" fill="url(#stg3)" opacity="0.86"/>
<rect x="464.2" y="1124.8" width="24.8" height="2.05" fill="url(#stg3)" opacity="0.89"/>
<rect x="467.4" y="1126.8" width="22.4" height="2.05" fill="url(#stg3)" opacity="0.97"/>
<rect x="466.0" y="1128.8" width="22.6" height="2.05" fill="url(#stg3)" opacity="0.86"/>
<rect x="466.8" y="1130.8" width="23.4" height="2.05" fill="url(#stg3)" opacity="0.91"/>
<rect x="465.3" y="1132.8" width="23.4" height="2.05" fill="url(#stg3)"/>
<rect x="466.1" y="1134.8" width="23.9" height="2.05" fill="url(#stg3)" opacity="0.89"/>
<rect x="466.0" y="1136.8" width="23.9" height="2.05" fill="url(#stg3)" opacity="0.87"/>
<rect x="467.2" y="1138.8" width="23.8" height="2.05" fill="url(#stg3)" opacity="0.92"/>
<rect x="466.4" y="1140.8" width="23.1" height="2.05" fill="url(#stg3)" opacity="0.93"/>
<rect x="466.7" y="1142.8" width="22.5" height="2.05" fill="url(#stg3)" opacity="0.94"/>
<rect x="465.8" y="1144.8" width="24.4" height="2.05" fill="url(#stg3)" opacity="0.98"/>
<rect x="466.3" y="1146.8" width="22.6" height="2.05" fill="url(#stg3)" opacity="0.98"/>
<rect x="465.5" y="1148.8" width="24.3" height="2.05" fill="url(#stg3)"/>
<rect x="465.2" y="1150.8" width="24.1" height="2.05" fill="url(#stg3)" opacity="0.87"/>
<rect x="465.9" y="1152.8" width="23.6" height="2.05" fill="url(#stg3)" opacity="0.79"/>
<rect x="465.9" y="1154.8" width="24.2" height="2.05" fill="url(#stg3)" opacity="0.98"/>
<rect x="466.0" y="1156.8" width="23.5" height="2.05" fill="url(#stg3)" opacity="0.90"/>
<rect x="466.2" y="1158.8" width="23.2" height="2.05" fill="url(#stg3)" opacity="0.99"/>
<rect x="465.1" y="1160.8" width="24.3" height="2.05" fill="url(#stg3)" opacity="0.99"/>
<rect x="466.2" y="1162.8" width="23.4" height="2.05" fill="url(#stg3)" opacity="0.94"/>
<rect x="464.7" y="1164.8" width="24.7" height="2.05" fill="url(#stg3)" opacity="0.98"/>
<rect x="465.8" y="1166.8" width="24.6" height="2.05" fill="url(#stg3)" opacity="0.93"/>
<rect x="465.3" y="1168.8" width="24.9" height="2.05" fill="url(#stg3)" opacity="0.96"/>
<rect x="467.1" y="1170.8" width="21.8" height="2.05" fill="url(#stg3)" opacity="0.95"/>
<rect x="465.8" y="1172.8" width="25.5" height="2.05" fill="url(#stg3)" opacity="0.98"/>
<rect x="464.4" y="1174.8" width="25.4" height="2.05" fill="url(#stg3)" opacity="0.99"/>
<rect x="464.2" y="1176.8" width="24.5" height="2.05" fill="url(#stg3)" opacity="0.85"/>
<rect x="465.6" y="1178.8" width="23.1" height="2.05" fill="url(#stg3)" opacity="0.87"/>
<rect x="465.5" y="1180.8" width="24.4" height="2.05" fill="url(#stg3)" opacity="0.83"/>
<rect x="466.8" y="1182.8" width="23.9" height="2.05" fill="url(#stg3)" opacity="0.98"/>
<rect x="465.7" y="1184.8" width="23.0" height="2.05" fill="url(#stg3)" opacity="0.96"/>
<rect x="466.0" y="1186.8" width="24.2" height="2.05" fill="url(#stg3)" opacity="0.90"/>
<rect x="465.4" y="1188.8" width="23.9" height="2.05" fill="url(#stg3)" opacity="0.93"/>
<rect x="465.4" y="1190.8" width="25.5" height="2.05" fill="url(#stg3)" opacity="0.96"/>
<rect x="465.4" y="1192.8" width="24.5" height="2.05" fill="url(#stg3)" opacity="0.90"/>
<rect x="464.5" y="1194.8" width="24.8" height="2.05" fill="url(#stg3)" opacity="0.99"/>
<rect x="467.2" y="1196.8" width="21.6" height="0.35" fill="url(#stg3)" opacity="0.96"/>
<path d="M92,992.3 V794.5 H283.3 V992.3" fill="none" stroke="#262626" stroke-width="1.5"/>
<path d="M92,999.1 V1197.2 H283.3 V999.1" fill="none" stroke="#262626" stroke-width="1.5"/>
<rect x="92.8" y="992.3" width="189.8" height="6.8" fill="#fff"/>
<line x1="89.4" y1="995.3" x2="95.2" y2="990.1" stroke="#000" stroke-width="1.8"/>
<line x1="89.4" y1="1001.5" x2="95.2" y2="996.3" stroke="#000" stroke-width="1.8"/>
<line x1="280.7" y1="995.3" x2="286.5" y2="990.1" stroke="#000" stroke-width="1.8"/>
<line x1="280.7" y1="1001.5" x2="286.5" y2="996.3" stroke="#000" stroke-width="1.8"/>
<line x1="86.8" y1="794.5" x2="92" y2="794.5" stroke="#262626" stroke-width="1.3"/>
<text transform="translate(78.60,802.30) scale(1.02,1)" font-size="17.5" text-anchor="end">0</text>
<line x1="86.8" y1="843.9" x2="92" y2="843.9" stroke="#262626" stroke-width="1.3"/>
<text transform="translate(78.60,851.70) scale(1.02,1)" font-size="17.5" text-anchor="end">100</text>
<line x1="86.8" y1="893.4" x2="92" y2="893.4" stroke="#262626" stroke-width="1.3"/>
<text transform="translate(78.60,901.20) scale(1.02,1)" font-size="17.5" text-anchor="end">200</text>
<line x1="86.8" y1="943.4" x2="92" y2="943.4" stroke="#262626" stroke-width="1.3"/>
<text transform="translate(78.60,951.20) scale(1.02,1)" font-size="17.5" text-anchor="end">300</text>
<line x1="86.8" y1="999" x2="92" y2="999" stroke="#262626" stroke-width="1.3"/>
<text transform="translate(78.60,1006.80) scale(1.02,1)" font-size="17.5" text-anchor="end">0</text>
<line x1="86.8" y1="1048.6" x2="92" y2="1048.6" stroke="#262626" stroke-width="1.3"/>
<text transform="translate(78.60,1056.40) scale(1.02,1)" font-size="17.5" text-anchor="end">100</text>
<line x1="86.8" y1="1098.3" x2="92" y2="1098.3" stroke="#262626" stroke-width="1.3"/>
<text transform="translate(78.60,1106.10) scale(1.02,1)" font-size="17.5" text-anchor="end">200</text>
<line x1="86.8" y1="1148.2" x2="92" y2="1148.2" stroke="#262626" stroke-width="1.3"/>
<text transform="translate(78.60,1156.00) scale(1.02,1)" font-size="17.5" text-anchor="end">300</text>
<line x1="92" y1="1197.2" x2="92" y2="1202.4" stroke="#262626" stroke-width="1.3"/>
<text transform="translate(92.00,1224.70) scale(1.03,1)" font-size="17.5" text-anchor="middle">0</text>
<line x1="194.8" y1="1197.2" x2="194.8" y2="1202.4" stroke="#262626" stroke-width="1.3"/>
<text transform="translate(194.80,1224.70) scale(1.03,1)" font-size="17.5" text-anchor="middle">5</text>
<text transform="translate(195.00,1251.50) scale(1.03,1)" font-size="17.5" text-anchor="middle">Time (ps)</text>
<text transform="translate(33.4,996.7) rotate(-90) scale(1.02,1)" font-size="17.5" text-anchor="middle">Bunch number</text>
<rect x="384.3" y="794.7" width="191.2" height="402.4" fill="none" stroke="#262626" stroke-width="1.5"/>
<line x1="379" y1="794.8" x2="384.3" y2="794.8" stroke="#262626" stroke-width="1.3"/>
<text transform="translate(370.20,802.60) scale(1.02,1)" font-size="17.5" text-anchor="end">0</text>
<line x1="379" y1="874" x2="384.3" y2="874" stroke="#262626" stroke-width="1.3"/>
<text transform="translate(370.20,881.83) scale(1.02,1)" font-size="17.5" text-anchor="end">50</text>
<line x1="379" y1="953.3" x2="384.3" y2="953.3" stroke="#262626" stroke-width="1.3"/>
<text transform="translate(370.20,961.06) scale(1.02,1)" font-size="17.5" text-anchor="end">100</text>
<line x1="379" y1="1032.5" x2="384.3" y2="1032.5" stroke="#262626" stroke-width="1.3"/>
<text transform="translate(370.20,1040.29) scale(1.02,1)" font-size="17.5" text-anchor="end">150</text>
<line x1="379" y1="1111.7" x2="384.3" y2="1111.7" stroke="#262626" stroke-width="1.3"/>
<text transform="translate(370.20,1119.52) scale(1.02,1)" font-size="17.5" text-anchor="end">200</text>
<line x1="379" y1="1191" x2="384.3" y2="1191" stroke="#262626" stroke-width="1.3"/>
<text transform="translate(370.20,1198.75) scale(1.02,1)" font-size="17.5" text-anchor="end">250</text>
<line x1="384.3" y1="1197.1" x2="384.3" y2="1202.3" stroke="#262626" stroke-width="1.3"/>
<text transform="translate(384.30,1224.70) scale(1.03,1)" font-size="17.5" text-anchor="middle">0</text>
<line x1="487.5" y1="1197.1" x2="487.5" y2="1202.3" stroke="#262626" stroke-width="1.3"/>
<text transform="translate(487.50,1224.70) scale(1.03,1)" font-size="17.5" text-anchor="middle">5</text>
<text transform="translate(487.30,1252.00) scale(1.03,1)" font-size="17.5" text-anchor="middle">Time (ps)</text>
<text transform="translate(327.8,997.6) rotate(-90) scale(1.02,1)" font-size="17.5" text-anchor="middle">Burst number</text>
<line x1="92" y1="893.6" x2="283.3" y2="893.6" stroke="#000" stroke-width="2.4" stroke-dasharray="7,3.4"/>
<line x1="92" y1="1098.3" x2="283.3" y2="1098.3" stroke="#000" stroke-width="2.4" stroke-dasharray="7,3.4"/>
<line x1="384.3" y1="795.4" x2="575.5" y2="795.4" stroke="#000" stroke-width="2.6" stroke-dasharray="7,3.4"/>
<line x1="384.3" y1="794.8" x2="283.3" y2="893.6" stroke="#000" stroke-width="2.4" stroke-dasharray="7,3.4"/>
<line x1="384.3" y1="794.8" x2="283.3" y2="1098.3" stroke="#000" stroke-width="2.4" stroke-dasharray="7,3.4"/>
<rect x="101.1" y="903.9" width="9.9" height="79.4" fill="url(#spec)" stroke="#111" stroke-width="1.3"/>
<line x1="111" y1="920.9" x2="116.2" y2="920.9" stroke="#111" stroke-width="1.3"/>
<text x="125.4" y="926.4" font-size="15.5">0.1</text>
<line x1="111" y1="943.6" x2="116.2" y2="943.6" stroke="#111" stroke-width="1.3"/>
<text x="125.4" y="949.1" font-size="15.5">0.0</text>
<line x1="111" y1="966.3" x2="116.2" y2="966.3" stroke="#111" stroke-width="1.3"/>
<text x="125.2" y="971.8" font-size="15.5">−0.1</text>
<rect x="100.8" y="1108.5" width="10" height="79.5" fill="url(#spec)" stroke="#111" stroke-width="1.3"/>
<line x1="110.8" y1="1125.5" x2="116" y2="1125.5" stroke="#111" stroke-width="1.3"/>
<text x="125.2" y="1131" font-size="15.5">0.1</text>
<line x1="110.8" y1="1148.2" x2="116" y2="1148.2" stroke="#111" stroke-width="1.3"/>
<text x="125.2" y="1153.8" font-size="15.5">0.0</text>
<line x1="110.8" y1="1171" x2="116" y2="1171" stroke="#111" stroke-width="1.3"/>
<text x="125" y="1176.5" font-size="15.5">−0.1</text>
<rect x="393.4" y="1107.2" width="10.4" height="81" fill="url(#spec)" stroke="#111" stroke-width="1.3"/>
<line x1="403.8" y1="1124.6" x2="409" y2="1124.6" stroke="#111" stroke-width="1.3"/>
<text x="418.2" y="1130.1" font-size="15.5">0.1</text>
<line x1="403.8" y1="1147.7" x2="409" y2="1147.7" stroke="#111" stroke-width="1.3"/>
<text x="418.2" y="1153.2" font-size="15.5">0.0</text>
<line x1="403.8" y1="1170.8" x2="409" y2="1170.8" stroke="#111" stroke-width="1.3"/>
<text x="418" y="1176.3" font-size="15.5">−0.1</text>
<text x="97.5" y="817.7" font-size="25" font-weight="bold">e</text>
<text x="392.3" y="822.3" font-size="25" font-weight="bold">f</text>
<text transform="translate(199.30,818.30) scale(1.03,1)" font-size="17">Burst #1</text>
<text transform="translate(196.40,1020.00) scale(1.03,1)" font-size="17">Burst #2</text>
<text transform="translate(471.60,819.60) scale(1.03,1)" font-size="17">Bunch #200</text>
<path d="M92.5,1345.7 94,1341.7 95.5,1338.2 97,1335.4 98.5,1333.7 100,1332.3 101.5,1331.7 103,1330.2 104.5,1330.4 106,1329.8 107.5,1330.1 109,1329.5 110.5,1328.1 112,1328.2 113.5,1327.9 115,1328.6 116.5,1328.5 118,1327.8 119.5,1328.8 121,1328.3 122.5,1328.6 124,1329.2 125.5,1328.5 127,1329 128.5,1329.4 130,1329.9 131.5,1329.2 133,1328.9 134.5,1328.8 136,1330.1 137.5,1330.4 139,1330.3 140.5,1330.2 142,1330.8 143.5,1330.3 145,1329.8 146.5,1330.9 148,1331.3 149.5,1330.8 151,1330.3 152.5,1330.7 154,1330.7 155.5,1331 157,1331.5 158.5,1331.2 160,1332.1 161.5,1332.7 163,1332.1 164.5,1332.4 166,1333.5 167.5,1332.4 169,1332.7 170.5,1333.4 172,1332.7 173.5,1333.5 175,1334.6 176.5,1334.1 178,1334.5 179.5,1335 181,1335.2 182.5,1334.6 184,1334.3 185.5,1334.4 187,1334.8 188.5,1335.2 190,1334.8 191.5,1335.1 193,1335.2 194.5,1336.3 196,1335.8 197.5,1336.2 199,1337.1 200.5,1336.6 202,1336.1 203.5,1336.6 205,1337.5 206.5,1336.3 208,1337.2 209.5,1337.3 211,1337.4 212.5,1338 214,1337.1 215.5,1337 217,1337.6 218.5,1337.3 220,1338.1 221.5,1338.2 223,1338.2 224.5,1337.3 226,1337.5 227.5,1337 229,1337.3 230.5,1338.4 232,1338.4 233.5,1338.4 235,1337.2 236.5,1337.2 238,1337.8 239.5,1338.1 241,1337.8 242.5,1336.9 244,1338.2 245.5,1337.9 247,1336.9 248.5,1337.1 250,1338.1 251.5,1337.1 253,1337.6 254.5,1336.6 256,1337.8 257.5,1336.5 259,1337.8 260.5,1336.7 262,1336.3 263.5,1337.6 265,1336.9 266.5,1336.7 268,1337.2 269.5,1336.3 271,1336.2 272.5,1336.2 274,1335.9 275.5,1336.2 277,1336.5 278.5,1336.2 280,1336.2 281.5,1336.2 283,1336 284.5,1335.3 286,1335.5 287.5,1336.3 289,1335.6 290.5,1335.9 292,1335.1 293.5,1335.2 295,1336 296.5,1335.6 298,1336.1 299.5,1335.5 301,1335.3 302.5,1335.1 304,1335.1 305.5,1335.4 307,1335.7 308.5,1335 310,1335.4 311.5,1334.2 313,1334 314.5,1333.9 316,1335 317.5,1333.9 319,1334.6 320.5,1334.9 322,1333.8 323.5,1334 325,1334.8 326.5,1333.4 328,1333.9 329.5,1333.3 331,1334.1 332.5,1333.7 334,1332.8 335.5,1333.6 337,1332.6 338.5,1333.7 340,1332.5 341.5,1332.3 343,1332.6 344.5,1332.7 346,1333.3 347.5,1332.1 349,1332.7 350.5,1331.8 352,1332.7 353.5,1331.6 355,1332.4 356.5,1331.4 358,1331.3 359.5,1331.8 361,1331.9 362.5,1331.3 364,1331.6 365.5,1330.9 367,1330.7 368.5,1331 370,1331.6 371.5,1331.1 373,1330.7 374.5,1330.4 376,1331.1 377.5,1330.1 379,1331.1 380.5,1330.8 382,1330.1 383.5,1329.8 385,1330.1 386.5,1329.3 388,1329.6 389.5,1328.9 391,1328 392.5,1327.8 394,1327.7 395.5,1327.2 397,1328.1 398.5,1326.9 400,1326.7 401.5,1326.2 403,1326.2 404.5,1327.1 406,1325.7 407.5,1325.5 409,1324.8 410.5,1325.4 412,1324.7 413.5,1324.2 415,1324.1 416.5,1323.8 418,1324 419.5,1324.3 421,1324.3 422.5,1324 424,1323.3 425.5,1324.1 427,1323.4 428.5,1322.1 430,1323.3 431.5,1322.8 433,1321.6 434.5,1322 436,1322.3 437.5,1321.7 439,1321.6 440.5,1320.7 442,1320.3 443.5,1320 445,1320.5 446.5,1320.3 448,1319.9 449.5,1320.1 451,1319.4 452.5,1319.4 454,1319.2 455.5,1317.9 457,1318.7 458.5,1318.4 460,1317.7 461.5,1317.4 463,1317.5 464.5,1317 466,1315.9 467.5,1316.5 469,1315.8 470.5,1314.7 472,1315.3 473.5,1314.9 475,1314.3 476.5,1313.8 478,1314.1 479.5,1313.9 481,1312 482.5,1312.9 484,1311.9 485.5,1311.1 487,1310.7 488.5,1310.2 490,1311.2 491.5,1310.6 493,1310.3 494.5,1308.9 496,1308.9 497.5,1307.8 499,1308.2 500.5,1307.3 502,1307.2 503.5,1306.4 505,1307.3 506.5,1307.1 508,1306.7 509.5,1305.5 511,1306.1 512.5,1304.7 514,1304.2 515.5,1303.6 517,1303.5 518.5,1303.1 520,1303.2 521.5,1302.7 523,1303.2 524.5,1302.5 526,1302.8 527.5,1302.2 529,1302 530.5,1301.8 532,1301 533.5,1301.9 535,1301.1 536.5,1300.8 538,1301.9 539.5,1301.4 541,1301.3 542.5,1300.8 544,1300.9 545.5,1301.5 547,1302.3 548.5,1301.7 550,1301.5 551.5,1302 553,1302.1 554.5,1303 556,1303.8 557.5,1303.8 559,1304.3 560.5,1304.6 562,1307.4 563.5,1308.3 565,1310.3 566.5,1310 568,1309.3 569.5,1307 571,1302.6 572.5,1296 574,1291.3 575.5,1284.7 L575.5,1345.2 574,1350.1 572.5,1354.6 571,1357.2 569.5,1362.1 568,1364.2 566.5,1364.4 565,1363.2 563.5,1361.9 562,1359 560.5,1357.6 559,1356.8 557.5,1356.5 556,1355.8 554.5,1356.2 553,1355 551.5,1354.5 550,1354.3 548.5,1354.3 547,1355.5 545.5,1354.1 544,1355.1 542.5,1353.8 541,1354.1 539.5,1353.9 538,1353.8 536.5,1354.6 535,1354 533.5,1353.7 532,1353.7 530.5,1354.9 529,1354.8 527.5,1354.4 526,1355.5 524.5,1356.3 523,1356.5 521.5,1357.1 520,1356.2 518.5,1356.7 517,1358.2 515.5,1358.4 514,1357.6 512.5,1358.6 511,1359.3 509.5,1359.4 508,1359.7 506.5,1360.7 505,1360.2 503.5,1361.6 502,1362.1 500.5,1361.6 499,1361.9 497.5,1362.5 496,1362.1 494.5,1363.9 493,1363.9 491.5,1363.9 490,1363.6 488.5,1364.6 487,1365 485.5,1365.9 484,1365.1 482.5,1366.6 481,1366.1 479.5,1367.2 478,1366.3 476.5,1366.5 475,1367.4 473.5,1367.4 472,1368.3 470.5,1368 469,1367.8 467.5,1368.6 466,1368.8 464.5,1368.8 463,1369.9 461.5,1370.3 460,1370.1 458.5,1371.3 457,1370.3 455.5,1370.7 454,1370.9 452.5,1370.8 451,1371.8 449.5,1372.4 448,1371.4 446.5,1372.7 445,1372.8 443.5,1373.4 442,1372.8 440.5,1372.5 439,1373.8 437.5,1374.3 436,1374.4 434.5,1374.6 433,1374.3 431.5,1375 430,1374.9 428.5,1375.4 427,1375.3 425.5,1374.7 424,1375.2 422.5,1376.2 421,1376.1 419.5,1376.1 418,1375.8 416.5,1375.6 415,1376.4 413.5,1376.4 412,1377 410.5,1377.2 409,1377.2 407.5,1377.3 406,1378.5 404.5,1378.1 403,1378.9 401.5,1378.3 400,1378.5 398.5,1378.4 397,1379.3 395.5,1379.8 394,1379 392.5,1380.1 391,1379.4 389.5,1380 388,1380.7 386.5,1381.2 385,1381.6 383.5,1381.1 382,1381.8 380.5,1381.3 379,1381 377.5,1381.8 376,1382.1 374.5,1381.4 373,1381.6 371.5,1382.1 370,1382.4 368.5,1382.6 367,1382.6 365.5,1382.8 364,1383.1 362.5,1383.1 361,1384.5 359.5,1383.7 358,1384.7 356.5,1384.9 355,1385 353.5,1385.3 352,1384.7 350.5,1384.2 349,1385.4 347.5,1385.9 346,1385 344.5,1386.2 343,1385 341.5,1386.2 340,1385.5 338.5,1386.7 337,1386.8 335.5,1386.2 334,1386 332.5,1386.3 331,1385.7 329.5,1386.3 328,1386.4 326.5,1386.7 325,1387.4 323.5,1387 322,1387.8 320.5,1388 319,1386.8 317.5,1387.9 316,1388.3 314.5,1388.1 313,1387.6 311.5,1388 310,1387.7 308.5,1389.2 307,1388.4 305.5,1389.6 304,1389.9 302.5,1389.6 301,1390.1 299.5,1390.1 298,1390.2 296.5,1391 295,1390.9 293.5,1390.8 292,1391.6 290.5,1392.2 289,1392 287.5,1392.4 286,1392.5 284.5,1393.2 283,1392.4 281.5,1392.4 280,1393.4 278.5,1394.1 277,1394.2 275.5,1393.6 274,1394.4 272.5,1393.7 271,1394 269.5,1393.6 268,1393.4 266.5,1394.5 265,1394.6 263.5,1394.2 262,1393.2 260.5,1394.1 259,1394.3 257.5,1394.6 256,1394.5 254.5,1393.5 253,1393.6 251.5,1394.8 250,1394 248.5,1394.6 247,1394.6 245.5,1394.2 244,1394.6 242.5,1394.5 241,1394.7 239.5,1394.2 238,1394.8 236.5,1393.7 235,1393.8 233.5,1394 232,1394.9 230.5,1394 229,1394.4 227.5,1393.7 226,1393.2 224.5,1394 223,1394.3 221.5,1394.3 220,1394.5 218.5,1393.1 217,1393.9 215.5,1393.8 214,1393 212.5,1393.4 211,1393.7 209.5,1392.1 208,1392.1 206.5,1393.3 205,1391.9 203.5,1391.9 202,1391.5 200.5,1392 199,1392.7 197.5,1391.2 196,1391.4 194.5,1391 193,1392.1 191.5,1391.1 190,1390.7 188.5,1390.4 187,1390.5 185.5,1390.2 184,1391 182.5,1390.5 181,1391.1 179.5,1390.9 178,1389.7 176.5,1390.5 175,1390.5 173.5,1390.2 172,1389.8 170.5,1389.5 169,1389.7 167.5,1389.2 166,1388.9 164.5,1390 163,1389.1 161.5,1389.7 160,1389.6 158.5,1388.8 157,1389.3 155.5,1388.1 154,1388.8 152.5,1387.6 151,1388 149.5,1388.2 148,1387.4 146.5,1388.4 145,1387.7 143.5,1387.4 142,1387.7 140.5,1386.7 139,1386.6 137.5,1386 136,1386.1 134.5,1386 133,1385.5 131.5,1385.7 130,1384.4 128.5,1384.4 127,1385.1 125.5,1384.4 124,1384.4 122.5,1383.5 121,1383.8 119.5,1383.4 118,1382.8 116.5,1382.4 115,1382.8 113.5,1383 112,1383.4 110.5,1382.3 109,1382.7 107.5,1382.6 106,1383.5 104.5,1384.9 103,1384.5 101.5,1386.7 100,1387.3 98.5,1390.3 97,1393.3 95.5,1396.5 94,1400.5 92.5,1406.4Z" fill="#dcdcdc"/>
<path d="M92.5,1379.4 94,1376.8 95.5,1372.9 97,1368 98.5,1364.4 100,1361 101.5,1358.6 103,1357.1 104.5,1356.5 106,1356.3 107.5,1356.3 109,1355.8 110.5,1355.6 112,1355.6 113.5,1355.2 115,1355.3 116.5,1354.9 118,1355.9 119.5,1355.5 121,1356.4 122.5,1356.4 124,1356.3 125.5,1356.4 127,1356.8 128.5,1357.4 130,1357.7 131.5,1357.3 133,1357.5 134.5,1358.2 136,1358.5 137.5,1358.6 139,1358.7 140.5,1359.3 142,1359 143.5,1359.5 145,1359.9 146.5,1360.6 148,1360.4 149.5,1360.8 151,1360.6 152.5,1360.5 154,1360.6 155.5,1361.4 157,1361.3 158.5,1361 160,1360.8 161.5,1361.3 163,1361.6 164.5,1361.4 166,1361.3 167.5,1361.8 169,1362.1 170.5,1361.5 172,1361.4 173.5,1361.8 175,1361.9 176.5,1362.3 178,1361.9 179.5,1362.5 181,1362.6 182.5,1362.4 184,1362.2 185.5,1363 187,1362.4 188.5,1363 190,1362.5 191.5,1362.6 193,1363.2 194.5,1362.8 196,1363.6 197.5,1363.2 199,1363 200.5,1363.2 202,1363.5 203.5,1363.8 205,1364.3 206.5,1363.6 208,1364 209.5,1364 211,1364.9 212.5,1364.2 214,1364.2 215.5,1364.4 217,1364.9 218.5,1365.5 220,1365.6 221.5,1365.6 223,1365.9 224.5,1366 226,1365.4 227.5,1365.3 229,1366.1 230.5,1365.9 232,1365.2 233.5,1365.8 235,1365.5 236.5,1365.5 238,1365.4 239.5,1365.2 241,1365 242.5,1365.2 244,1365.3 245.5,1365.8 247,1364.9 248.5,1365.7 250,1364.9 251.5,1365 253,1365.4 254.5,1365.4 256,1364.9 257.5,1364.5 259,1364.9 260.5,1364.7 262,1365.2 263.5,1364.4 265,1364.6 266.5,1365 268,1364.1 269.5,1364.4 271,1364.8 272.5,1364.6 274,1363.9 275.5,1363.8 277,1363.7 278.5,1364.5 280,1363.8 281.5,1364.2 283,1364.3 284.5,1363.6 286,1363.5 287.5,1364.1 289,1363.7 290.5,1363.2 292,1363.6 293.5,1363.1 295,1363 296.5,1362.6 298,1363.3 299.5,1363.3 301,1362.9 302.5,1363.1 304,1362.1 305.5,1362.2 307,1362.3 308.5,1362.7 310,1362.5 311.5,1361.8 313,1361.6 314.5,1361.6 316,1361.5 317.5,1361.8 319,1360.9 320.5,1361.3 322,1361.1 323.5,1361 325,1360.8 326.5,1360.4 328,1360 329.5,1359.8 331,1359.7 332.5,1359.9 334,1359 335.5,1358.9 337,1359.3 338.5,1358.6 340,1358.3 341.5,1358.1 343,1358.4 344.5,1358 346,1358.5 347.5,1358.2 349,1358.2 350.5,1357.3 352,1357 353.5,1356.9 355,1357.1 356.5,1357.2 358,1356.8 359.5,1356.4 361,1356.5 362.5,1356.6 364,1356.5 365.5,1356.4 367,1356.4 368.5,1356.1 370,1355.4 371.5,1356 373,1355.3 374.5,1355.5 376,1355.2 377.5,1355.4 379,1354.7 380.5,1354.6 382,1354.5 383.5,1354.3 385,1354.8 386.5,1354.4 388,1353.9 389.5,1353.8 391,1354.2 392.5,1353.6 394,1353.1 395.5,1353.5 397,1353.1 398.5,1353.3 400,1352.2 401.5,1352.4 403,1352.6 404.5,1352.4 406,1352.4 407.5,1351.3 409,1351.4 410.5,1351.1 412,1351 413.5,1351.6 415,1351.1 416.5,1351.3 418,1350.6 419.5,1350.9 421,1350.3 422.5,1350 424,1350.3 425.5,1350.3 427,1349.3 428.5,1349.6 430,1349.4 431.5,1348.8 433,1348.8 434.5,1348.4 436,1348.2 437.5,1348.1 439,1348.3 440.5,1348.1 442,1347.5 443.5,1347.1 445,1347.2 446.5,1347.3 448,1346.6 449.5,1346.5 451,1346.1 452.5,1346.5 454,1346 455.5,1345.2 457,1345 458.5,1345 460,1344.9 461.5,1344.7 463,1343.8 464.5,1343.5 466,1343.8 467.5,1343.1 469,1342.7 470.5,1342.4 472,1342.7 473.5,1341.7 475,1341.6 476.5,1341 478,1340.7 479.5,1340.8 481,1340.6 482.5,1339.6 484,1339.1 485.5,1339.3 487,1338.4 488.5,1337.8 490,1338.4 491.5,1337.6 493,1337.6 494.5,1336.9 496,1337 497.5,1336.3 499,1335.6 500.5,1335.1 502,1335.3 503.5,1335.1 505,1335 506.5,1333.9 508,1334.1 509.5,1333.5 511,1333.3 512.5,1332.7 514,1332.5 515.5,1332.4 517,1332.5 518.5,1331.4 520,1331.5 521.5,1331.6 523,1331.5 524.5,1330.5 526,1330.2 527.5,1330.8 529,1330.6 530.5,1329.9 532,1329.3 533.5,1330 535,1329.3 536.5,1329.7 538,1329.2 539.5,1329.3 541,1328.5 542.5,1329 544,1328.4 545.5,1328.5 547,1328.8 548.5,1328.7 550,1328 551.5,1328 553,1328.2 554.5,1328.4 556,1328.5 557.5,1328.5 559,1329.3 560.5,1330.6 562,1331.9 563.5,1332.7 565,1335.4 566.5,1337.3 568,1337.3 569.5,1336.6 571,1332 572.5,1325.9 574,1318.7 575.5,1311.1" fill="none" stroke="#000" stroke-width="1.8" stroke-linejoin="round"/>
<rect x="92.5" y="1278.8" width="483" height="133.8" fill="none" stroke="#262626" stroke-width="1.5"/>
<line x1="87" y1="1307.1" x2="92.5" y2="1307.1" stroke="#262626" stroke-width="1.3"/>
<text transform="translate(78.60,1314.90) scale(1.02,1)" font-size="17.5" text-anchor="end">100</text>
<line x1="87" y1="1353.8" x2="92.5" y2="1353.8" stroke="#262626" stroke-width="1.3"/>
<text transform="translate(78.60,1361.60) scale(1.02,1)" font-size="17.5" text-anchor="end">0</text>
<line x1="87" y1="1400.4" x2="92.5" y2="1400.4" stroke="#262626" stroke-width="1.3"/>
<text transform="translate(78.60,1408.20) scale(1.02,1)" font-size="17.5" text-anchor="end">−100</text>
<line x1="92.5" y1="1412.6" x2="92.5" y2="1417.8" stroke="#262626" stroke-width="1.3"/>
<text transform="translate(92.50,1440.80) scale(1.03,1)" font-size="17.5" text-anchor="middle">0</text>
<line x1="165.4" y1="1412.6" x2="165.4" y2="1417.8" stroke="#262626" stroke-width="1.3"/>
<text transform="translate(165.43,1440.80) scale(1.03,1)" font-size="17.5" text-anchor="middle">50</text>
<line x1="238.3" y1="1412.6" x2="238.3" y2="1417.8" stroke="#262626" stroke-width="1.3"/>
<text transform="translate(238.35,1440.80) scale(1.03,1)" font-size="17.5" text-anchor="middle">100</text>
<line x1="311.3" y1="1412.6" x2="311.3" y2="1417.8" stroke="#262626" stroke-width="1.3"/>
<text transform="translate(311.27,1440.80) scale(1.03,1)" font-size="17.5" text-anchor="middle">150</text>
<line x1="384.2" y1="1412.6" x2="384.2" y2="1417.8" stroke="#262626" stroke-width="1.3"/>
<text transform="translate(384.20,1440.80) scale(1.03,1)" font-size="17.5" text-anchor="middle">200</text>
<line x1="457.1" y1="1412.6" x2="457.1" y2="1417.8" stroke="#262626" stroke-width="1.3"/>
<text transform="translate(457.12,1440.80) scale(1.03,1)" font-size="17.5" text-anchor="middle">250</text>
<line x1="530" y1="1412.6" x2="530" y2="1417.8" stroke="#262626" stroke-width="1.3"/>
<text transform="translate(530.05,1440.80) scale(1.03,1)" font-size="17.5" text-anchor="middle">300</text>
<text transform="translate(334.40,1470.20) scale(1.03,1)" font-size="17.5" text-anchor="middle">Bunch number</text>
<text transform="translate(25.8,1349) rotate(-90) scale(1.015,1)" font-size="17.5" text-anchor="middle">Arrival time (fs)</text>
<text x="102.5" y="1299.5" font-size="25" font-weight="bold">g</text>
</svg>
</body></html>
